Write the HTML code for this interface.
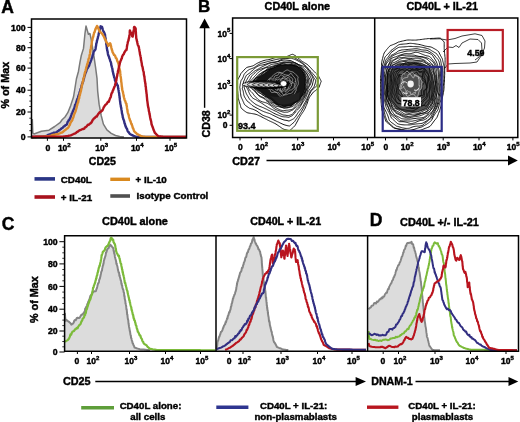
<!DOCTYPE html>
<html><head><meta charset="utf-8"><style>
html,body{margin:0;padding:0;background:#fff;width:520px;height:422px;overflow:hidden}
svg{display:block;filter:blur(0.3px);font-family:"Liberation Sans",sans-serif;font-weight:bold}
text{stroke:#000;stroke-width:0.42px}
</style></head><body>
<svg width="520" height="422" viewBox="0 0 520 422" fill="#000">
<rect width="520" height="422" fill="#fff"/>
<text x="1.3" y="12.7" font-size="17.5" text-anchor="start" >A</text>
<path d="M32.3,119.0 L32.8,133.0 L34.0,134.0 L41.4,131.2 L49.0,130.2 L54.7,126.5 L60.0,122.7 L62.1,119.8 L65.0,117.0 L67.8,112.7 L70.7,105.6 L73.5,97.1 L74.9,88.5 L76.4,79.0 L78.5,71.2 L79.9,62.7 L81.3,55.5 L83.5,48.4 L84.9,34.2 L86.0,26.0 L88.4,34.2 L89.9,33.5 L91.3,39.9 L93.4,52.7 L95.5,66.9 L97.0,78.3 L97.7,91.4 L99.1,104.2 L101.2,115.5 L103.4,124.1 L106.9,129.8 L111.2,133.3 L115.5,135.5 L119.7,136.6 L124.0,137.0 L124.0,138.0 L32.3,138.0 Z" fill="#dcdcdc" stroke="none"/>
<path d="M32.3,119.0 L32.8,133.0 L34.0,134.0 L41.4,131.2 L49.0,130.2 L54.7,126.5 L60.0,122.7 L62.1,119.8 L65.0,117.0 L67.8,112.7 L70.7,105.6 L73.5,97.1 L74.9,88.5 L76.4,79.0 L78.5,71.2 L79.9,62.7 L81.3,55.5 L83.5,48.4 L84.9,34.2 L86.0,26.0 L88.4,34.2 L89.9,33.5 L91.3,39.9 L93.4,52.7 L95.5,66.9 L97.0,78.3 L97.7,91.4 L99.1,104.2 L101.2,115.5 L103.4,124.1 L106.9,129.8 L111.2,133.3 L115.5,135.5 L119.7,136.6 L124.0,137.0" fill="none" stroke="#7a7a7a" stroke-width="1.5" stroke-linejoin="round"/>
<path d="M32.0,137.0 L33.0,137.0 L34.0,136.9 L35.0,136.9 L36.0,136.8 L37.0,136.8 L38.0,136.8 L39.0,136.7 L40.0,136.7 L41.0,136.6 L42.0,136.6 L43.0,136.6 L44.0,136.5 L45.0,136.5 L46.0,136.0 L47.1,135.5 L48.2,134.9 L49.2,134.5 L50.2,134.2 L51.1,133.8 L52.0,133.5 L53.0,133.1 L54.0,132.6 L55.0,132.7 L55.9,132.4 L56.9,132.0 L57.7,131.2 L58.5,131.0 L59.2,130.1 L60.0,129.7 L60.9,129.1 L61.8,128.2 L62.7,127.7 L63.7,126.5 L64.6,126.2 L65.5,125.1 L66.5,124.9 L67.1,123.9 L67.6,122.0 L68.2,121.1 L68.7,120.2 L69.3,120.2 L69.8,118.6 L70.4,117.9 L70.8,116.5 L71.1,115.8 L71.5,114.7 L71.8,113.7 L72.2,113.0 L72.6,112.0 L72.9,111.4 L73.3,110.2 L73.7,109.6 L74.0,108.5 L74.4,107.7 L74.8,106.4 L75.1,104.8 L75.5,104.7 L75.8,103.8 L76.2,102.8 L76.5,101.4 L76.9,100.6 L77.2,99.1 L77.6,98.8 L78.0,97.6 L78.3,96.3 L78.7,95.0 L79.0,95.0 L79.3,94.2 L79.6,92.2 L79.9,92.1 L80.2,90.7 L80.5,89.4 L80.7,88.6 L81.0,88.2 L81.3,87.4 L81.6,85.4 L81.9,85.1 L82.2,83.5 L82.5,83.3 L82.8,81.9 L83.1,81.6 L83.3,80.8 L83.6,79.2 L83.9,78.9 L84.2,77.1 L84.5,75.9 L84.8,75.5 L85.2,73.8 L85.5,72.9 L85.9,72.1 L86.3,71.3 L86.6,69.7 L87.0,68.5 L87.6,68.4 L88.1,66.8 L88.7,66.6 L89.2,65.5 L89.6,63.9 L90.0,63.0 L90.5,62.0 L90.8,61.2 L91.2,60.1 L91.5,59.1 L91.8,58.1 L92.2,57.5 L92.5,56.0 L92.8,54.8 L93.2,54.1 L93.5,52.4 L93.9,51.4 L94.2,51.1 L95.4,49.5 L95.6,48.5 L95.8,46.7 L96.0,46.1 L96.1,45.3 L96.3,43.5 L96.5,43.1 L96.8,42.2 L97.0,40.5 L97.2,40.2 L97.5,39.0 L97.8,38.2 L98.0,36.8 L98.2,36.2 L98.5,35.3 L98.8,33.4 L99.0,32.5 L99.3,32.1 L99.5,31.4 L99.8,29.5 L100.1,28.6 L100.3,27.7 L100.6,26.3 L102.0,26.8 L102.3,27.8 L102.6,28.8 L102.9,30.1 L103.2,30.8 L104.0,32.1 L104.7,33.8 L104.9,34.0 L105.1,35.7 L105.2,37.0 L105.4,37.6 L105.6,38.6 L105.8,40.4 L105.9,40.7 L106.1,41.7 L106.2,43.1 L106.3,44.4 L106.5,44.8 L106.6,46.1 L106.8,47.2 L106.9,48.8 L107.1,49.3 L107.3,50.9 L107.5,51.0 L107.7,52.3 L107.9,53.7 L108.1,54.9 L108.3,55.4 L108.7,56.1 L109.0,56.9 L109.4,58.4 L109.8,58.9 L110.1,60.6 L110.5,61.6 L110.8,62.0 L111.1,63.2 L111.3,65.0 L111.6,65.9 L111.9,67.3 L112.1,67.7 L112.3,68.5 L112.5,69.7 L112.7,71.3 L112.9,71.7 L113.1,72.8 L113.3,73.9 L113.6,74.9 L113.9,75.9 L114.2,77.5 L114.4,77.6 L114.7,78.4 L115.0,80.5 L115.5,81.4 L115.9,82.5 L116.4,82.8 L116.9,84.3 L117.3,85.3 L117.8,85.4 L118.0,87.1 L118.2,88.2 L118.3,89.1 L118.5,90.0 L118.7,90.8 L118.8,91.9 L119.0,92.8 L119.2,93.7 L119.3,95.3 L119.5,96.0 L119.6,97.7 L119.7,97.8 L119.9,99.9 L120.0,100.7 L120.2,102.0 L120.3,103.0 L120.4,104.0 L120.6,104.7 L120.7,105.0 L120.9,106.9 L121.1,107.3 L121.3,108.5 L121.5,109.9 L121.7,110.8 L121.8,111.7 L122.0,113.4 L122.2,114.0 L122.4,114.7 L122.6,115.7 L122.8,117.4 L123.1,118.0 L123.4,119.4 L123.7,119.9 L124.0,120.7 L124.3,122.1 L124.6,123.5 L124.9,123.7 L125.3,125.5 L125.7,126.6 L126.1,127.4 L126.6,128.4 L127.0,128.8 L127.4,130.3 L127.8,131.4 L128.5,131.9 L129.2,133.0 L129.9,133.9 L131.0,134.6 L132.1,135.1 L133.1,135.6 L134.2,136.2 L135.6,136.6 L137.0,137.0 L138.0,137.0 L139.0,137.0 L140.0,137.0 L141.0,137.0 L142.0,137.0 L143.0,137.0 L144.0,137.0 L145.0,137.0 L146.0,137.0 L147.0,137.0 L148.0,137.0 L149.0,137.0 L150.0,137.0 L151.0,137.0 L152.0,137.0 L153.0,137.0 L154.0,137.0 L155.0,137.0 L156.0,137.0 L157.0,137.0 L158.0,137.0 L159.0,137.0 L160.0,137.0 L161.0,137.0 L162.0,137.0 L163.0,137.0 L164.0,137.0 L165.0,137.0 L166.0,137.0 L167.0,137.0 L168.0,137.0 L169.0,137.0 L170.0,137.0 L171.0,137.0 L172.0,137.0 L173.0,137.0 L174.0,137.0 L175.0,137.0 L176.0,137.0 L177.0,137.0 L178.0,137.0 L179.0,137.0 L180.0,137.0 L181.0,137.0 L182.0,137.0 L183.0,137.0 L184.0,137.0 L185.0,137.0 L186.0,137.0" fill="none" stroke="#322f82" stroke-width="2.4" stroke-linejoin="round"/>
<path d="M32.0,137.2 L33.0,137.1 L34.0,137.1 L35.0,137.0 L36.0,137.0 L37.0,136.9 L38.0,136.8 L39.0,136.8 L40.0,136.7 L41.0,136.7 L42.0,136.6 L43.0,136.6 L44.0,136.5 L45.0,136.4 L46.0,136.4 L47.0,136.3 L48.0,136.3 L49.0,136.2 L50.0,135.9 L51.0,135.6 L52.1,135.2 L53.1,135.0 L54.1,134.8 L55.1,134.6 L56.0,134.3 L57.0,134.1 L58.0,134.0 L58.9,133.7 L59.9,133.3 L60.8,132.8 L61.8,132.6 L62.7,132.2 L63.5,131.4 L64.4,130.6 L65.2,130.0 L66.0,129.5 L66.8,128.6 L67.7,128.2 L68.5,127.3 L69.0,126.1 L69.5,125.4 L69.9,124.6 L70.4,122.9 L70.9,122.4 L71.3,121.4 L71.8,121.0 L72.3,120.1 L72.7,118.5 L73.0,118.2 L73.4,117.1 L73.8,115.5 L74.1,114.7 L74.5,113.4 L74.8,113.2 L75.2,112.1 L75.5,111.4 L75.8,110.3 L76.1,109.2 L76.4,108.3 L76.7,107.2 L76.9,105.7 L77.2,105.3 L77.5,103.6 L77.8,102.8 L78.1,102.6 L78.4,100.7 L78.6,99.7 L78.9,98.6 L79.1,98.5 L79.4,96.6 L79.6,95.3 L79.9,95.2 L80.1,93.3 L80.4,93.1 L80.6,91.9 L80.9,91.0 L81.1,90.1 L81.3,88.6 L81.5,87.8 L81.8,85.9 L82.0,85.7 L82.2,84.3 L82.4,83.5 L82.7,81.8 L82.9,81.5 L83.2,80.7 L83.4,78.6 L83.7,77.8 L84.0,77.1 L84.2,76.3 L84.5,74.6 L84.7,73.4 L85.0,72.5 L85.3,71.8 L85.5,71.0 L85.8,69.5 L86.1,68.5 L86.3,67.5 L86.6,66.5 L86.9,65.6 L87.2,64.2 L87.4,63.7 L87.7,63.3 L88.0,61.5 L88.2,60.8 L88.5,59.1 L88.8,58.6 L89.1,57.6 L89.4,56.5 L89.6,55.2 L89.9,54.1 L90.1,53.2 L90.2,52.4 L90.4,50.5 L90.6,49.3 L90.8,49.1 L91.0,48.2 L91.1,46.7 L91.3,45.5 L91.5,44.8 L91.7,43.1 L91.8,42.1 L92.0,40.9 L92.3,40.3 L92.5,39.0 L92.8,37.8 L93.0,37.3 L93.3,36.5 L93.6,34.7 L93.8,34.1 L94.1,32.7 L94.5,32.3 L94.9,31.0 L95.3,29.6 L95.8,28.6 L96.2,27.4 L96.6,26.9 L97.0,25.9 L97.5,26.5 L97.9,27.6 L98.4,28.5 L98.9,29.9 L99.3,30.1 L99.8,32.0 L100.5,32.1 L101.2,32.9 L102.0,33.5 L102.7,34.6 L103.2,35.5 L103.6,36.2 L104.1,37.0 L104.6,38.3 L105.0,39.4 L105.5,39.8 L106.0,41.1 L106.4,42.4 L106.9,42.7 L107.4,43.4 L107.8,44.3 L108.3,45.9 L108.9,44.9 L109.4,44.3 L110.0,43.2 L110.3,43.5 L110.6,44.4 L110.8,45.5 L111.1,46.4 L111.4,48.0 L111.7,49.2 L112.0,50.2 L112.2,50.4 L112.5,52.1 L112.8,52.5 L113.4,53.6 L114.0,54.9 L114.6,55.1 L115.2,56.0 L115.8,57.9 L116.4,58.2 L116.8,59.2 L117.1,60.4 L117.5,61.5 L117.8,61.6 L118.2,63.0 L118.5,64.0 L118.7,65.1 L118.9,65.8 L119.1,67.2 L119.4,68.7 L119.6,69.0 L119.8,70.2 L120.0,70.7 L120.1,72.0 L120.3,73.5 L120.4,73.9 L120.5,75.9 L120.7,77.0 L120.8,77.1 L121.0,79.2 L121.1,79.5 L121.2,81.1 L121.3,82.2 L121.5,82.8 L121.6,84.3 L121.7,85.4 L121.8,86.7 L122.0,87.1 L122.1,88.8 L122.3,90.1 L122.5,90.7 L122.7,91.5 L122.9,92.0 L123.2,93.5 L123.4,94.3 L123.6,95.8 L123.8,96.7 L124.0,97.6 L124.2,98.1 L124.6,99.6 L124.9,100.6 L125.3,101.0 L125.7,102.8 L126.0,103.4 L126.4,103.7 L126.6,105.8 L126.8,105.9 L126.9,107.2 L127.1,108.7 L127.3,109.6 L127.5,110.6 L127.6,111.8 L127.8,112.6 L128.1,113.5 L128.4,114.3 L128.7,115.2 L129.0,117.0 L129.3,118.1 L129.6,118.8 L129.9,120.1 L130.2,120.6 L130.6,121.4 L130.9,122.5 L131.3,124.0 L131.7,124.0 L132.0,125.5 L132.4,126.2 L132.7,127.7 L133.1,128.2 L133.5,129.2 L133.8,130.2 L134.2,131.2 L135.1,132.3 L136.1,133.0 L137.0,134.1 L138.1,134.5 L139.2,135.1 L140.2,135.6 L141.3,136.2 L142.4,136.4 L143.4,136.6 L144.4,136.8 L145.5,137.0 L146.5,137.0 L147.5,137.0 L148.5,137.0 L149.6,137.0 L150.6,137.0 L151.6,137.0 L152.6,137.0 L153.6,137.0 L154.6,137.0 L155.6,137.0 L156.6,137.0 L157.7,137.0 L158.7,137.0 L159.7,137.0 L160.7,137.0 L161.7,137.0 L162.7,137.0 L163.7,137.0 L164.7,137.0 L165.8,137.0 L166.8,137.0 L167.8,137.0 L168.8,137.0 L169.8,137.0 L170.8,137.0 L171.8,137.0 L172.8,137.0 L173.8,137.0 L174.9,137.0 L175.9,137.0 L176.9,137.0 L177.9,137.0 L178.9,137.0 L179.9,137.0 L180.9,137.0 L181.9,137.0 L183.0,137.0 L184.0,137.0 L185.0,137.0 L186.0,137.0" fill="none" stroke="#dc8a2c" stroke-width="2.4" stroke-linejoin="round"/>
<path d="M32.0,136.8 L33.0,136.8 L34.0,136.8 L35.0,136.8 L36.0,136.8 L37.0,136.8 L38.0,136.8 L39.0,136.8 L40.0,136.8 L41.0,136.8 L42.0,136.8 L43.0,136.8 L44.0,136.7 L45.0,136.7 L46.0,136.8 L47.0,136.7 L48.0,136.8 L49.0,136.7 L50.0,136.7 L51.0,136.7 L52.0,136.7 L53.0,136.7 L54.0,136.7 L55.0,136.7 L56.0,136.7 L57.0,136.7 L58.0,136.7 L59.0,136.7 L60.0,136.7 L61.0,136.7 L62.0,136.6 L63.0,136.6 L64.0,136.5 L65.0,136.5 L66.2,136.3 L67.3,136.1 L68.5,135.8 L69.6,135.6 L70.8,135.3 L71.7,134.9 L72.6,134.5 L73.6,134.0 L74.5,133.6 L75.4,133.3 L76.2,132.7 L77.1,131.8 L78.0,131.5 L78.8,130.9 L79.7,130.1 L80.7,130.0 L81.6,129.5 L82.6,129.0 L83.5,129.0 L84.3,128.6 L85.0,127.3 L85.8,127.1 L86.9,126.1 L88.1,124.6 L88.9,124.7 L89.8,123.7 L90.7,123.3 L91.5,122.4 L92.1,121.4 L92.7,119.9 L93.2,119.5 L93.8,118.6 L94.8,117.9 L95.7,116.8 L96.7,116.6 L97.4,115.4 L98.2,114.1 L98.9,113.2 L99.6,112.4 L100.8,111.7 L101.9,110.8 L102.4,110.3 L102.8,109.6 L103.3,108.4 L103.7,107.3 L104.2,106.7 L105.0,105.3 L105.7,104.6 L106.5,104.0 L107.3,102.8 L108.0,101.7 L108.8,101.8 L109.2,100.6 L109.7,99.1 L110.1,98.1 L110.6,97.3 L110.9,96.3 L111.2,94.7 L111.6,93.4 L112.0,92.7 L112.4,92.3 L112.8,90.6 L113.2,90.0 L113.7,88.6 L114.1,87.7 L114.6,86.6 L114.9,85.8 L115.2,84.4 L115.6,83.1 L115.9,82.0 L116.1,81.1 L116.3,80.5 L116.5,79.0 L116.7,78.0 L116.8,77.5 L117.0,76.4 L117.2,75.8 L117.4,74.0 L117.6,73.5 L117.8,72.5 L118.0,71.0 L118.2,71.2 L118.5,69.3 L118.7,68.2 L118.9,67.6 L119.1,66.3 L119.3,65.8 L119.6,64.5 L119.8,63.2 L120.0,62.2 L120.3,62.0 L120.7,60.5 L121.0,60.2 L121.4,58.9 L121.8,58.5 L122.1,56.8 L122.6,55.6 L123.2,54.6 L123.7,54.2 L124.2,52.9 L124.9,51.6 L125.7,50.3 L126.4,50.1 L126.6,49.4 L126.8,48.0 L127.0,46.3 L127.2,45.3 L127.4,44.3 L127.6,43.4 L127.8,42.2 L128.1,41.1 L128.4,40.7 L128.6,39.9 L128.9,37.9 L129.2,37.7 L129.3,36.0 L129.4,35.3 L129.6,34.4 L129.7,33.4 L129.8,31.2 L129.9,30.5 L130.4,31.8 L130.8,33.1 L131.3,33.0 L131.8,34.5 L132.2,36.3 L132.7,36.6 L132.8,35.9 L133.0,34.8 L133.1,34.1 L133.3,33.3 L133.4,31.4 L133.6,31.0 L133.8,29.9 L133.9,28.9 L134.0,27.5 L134.2,26.9 L134.9,27.3 L135.6,28.4 L135.7,29.2 L135.7,30.8 L135.8,31.5 L135.9,32.2 L135.9,33.1 L136.0,34.8 L136.1,35.6 L136.2,36.8 L136.2,37.4 L136.3,38.5 L136.6,39.2 L136.9,41.0 L137.1,41.3 L137.4,43.0 L137.7,44.5 L138.0,45.5 L138.4,45.8 L138.8,47.0 L139.1,48.8 L139.3,49.6 L139.5,51.0 L139.7,52.1 L139.8,52.6 L140.0,54.3 L140.2,55.1 L140.4,55.7 L140.6,56.8 L140.8,57.5 L140.9,59.0 L141.1,60.7 L141.3,60.8 L141.5,62.4 L141.7,62.9 L141.8,63.9 L142.0,65.7 L142.3,66.3 L142.6,67.2 L142.8,68.5 L143.1,70.2 L143.4,71.3 L143.6,71.7 L143.8,73.0 L143.9,74.9 L144.1,75.1 L144.3,76.6 L144.5,77.5 L144.6,79.0 L144.8,79.8 L144.9,81.1 L145.1,81.9 L145.2,82.5 L145.3,83.6 L145.5,84.5 L145.6,86.5 L145.8,86.7 L145.9,87.6 L146.0,89.8 L146.2,90.0 L146.3,91.9 L146.4,92.0 L146.5,93.5 L146.7,94.3 L146.8,96.1 L146.9,96.9 L147.0,98.0 L147.1,99.2 L147.2,100.4 L147.3,100.8 L147.5,102.2 L147.6,103.1 L147.7,103.7 L147.9,105.6 L148.1,106.4 L148.3,107.7 L148.5,108.0 L148.7,109.4 L148.8,110.3 L149.0,111.7 L149.2,111.9 L149.4,113.3 L149.6,114.5 L149.8,115.0 L150.0,116.6 L150.2,117.8 L150.4,118.4 L150.6,119.7 L150.9,120.6 L151.1,121.2 L151.3,122.3 L151.5,124.1 L151.7,124.3 L151.9,125.4 L152.3,126.1 L152.7,127.3 L153.1,128.3 L153.6,129.9 L154.0,130.7 L154.4,131.8 L154.8,132.8 L155.5,133.4 L156.2,134.2 L156.9,134.8 L157.6,135.5 L158.3,136.2 L159.4,136.4 L160.6,136.5 L161.7,136.6 L162.9,136.8 L164.0,136.9 L165.0,136.9 L166.0,136.9 L167.0,136.9 L168.0,136.9 L169.0,136.9 L170.0,136.9 L171.0,136.9 L172.0,136.9 L173.0,136.9 L174.0,136.9 L175.0,136.9 L176.0,136.9 L177.0,136.9 L178.0,136.9 L179.0,136.9 L180.0,136.9 L181.0,136.9 L182.0,136.9 L183.0,136.9 L184.0,136.9 L185.0,136.9 L186.0,136.9" fill="none" stroke="#b3131d" stroke-width="2.4" stroke-linejoin="round"/>
<rect x="31.5" y="19" width="155.0" height="119" fill="none" stroke="#000" stroke-width="1.5"/>
<line x1="27.5" y1="27.4" x2="31.5" y2="27.4" stroke="#000" stroke-width="1"/>
<text x="25.6" y="30.5" font-size="8.7" text-anchor="end" >100</text>
<line x1="27.5" y1="47.7" x2="31.5" y2="47.7" stroke="#000" stroke-width="1"/>
<text x="25.6" y="50.800000000000004" font-size="8.7" text-anchor="end" >80</text>
<line x1="27.5" y1="68.1" x2="31.5" y2="68.1" stroke="#000" stroke-width="1"/>
<text x="25.6" y="71.19999999999999" font-size="8.7" text-anchor="end" >60</text>
<line x1="27.5" y1="90.2" x2="31.5" y2="90.2" stroke="#000" stroke-width="1"/>
<text x="25.6" y="93.3" font-size="8.7" text-anchor="end" >40</text>
<line x1="27.5" y1="112" x2="31.5" y2="112" stroke="#000" stroke-width="1"/>
<text x="25.6" y="115.1" font-size="8.7" text-anchor="end" >20</text>
<line x1="27.5" y1="136.9" x2="31.5" y2="136.9" stroke="#000" stroke-width="1"/>
<text x="25.6" y="140.0" font-size="8.7" text-anchor="end" >0</text>
<line x1="29.3" y1="32.5" x2="31.5" y2="32.5" stroke="#000" stroke-width="0.8"/>
<line x1="29.3" y1="37.5" x2="31.5" y2="37.5" stroke="#000" stroke-width="0.8"/>
<line x1="29.3" y1="42.6" x2="31.5" y2="42.6" stroke="#000" stroke-width="0.8"/>
<line x1="29.3" y1="52.8" x2="31.5" y2="52.8" stroke="#000" stroke-width="0.8"/>
<line x1="29.3" y1="57.9" x2="31.5" y2="57.9" stroke="#000" stroke-width="0.8"/>
<line x1="29.3" y1="63.0" x2="31.5" y2="63.0" stroke="#000" stroke-width="0.8"/>
<line x1="29.3" y1="73.6" x2="31.5" y2="73.6" stroke="#000" stroke-width="0.8"/>
<line x1="29.3" y1="79.2" x2="31.5" y2="79.2" stroke="#000" stroke-width="0.8"/>
<line x1="29.3" y1="84.7" x2="31.5" y2="84.7" stroke="#000" stroke-width="0.8"/>
<line x1="29.3" y1="95.7" x2="31.5" y2="95.7" stroke="#000" stroke-width="0.8"/>
<line x1="29.3" y1="101.1" x2="31.5" y2="101.1" stroke="#000" stroke-width="0.8"/>
<line x1="29.3" y1="106.5" x2="31.5" y2="106.5" stroke="#000" stroke-width="0.8"/>
<line x1="29.3" y1="118.2" x2="31.5" y2="118.2" stroke="#000" stroke-width="0.8"/>
<line x1="29.3" y1="124.5" x2="31.5" y2="124.5" stroke="#000" stroke-width="0.8"/>
<line x1="29.3" y1="130.7" x2="31.5" y2="130.7" stroke="#000" stroke-width="0.8"/>
<line x1="47.4" y1="138" x2="47.4" y2="140.8" stroke="#000" stroke-width="1"/>
<line x1="63.5" y1="138" x2="63.5" y2="140.8" stroke="#000" stroke-width="1"/>
<line x1="100.8" y1="138" x2="100.8" y2="140.8" stroke="#000" stroke-width="1"/>
<line x1="136.5" y1="138" x2="136.5" y2="140.8" stroke="#000" stroke-width="1"/>
<line x1="170" y1="138" x2="170" y2="140.8" stroke="#000" stroke-width="1"/>
<text x="47.9" y="151.2" font-size="8.7" text-anchor="middle" >0</text>
<text x="57.9" y="151.2" font-size="8.5">10<tspan font-size="6.0" dy="-4.2">2</tspan></text>
<text x="95.2" y="151.2" font-size="8.5">10<tspan font-size="6.0" dy="-4.2">3</tspan></text>
<text x="130.9" y="151.2" font-size="8.5">10<tspan font-size="6.0" dy="-4.2">4</tspan></text>
<text x="164.4" y="151.2" font-size="8.5">10<tspan font-size="6.0" dy="-4.2">5</tspan></text>
<text x="102.3" y="165.4" font-size="10.6" text-anchor="middle" >CD25</text>
<line x1="34.5" y1="178.9" x2="55" y2="178.9" stroke="#2a3585" stroke-width="3.6"/>
<line x1="34.5" y1="197" x2="55" y2="197" stroke="#a8121d" stroke-width="3.6"/>
<line x1="110.3" y1="179.3" x2="130" y2="179.3" stroke="#d9891e" stroke-width="3.4"/>
<line x1="110.3" y1="196" x2="130" y2="196" stroke="#505050" stroke-width="3.6"/>
<text x="60.8" y="183.3" font-size="9.8" text-anchor="start" >CD40L</text>
<text x="60.8" y="201" font-size="9.8" text-anchor="start" >+ IL-21</text>
<text x="135.5" y="183.2" font-size="9.8" text-anchor="start" >+ IL-10</text>
<text x="136.5" y="198.9" font-size="9.8" text-anchor="start" >Isotype Control</text>
<text x="198.0" y="12.4" font-size="17.0" text-anchor="start" >B</text>
<line x1="204.6" y1="27" x2="204.6" y2="107.8" stroke="#000" stroke-width="1.4"/>
<path d="M204.6,18.6 L199.3,28.2 L209.9,28.2 Z" fill="#000"/>
<text transform="translate(209.6,137.4) rotate(-90)" font-size="10.6">CD38</text>
<line x1="266.5" y1="160.5" x2="510" y2="160.5" stroke="#000" stroke-width="1.4"/>
<path d="M517.8,160.5 L508,155.6 L508,165.4 Z" fill="#000"/>
<text x="232.3" y="164.6" font-size="10.8" text-anchor="start" >CD27</text>
<text x="297.3" y="9.8" font-size="10.85" text-anchor="middle" >CD40L alone</text>
<text x="442.2" y="10.3" font-size="10.8" text-anchor="middle" >CD40L + IL-21</text>
<path d="M237.4,89.3 L237.5,90.4 L237.7,91.6 L237.8,92.7 L237.9,93.8 L238.0,95.0 L238.1,96.3 L238.2,97.5 L238.4,98.8 L238.8,100.1 L239.2,101.5 L239.6,102.8 L240.0,104.1 L240.4,105.4 L240.7,106.7 L241.1,107.9 L241.9,108.8 L242.8,109.6 L243.8,110.4 L244.7,111.1 L245.7,111.8 L246.8,112.5 L247.9,112.9 L249.1,113.1 L250.4,113.3 L251.5,113.5 L252.7,113.7 L253.8,113.9 L255.0,114.1 L256.1,114.4 L257.3,114.8 L258.4,115.3 L259.6,115.9 L260.8,116.4 L262.0,117.1 L263.2,117.7 L264.3,118.3 L265.5,118.9 L266.6,119.4 L267.6,120.0 L268.6,120.5 L269.6,121.0 L270.6,121.4 L271.6,121.9 L272.6,122.3 L273.7,122.9 L274.8,123.4 L276.0,124.1 L277.1,124.8 L278.2,125.6 L279.3,126.3 L280.4,127.1 L281.5,127.9 L282.5,128.6 L283.6,129.1 L284.7,129.5 L285.9,129.8 L287.0,130.1 L288.2,130.4 L289.5,130.7 L290.5,129.9 L291.5,129.0 L292.5,128.1 L293.5,127.2 L294.4,126.3 L295.2,125.3 L295.8,124.2 L296.4,123.1 L297.0,122.0 L297.6,120.9 L298.1,119.9 L298.7,118.8 L299.3,117.7 L299.9,116.7 L300.5,115.7 L301.1,114.7 L301.8,113.7 L302.5,112.7 L303.3,111.6 L303.9,110.5 L304.6,109.3 L305.2,108.1 L305.7,106.8 L306.3,105.5 L306.8,104.3 L307.3,103.0 L307.7,101.8 L308.1,100.7 L308.5,99.6 L308.9,98.6 L309.4,97.6 L309.9,96.7 L310.5,95.8 L311.2,95.0 L311.9,94.0 L312.6,93.0 L313.3,92.1 L314.4,91.3 L315.5,90.6 L316.5,89.7 L317.4,88.9 L318.3,88.1 L319.1,87.2 L319.5,86.0 L319.9,84.9 L320.3,83.7 L320.7,82.6 L321.2,81.4 L320.8,80.4 L320.3,79.4 L319.7,78.3 L319.2,77.3 L318.7,76.4 L318.1,75.4 L317.3,74.7 L316.5,73.9 L315.7,73.1 L314.9,72.3 L314.1,71.5 L313.3,70.6 L312.4,69.7 L311.6,68.8 L310.7,67.8 L309.8,66.9 L308.8,65.9 L307.9,65.0 L306.9,64.2 L305.8,63.5 L304.7,62.9 L303.6,62.2 L302.6,61.6 L301.6,60.9 L300.6,60.1 L299.6,59.3 L298.7,58.4 L297.7,57.5 L296.7,56.7 L295.7,55.9 L294.6,55.3 L293.6,54.7 L292.6,54.3 L291.5,54.5 L290.4,55.0 L289.3,55.5 L288.2,56.0 L287.1,56.4 L286.0,56.7 L284.9,56.8 L283.7,56.9 L282.4,56.9 L281.1,56.9 L279.7,57.0 L278.4,57.1 L277.0,57.3 L275.7,57.6 L274.5,57.9 L273.3,58.3 L272.1,58.7 L271.0,59.0 L270.0,59.3 L268.9,59.6 L267.7,59.8 L266.5,59.9 L265.3,60.2 L264.0,60.5 L262.7,60.9 L261.4,61.4 L260.1,61.9 L258.8,62.5 L257.6,63.1 L256.4,63.7 L255.4,64.4 L254.4,65.0 L253.4,65.6 L252.4,66.0 L251.3,66.3 L250.2,66.6 L249.1,66.8 L247.9,67.1 L246.7,67.5 L245.8,68.3 L244.9,69.1 L244.0,70.1 L243.2,71.0 L242.3,72.0 L241.5,72.9 L240.7,73.8 L240.3,74.9 L239.8,76.0 L239.3,77.0 L238.7,77.9 L238.2,78.9 L237.6,79.9 L237.1,80.9 L237.0,82.1 L237.0,83.3 L237.0,84.5 L237.1,85.7 L237.2,86.9 L237.3,88.1 Z" fill="none" stroke="#000" stroke-width="0.9" stroke-linejoin="round"/>
<path d="M239.8,87.6 L240.0,88.8 L240.1,90.0 L240.3,91.3 L240.4,92.5 L240.6,93.8 L240.8,95.0 L240.9,96.1 L241.2,97.2 L241.7,98.3 L242.2,99.3 L242.7,100.4 L243.1,101.4 L243.6,102.4 L244.0,103.5 L244.5,104.5 L245.3,105.2 L246.1,105.9 L247.0,106.5 L247.9,107.2 L248.7,107.7 L249.6,108.3 L250.7,108.6 L251.7,108.9 L252.8,109.2 L253.9,109.6 L254.9,110.1 L256.0,110.6 L257.0,111.2 L258.0,111.9 L259.0,112.7 L260.0,113.4 L261.1,114.1 L262.1,114.8 L263.2,115.4 L264.2,115.8 L265.3,116.2 L266.3,116.6 L267.3,116.9 L268.2,117.2 L269.1,117.6 L270.1,118.0 L271.0,118.5 L272.0,119.0 L273.0,119.5 L274.1,120.1 L275.2,120.6 L276.4,121.2 L277.5,121.7 L278.7,122.2 L279.8,122.8 L280.9,123.3 L282.0,123.8 L283.0,124.3 L284.0,124.7 L285.0,125.0 L286.1,125.3 L287.1,125.6 L288.2,125.8 L289.4,126.0 L290.3,125.4 L291.3,124.6 L292.2,123.8 L293.1,123.0 L294.0,122.3 L294.7,121.5 L295.2,120.7 L295.7,119.9 L296.2,119.1 L296.8,118.4 L297.3,117.6 L297.9,116.7 L298.6,115.8 L299.3,114.8 L300.0,113.7 L300.8,112.5 L301.6,111.2 L302.3,110.0 L303.0,108.8 L303.6,107.7 L304.1,106.6 L304.6,105.6 L305.1,104.7 L305.6,103.8 L306.0,102.9 L306.5,102.0 L306.9,101.0 L307.3,100.0 L307.7,98.8 L308.2,97.7 L308.6,96.5 L309.1,95.3 L309.6,94.2 L310.1,93.1 L310.7,92.1 L311.2,91.1 L311.9,90.2 L312.8,89.4 L313.7,88.7 L314.6,87.9 L315.4,87.1 L316.2,86.3 L316.9,85.5 L317.2,84.4 L317.5,83.4 L317.8,82.5 L318.0,81.6 L318.3,80.9 L317.9,80.2 L317.3,79.5 L316.8,78.8 L316.3,78.0 L315.8,77.2 L315.2,76.3 L314.4,75.4 L313.6,74.4 L312.7,73.5 L311.8,72.5 L311.0,71.6 L310.1,70.8 L309.3,70.0 L308.6,69.2 L307.9,68.5 L307.3,67.8 L306.6,67.1 L306.0,66.4 L305.3,65.6 L304.6,64.8 L303.7,64.0 L302.8,63.2 L301.9,62.4 L300.8,61.7 L299.8,60.9 L298.8,60.2 L297.8,59.6 L296.8,59.0 L295.8,58.5 L294.9,58.0 L294.0,57.5 L293.1,57.1 L292.2,56.7 L291.2,56.7 L290.2,57.0 L289.1,57.2 L288.1,57.5 L287.0,57.7 L285.9,57.8 L284.9,58.0 L283.8,58.2 L282.7,58.4 L281.5,58.5 L280.4,58.7 L279.2,58.9 L278.0,59.1 L276.8,59.3 L275.6,59.6 L274.4,59.9 L273.2,60.2 L272.0,60.5 L270.8,60.8 L269.7,61.1 L268.5,61.4 L267.3,61.7 L266.2,62.0 L265.1,62.3 L263.9,62.6 L262.8,62.9 L261.7,63.2 L260.7,63.6 L259.6,64.1 L258.6,64.6 L257.7,65.2 L256.7,65.9 L255.8,66.6 L254.8,67.2 L253.8,67.8 L252.8,68.2 L251.7,68.6 L250.6,69.0 L249.5,69.4 L248.6,70.0 L247.7,70.6 L246.9,71.3 L246.1,72.0 L245.4,72.8 L244.7,73.6 L244.1,74.4 L243.7,75.4 L243.4,76.4 L243.0,77.3 L242.6,78.2 L242.1,79.0 L241.6,79.9 L241.0,80.6 L240.8,81.5 L240.6,82.4 L240.4,83.3 L240.2,84.3 L240.1,85.3 L239.9,86.4 Z" fill="none" stroke="#000" stroke-width="0.9" stroke-linejoin="round"/>
<path d="M242.3,88.8 L242.6,89.6 L242.9,90.3 L243.1,91.0 L243.3,91.8 L243.4,92.6 L243.6,93.5 L243.7,94.4 L243.9,95.3 L244.2,96.2 L244.6,97.0 L245.1,97.9 L245.6,98.7 L246.1,99.5 L246.6,100.3 L247.2,101.1 L248.1,101.8 L248.9,102.4 L249.8,103.1 L250.6,103.8 L251.4,104.6 L252.2,105.4 L253.1,106.0 L254.1,106.6 L255.0,107.1 L256.0,107.7 L257.0,108.2 L257.9,108.7 L258.9,109.2 L259.8,109.7 L260.8,110.2 L261.7,110.7 L262.6,111.1 L263.6,111.5 L264.5,111.9 L265.5,112.2 L266.5,112.6 L267.5,112.9 L268.5,113.2 L269.5,113.5 L270.4,113.9 L271.3,114.3 L272.2,114.8 L273.1,115.3 L274.0,115.7 L275.0,116.2 L275.9,116.6 L276.9,117.1 L277.9,117.6 L278.9,118.1 L279.9,118.5 L281.0,118.9 L282.0,119.3 L283.0,119.7 L284.0,120.0 L285.0,120.2 L286.0,120.3 L287.0,120.5 L288.0,120.8 L289.0,121.1 L289.9,120.7 L290.8,120.2 L291.7,119.8 L292.6,119.3 L293.5,118.8 L294.2,118.2 L294.9,117.5 L295.5,116.7 L296.0,115.9 L296.6,115.0 L297.1,114.2 L297.7,113.3 L298.2,112.5 L298.8,111.7 L299.5,110.9 L300.2,110.1 L300.8,109.3 L301.5,108.4 L302.1,107.6 L302.7,106.7 L303.2,105.9 L303.7,105.0 L304.1,104.1 L304.6,103.2 L305.1,102.3 L305.6,101.3 L306.1,100.4 L306.6,99.4 L307.0,98.4 L307.5,97.4 L308.0,96.4 L308.4,95.5 L308.8,94.6 L309.1,93.7 L309.5,92.8 L309.8,92.0 L310.2,91.2 L310.8,90.6 L311.4,89.9 L312.1,89.1 L312.8,88.3 L313.5,87.4 L314.2,86.4 L314.6,85.2 L315.0,84.0 L315.3,82.8 L315.6,81.8 L315.8,80.8 L315.4,79.9 L314.8,79.1 L314.3,78.4 L313.8,77.7 L313.4,76.9 L312.9,76.1 L312.4,75.3 L311.8,74.4 L311.2,73.5 L310.6,72.5 L309.9,71.4 L309.2,70.3 L308.4,69.3 L307.7,68.3 L306.9,67.4 L306.1,66.6 L305.4,66.0 L304.6,65.3 L303.8,64.7 L303.1,64.1 L302.2,63.5 L301.4,63.0 L300.5,62.5 L299.6,61.9 L298.8,61.4 L297.9,60.9 L297.0,60.4 L296.1,59.9 L295.2,59.6 L294.3,59.2 L293.4,58.9 L292.4,58.6 L291.4,58.2 L290.3,58.2 L289.2,58.3 L288.0,58.4 L286.9,58.5 L285.7,58.5 L284.7,58.6 L283.6,58.8 L282.7,59.1 L281.8,59.4 L280.9,59.8 L280.0,60.2 L279.2,60.7 L278.4,61.0 L277.5,61.4 L276.6,61.6 L275.6,61.8 L274.6,62.0 L273.5,62.1 L272.5,62.2 L271.4,62.4 L270.3,62.7 L269.3,62.9 L268.2,63.3 L267.1,63.7 L266.1,64.0 L265.0,64.4 L263.9,64.6 L262.8,64.9 L261.7,65.1 L260.6,65.2 L259.7,65.5 L258.8,65.8 L257.9,66.2 L257.1,66.7 L256.2,67.2 L255.4,67.9 L254.5,68.6 L253.6,69.3 L252.7,70.1 L251.8,71.1 L250.9,71.9 L250.0,72.7 L249.1,73.4 L248.2,74.0 L247.3,74.6 L246.5,75.2 L246.1,75.9 L245.6,76.8 L245.2,77.7 L244.8,78.7 L244.4,79.8 L243.9,80.9 L243.5,82.1 L243.3,83.2 L243.1,84.4 L242.9,85.4 L242.7,86.4 L242.6,87.3 L242.4,88.1 Z" fill="none" stroke="#000" stroke-width="0.9" stroke-linejoin="round"/>
<path d="M244.1,86.8 L244.3,87.8 L244.6,88.8 L244.9,89.8 L245.3,90.7 L245.6,91.7 L245.9,92.5 L246.2,93.3 L246.5,94.1 L247.0,94.8 L247.4,95.6 L247.9,96.3 L248.3,97.1 L248.8,97.9 L249.3,98.7 L249.9,99.6 L250.7,100.4 L251.6,101.1 L252.5,101.9 L253.4,102.6 L254.3,103.3 L255.1,104.0 L256.0,104.5 L256.8,105.0 L257.6,105.3 L258.4,105.7 L259.2,106.1 L260.0,106.4 L260.9,106.8 L261.8,107.1 L262.7,107.5 L263.7,107.9 L264.7,108.4 L265.6,108.8 L266.5,109.2 L267.4,109.7 L268.2,110.1 L269.0,110.5 L269.8,110.9 L270.6,111.4 L271.4,111.8 L272.3,112.3 L273.1,112.8 L274.0,113.3 L275.0,113.8 L276.0,114.2 L276.9,114.6 L277.9,115.0 L278.7,115.3 L279.6,115.7 L280.3,116.0 L281.1,116.2 L281.9,116.5 L282.7,116.7 L283.6,116.8 L284.5,116.9 L285.5,116.9 L286.5,117.0 L287.5,117.2 L288.4,117.4 L289.2,117.1 L290.0,116.8 L290.7,116.4 L291.4,116.1 L292.1,115.7 L292.8,115.2 L293.4,114.5 L294.0,113.8 L294.6,113.0 L295.3,112.2 L296.0,111.5 L296.7,110.7 L297.4,110.0 L298.1,109.3 L298.7,108.7 L299.3,108.0 L299.8,107.3 L300.3,106.5 L300.8,105.7 L301.2,104.9 L301.7,104.0 L302.3,103.1 L302.9,102.2 L303.5,101.3 L304.2,100.3 L304.8,99.5 L305.3,98.6 L305.7,97.7 L306.1,96.8 L306.4,95.9 L306.8,95.1 L307.1,94.2 L307.4,93.4 L307.8,92.6 L308.2,91.7 L308.7,90.8 L309.2,90.0 L309.8,89.2 L310.3,88.5 L310.9,87.7 L311.4,86.8 L311.9,86.0 L312.3,85.1 L312.5,84.0 L312.8,82.9 L313.0,81.9 L313.3,80.9 L313.5,80.0 L313.3,79.2 L313.0,78.5 L312.7,77.8 L312.4,77.1 L312.1,76.4 L311.8,75.6 L311.2,74.9 L310.7,74.0 L310.0,73.2 L309.4,72.2 L308.7,71.3 L308.0,70.3 L307.4,69.4 L306.8,68.6 L306.1,67.8 L305.5,67.3 L304.8,66.8 L304.1,66.4 L303.4,66.1 L302.6,65.9 L301.8,65.6 L300.9,65.3 L300.0,65.1 L299.1,64.8 L298.2,64.4 L297.3,64.0 L296.4,63.5 L295.5,63.0 L294.6,62.6 L293.7,62.1 L292.8,61.6 L291.9,61.1 L291.0,60.7 L290.0,60.5 L289.0,60.4 L288.0,60.3 L287.0,60.2 L286.0,60.1 L285.0,60.0 L284.0,60.0 L283.1,60.2 L282.1,60.4 L281.1,60.6 L280.1,60.9 L279.1,61.3 L278.1,61.6 L277.1,61.9 L276.1,62.1 L275.1,62.3 L274.1,62.4 L273.2,62.5 L272.2,62.7 L271.3,62.9 L270.3,63.1 L269.4,63.4 L268.4,63.8 L267.5,64.2 L266.5,64.7 L265.6,65.2 L264.6,65.6 L263.7,66.1 L262.8,66.5 L261.9,66.9 L261.1,67.4 L260.2,67.9 L259.4,68.3 L258.7,68.8 L257.9,69.2 L257.1,69.6 L256.3,70.1 L255.5,70.5 L254.7,71.0 L254.0,71.6 L253.3,72.2 L252.6,72.8 L251.8,73.4 L251.1,74.0 L250.4,74.5 L249.7,75.1 L249.2,75.9 L248.7,76.6 L248.2,77.3 L247.8,78.1 L247.3,78.9 L246.9,79.7 L246.4,80.4 L246.1,81.3 L245.8,82.1 L245.5,83.0 L245.1,83.9 L244.8,84.9 L244.4,85.8 Z" fill="none" stroke="#000" stroke-width="0.9" stroke-linejoin="round"/>
<path d="M245.7,86.1 L246.2,86.8 L246.7,87.6 L247.1,88.3 L247.6,89.1 L248.0,89.9 L248.4,90.8 L248.7,91.6 L249.0,92.5 L249.4,93.4 L249.9,94.3 L250.4,95.1 L251.0,96.0 L251.6,96.8 L252.2,97.5 L252.9,98.2 L253.8,98.7 L254.7,99.2 L255.5,99.5 L256.2,99.9 L256.9,100.3 L257.4,100.7 L258.0,101.0 L258.6,101.3 L259.3,101.7 L259.9,102.1 L260.6,102.6 L261.4,103.0 L262.2,103.5 L263.0,104.1 L263.8,104.6 L264.6,105.2 L265.4,105.7 L266.2,106.2 L267.0,106.7 L267.7,107.2 L268.4,107.6 L269.2,108.0 L269.9,108.4 L270.7,108.9 L271.6,109.3 L272.4,109.7 L273.3,110.1 L274.1,110.6 L275.0,110.9 L275.9,111.3 L276.7,111.7 L277.5,112.2 L278.3,112.6 L279.1,113.1 L279.9,113.5 L280.7,113.9 L281.6,114.3 L282.4,114.7 L283.4,115.0 L284.3,115.1 L285.3,115.2 L286.2,115.4 L287.2,115.5 L288.1,115.7 L288.9,115.5 L289.7,115.3 L290.5,115.0 L291.3,114.7 L292.1,114.3 L292.8,113.7 L293.5,113.0 L294.1,112.1 L294.8,111.2 L295.4,110.4 L296.1,109.5 L296.8,108.7 L297.4,108.0 L298.1,107.3 L298.8,106.7 L299.5,106.1 L300.1,105.4 L300.6,104.7 L301.1,103.9 L301.6,103.0 L302.1,102.1 L302.5,101.2 L302.9,100.3 L303.4,99.4 L303.8,98.6 L304.3,97.8 L304.7,97.1 L305.1,96.3 L305.5,95.6 L305.9,94.9 L306.2,94.2 L306.6,93.5 L306.9,92.6 L307.2,91.8 L307.5,90.9 L307.7,90.0 L308.0,89.1 L308.3,88.3 L308.7,87.5 L309.1,86.8 L309.5,86.0 L309.9,85.3 L310.4,84.6 L310.7,83.7 L311.0,82.8 L311.3,81.8 L311.5,80.9 L311.7,80.0 L311.4,79.1 L311.1,78.2 L310.7,77.4 L310.4,76.7 L310.1,76.0 L309.7,75.2 L309.3,74.6 L308.9,73.9 L308.3,73.3 L307.8,72.6 L307.2,71.8 L306.6,71.0 L305.9,70.3 L305.3,69.5 L304.6,68.8 L303.9,68.2 L303.1,67.6 L302.4,67.1 L301.6,66.5 L300.9,66.0 L300.1,65.5 L299.4,64.9 L298.5,64.5 L297.7,64.1 L296.9,63.6 L296.1,63.2 L295.3,62.8 L294.5,62.5 L293.7,62.3 L292.9,62.1 L292.1,62.0 L291.2,62.0 L290.4,62.0 L289.5,62.1 L288.5,62.2 L287.6,62.3 L286.6,62.3 L285.7,62.2 L284.8,62.1 L283.9,62.0 L283.0,62.1 L282.2,62.2 L281.3,62.4 L280.5,62.6 L279.6,62.8 L278.8,63.1 L277.9,63.4 L276.9,63.6 L276.0,63.8 L275.0,63.9 L274.1,64.0 L273.3,64.1 L272.4,64.3 L271.6,64.5 L270.8,64.8 L270.0,65.1 L269.3,65.5 L268.4,66.0 L267.6,66.5 L266.6,66.9 L265.7,67.3 L264.7,67.7 L263.8,68.1 L262.9,68.4 L262.0,68.7 L261.2,69.0 L260.4,69.2 L259.7,69.5 L258.9,69.8 L258.2,70.2 L257.4,70.7 L256.6,71.2 L255.8,71.9 L255.1,72.7 L254.3,73.4 L253.5,74.2 L252.8,74.9 L252.1,75.6 L251.5,76.3 L251.1,77.0 L250.8,77.7 L250.4,78.3 L250.1,79.0 L249.7,79.6 L249.3,80.2 L248.7,80.9 L248.3,81.6 L247.8,82.3 L247.3,83.0 L246.9,83.8 L246.4,84.5 L246.1,85.3 Z" fill="none" stroke="#000" stroke-width="0.9" stroke-linejoin="round"/>
<path d="M247.5,85.7 L247.8,86.5 L248.2,87.3 L248.5,88.0 L248.8,88.8 L249.2,89.4 L249.6,90.0 L250.0,90.6 L250.5,91.1 L251.1,91.6 L251.7,92.2 L252.2,92.7 L252.7,93.3 L253.3,94.0 L253.7,94.7 L254.3,95.5 L254.9,96.2 L255.6,96.9 L256.3,97.7 L257.0,98.4 L257.8,99.2 L258.6,99.9 L259.4,100.4 L260.2,100.9 L261.0,101.3 L261.8,101.6 L262.5,101.9 L263.2,102.1 L263.9,102.2 L264.6,102.4 L265.3,102.6 L265.9,102.8 L266.7,103.1 L267.4,103.4 L268.1,103.9 L268.9,104.3 L269.7,104.9 L270.5,105.5 L271.3,106.1 L272.0,106.7 L272.8,107.4 L273.5,108.0 L274.3,108.6 L275.0,109.1 L275.8,109.5 L276.6,109.9 L277.4,110.2 L278.2,110.5 L279.0,110.8 L279.7,111.0 L280.5,111.3 L281.3,111.5 L282.1,111.8 L282.8,112.0 L283.6,112.2 L284.4,112.3 L285.3,112.2 L286.1,112.2 L286.9,112.1 L287.8,112.1 L288.5,111.8 L289.3,111.5 L290.1,111.1 L290.9,110.8 L291.6,110.4 L292.4,110.1 L293.1,109.6 L293.7,109.1 L294.4,108.5 L295.0,108.0 L295.7,107.5 L296.3,107.0 L296.9,106.5 L297.6,106.0 L298.2,105.4 L298.8,104.9 L299.3,104.2 L299.8,103.4 L300.3,102.6 L300.8,101.9 L301.3,101.1 L301.8,100.4 L302.3,99.7 L302.8,99.0 L303.3,98.4 L303.8,97.7 L304.2,97.0 L304.5,96.2 L304.8,95.4 L305.1,94.6 L305.3,93.7 L305.6,92.9 L305.8,92.0 L306.0,91.2 L306.3,90.4 L306.6,89.7 L306.9,89.0 L307.3,88.4 L307.7,87.8 L308.1,87.2 L308.5,86.5 L309.0,85.8 L309.4,85.0 L309.7,84.1 L309.9,83.1 L310.1,82.0 L310.2,81.0 L310.2,80.0 L309.8,79.1 L309.3,78.1 L308.8,77.3 L308.3,76.4 L307.9,75.6 L307.4,74.9 L307.0,74.2 L306.6,73.5 L306.1,72.9 L305.7,72.3 L305.3,71.7 L304.8,71.1 L304.4,70.6 L304.0,70.0 L303.5,69.5 L302.9,69.0 L302.3,68.5 L301.7,67.9 L301.0,67.3 L300.4,66.6 L299.8,66.0 L299.1,65.3 L298.4,64.8 L297.7,64.4 L297.0,64.0 L296.2,63.7 L295.4,63.4 L294.5,63.2 L293.6,62.9 L292.6,62.7 L291.7,62.6 L290.7,62.4 L289.8,62.2 L288.9,62.1 L288.0,62.1 L287.1,62.1 L286.3,62.1 L285.4,62.1 L284.6,62.2 L283.8,62.3 L282.9,62.6 L282.1,62.9 L281.2,63.3 L280.4,63.6 L279.6,63.9 L278.9,64.2 L278.1,64.5 L277.4,64.7 L276.7,64.9 L276.0,65.1 L275.2,65.3 L274.4,65.5 L273.6,65.8 L272.7,66.1 L271.7,66.4 L270.7,66.6 L269.7,66.9 L268.7,67.2 L267.8,67.4 L267.0,67.6 L266.2,67.7 L265.5,67.9 L264.8,68.2 L264.2,68.5 L263.6,68.9 L263.0,69.2 L262.4,69.6 L261.7,70.1 L260.9,70.5 L260.2,71.0 L259.4,71.6 L258.6,72.1 L257.9,72.8 L257.2,73.5 L256.6,74.3 L255.9,75.0 L255.3,75.7 L254.6,76.4 L254.0,77.1 L253.4,77.8 L252.8,78.5 L252.3,79.1 L251.8,79.6 L251.3,80.1 L250.8,80.6 L250.3,81.1 L250.0,81.6 L249.6,82.1 L249.3,82.7 L248.9,83.4 L248.5,84.1 L248.0,84.9 Z" fill="none" stroke="#000" stroke-width="0.9" stroke-linejoin="round"/>
<path d="M248.2,85.1 L248.7,85.7 L249.3,86.4 L249.9,87.0 L250.5,87.7 L251.1,88.2 L251.7,88.8 L252.2,89.3 L252.8,89.7 L253.4,90.2 L253.9,90.6 L254.5,91.1 L255.0,91.6 L255.5,92.2 L256.0,92.8 L256.5,93.5 L257.1,94.1 L257.7,94.7 L258.3,95.3 L258.9,95.8 L259.5,96.3 L260.1,96.7 L260.7,97.0 L261.3,97.3 L261.9,97.5 L262.5,97.8 L263.2,98.1 L263.9,98.5 L264.6,99.0 L265.3,99.6 L266.0,100.3 L266.8,101.0 L267.6,101.8 L268.3,102.6 L269.1,103.3 L269.9,104.0 L270.6,104.5 L271.3,105.0 L272.0,105.4 L272.7,105.8 L273.3,106.1 L273.9,106.5 L274.6,106.9 L275.2,107.3 L275.9,107.7 L276.6,108.1 L277.3,108.5 L278.1,108.9 L278.8,109.3 L279.5,109.7 L280.3,110.0 L281.1,110.2 L281.8,110.4 L282.6,110.6 L283.4,110.7 L284.2,110.6 L285.0,110.4 L285.9,110.3 L286.7,110.2 L287.5,110.2 L288.3,110.1 L289.1,110.0 L289.9,109.8 L290.6,109.7 L291.4,109.5 L292.2,109.3 L292.8,108.9 L293.5,108.3 L294.1,107.6 L294.7,106.9 L295.2,106.3 L295.8,105.6 L296.4,105.0 L297.0,104.4 L297.5,103.8 L298.1,103.3 L298.7,102.8 L299.2,102.2 L299.7,101.6 L300.3,100.9 L300.8,100.3 L301.3,99.7 L301.9,99.0 L302.4,98.3 L302.9,97.7 L303.3,97.0 L303.7,96.3 L304.0,95.6 L304.2,94.9 L304.5,94.2 L304.8,93.5 L305.1,92.8 L305.5,92.0 L305.8,91.1 L306.2,90.3 L306.6,89.4 L306.9,88.5 L307.2,87.6 L307.4,86.7 L307.7,85.9 L307.9,85.1 L308.0,84.4 L308.2,83.8 L308.3,83.0 L308.4,82.3 L308.5,81.6 L308.6,80.8 L308.6,80.0 L308.5,79.2 L308.2,78.3 L308.0,77.4 L307.8,76.4 L307.6,75.5 L307.3,74.6 L306.9,73.8 L306.6,73.1 L305.9,72.5 L305.3,72.0 L304.7,71.4 L304.1,70.9 L303.4,70.4 L302.9,69.8 L302.3,69.2 L301.7,68.7 L301.1,68.1 L300.5,67.6 L299.9,67.0 L299.3,66.4 L298.7,65.9 L298.1,65.4 L297.3,65.1 L296.5,64.8 L295.7,64.6 L294.8,64.4 L293.9,64.2 L293.0,63.9 L292.1,63.7 L291.2,63.4 L290.4,63.2 L289.6,63.1 L288.8,63.0 L288.0,63.0 L287.3,63.0 L286.6,63.0 L285.9,63.1 L285.2,63.1 L284.5,63.1 L283.8,63.1 L283.1,63.3 L282.4,63.5 L281.6,63.7 L280.9,64.0 L280.1,64.3 L279.4,64.6 L278.6,64.9 L277.9,65.3 L277.1,65.6 L276.4,65.9 L275.6,66.1 L274.9,66.4 L274.1,66.7 L273.3,66.9 L272.5,67.0 L271.6,67.2 L270.8,67.4 L270.0,67.7 L269.1,68.0 L268.3,68.3 L267.5,68.7 L266.8,69.2 L266.1,69.8 L265.4,70.4 L264.8,71.0 L264.2,71.5 L263.5,71.9 L262.9,72.3 L262.2,72.7 L261.6,73.0 L260.8,73.3 L260.1,73.7 L259.5,74.1 L258.8,74.6 L258.2,75.1 L257.5,75.7 L256.9,76.4 L256.3,77.0 L255.7,77.7 L255.2,78.3 L254.7,79.0 L254.2,79.5 L253.7,80.1 L253.1,80.6 L252.6,81.0 L252.0,81.4 L251.4,81.8 L250.8,82.3 L250.2,82.7 L249.7,83.3 L249.1,83.8 L248.6,84.4 Z" fill="none" stroke="#000" stroke-width="0.9" stroke-linejoin="round"/>
<path d="M249.4,84.7 L249.8,85.3 L250.3,85.8 L250.7,86.4 L251.2,86.9 L251.7,87.4 L252.2,87.9 L252.7,88.4 L253.2,89.0 L253.7,89.5 L254.3,90.1 L254.9,90.7 L255.4,91.4 L256.0,92.2 L256.6,92.9 L257.2,93.7 L257.9,94.3 L258.7,95.0 L259.4,95.5 L260.1,96.0 L260.8,96.4 L261.5,96.7 L262.2,97.0 L262.9,97.3 L263.5,97.6 L264.1,97.9 L264.7,98.3 L265.2,98.7 L265.7,99.2 L266.3,99.7 L266.8,100.2 L267.4,100.7 L268.1,101.2 L268.8,101.7 L269.5,102.2 L270.2,102.7 L270.9,103.2 L271.7,103.6 L272.4,104.0 L273.0,104.5 L273.7,104.9 L274.3,105.2 L274.9,105.6 L275.4,106.0 L276.1,106.2 L276.9,106.3 L277.6,106.5 L278.4,106.6 L279.2,106.8 L280.0,107.0 L280.8,107.3 L281.7,107.5 L282.5,107.7 L283.3,108.0 L284.1,108.2 L284.8,108.3 L285.6,108.1 L286.4,108.0 L287.1,107.9 L287.9,107.8 L288.6,107.6 L289.3,107.4 L290.0,107.2 L290.6,107.1 L291.3,106.9 L292.0,106.8 L292.6,106.5 L293.1,106.1 L293.6,105.7 L294.2,105.3 L294.8,104.8 L295.4,104.4 L296.0,103.9 L296.7,103.4 L297.4,102.9 L298.0,102.4 L298.6,101.8 L299.1,101.2 L299.6,100.6 L300.0,100.0 L300.4,99.5 L300.8,99.0 L301.2,98.5 L301.6,98.0 L302.0,97.5 L302.4,96.9 L302.8,96.3 L303.2,95.5 L303.5,94.7 L303.9,93.9 L304.3,93.1 L304.6,92.2 L305.0,91.3 L305.3,90.5 L305.6,89.7 L305.9,88.9 L306.1,88.2 L306.2,87.5 L306.4,86.9 L306.6,86.2 L306.7,85.4 L306.9,84.6 L307.1,83.8 L307.3,82.9 L307.4,81.9 L307.5,80.9 L307.6,80.0 L307.6,79.2 L307.3,78.4 L307.0,77.7 L306.7,77.0 L306.4,76.4 L306.1,75.8 L305.8,75.2 L305.6,74.5 L305.3,73.7 L304.8,72.9 L304.3,72.0 L303.8,71.2 L303.3,70.3 L302.7,69.5 L302.2,68.8 L301.6,68.3 L301.0,67.9 L300.3,67.7 L299.7,67.6 L299.1,67.5 L298.5,67.3 L298.0,67.1 L297.4,66.9 L296.8,66.7 L296.1,66.5 L295.3,66.2 L294.6,65.9 L293.7,65.6 L292.9,65.4 L292.1,65.2 L291.2,65.1 L290.4,65.1 L289.7,65.2 L289.0,65.2 L288.3,65.2 L287.7,65.1 L287.1,65.0 L286.5,64.8 L285.9,64.5 L285.2,64.2 L284.5,63.9 L283.7,63.9 L282.9,63.9 L282.0,64.1 L281.1,64.3 L280.1,64.6 L279.2,64.8 L278.4,65.1 L277.6,65.3 L276.8,65.5 L276.2,65.6 L275.5,65.7 L275.0,66.0 L274.4,66.2 L273.8,66.6 L273.1,67.0 L272.4,67.4 L271.6,68.0 L270.8,68.5 L270.0,69.1 L269.1,69.6 L268.3,69.9 L267.5,70.3 L266.7,70.6 L266.0,70.8 L265.4,71.0 L264.8,71.1 L264.2,71.3 L263.6,71.5 L263.0,71.8 L262.4,72.1 L261.8,72.6 L261.2,73.1 L260.6,73.7 L260.0,74.3 L259.4,75.0 L258.9,75.6 L258.3,76.2 L257.8,76.7 L257.3,77.3 L256.8,77.8 L256.3,78.3 L255.8,78.8 L255.3,79.3 L254.8,79.8 L254.3,80.2 L253.7,80.8 L253.1,81.3 L252.5,81.8 L251.9,82.4 L251.3,82.9 L250.6,83.5 L250.0,84.1 Z" fill="none" stroke="#000" stroke-width="0.9" stroke-linejoin="round"/>
<path d="M250.5,85.4 L251.0,85.8 L251.6,86.2 L252.2,86.6 L252.8,87.0 L253.3,87.5 L253.8,88.0 L254.3,88.5 L254.8,89.1 L255.2,89.6 L255.7,90.2 L256.3,90.7 L256.8,91.2 L257.4,91.7 L258.0,92.2 L258.6,92.6 L259.3,93.0 L260.0,93.3 L260.7,93.6 L261.3,94.0 L261.9,94.3 L262.5,94.7 L263.1,95.0 L263.6,95.4 L264.2,95.8 L264.7,96.3 L265.3,96.8 L265.9,97.3 L266.4,97.9 L267.0,98.5 L267.7,99.2 L268.3,99.8 L268.8,100.4 L269.4,101.0 L270.0,101.5 L270.6,101.9 L271.2,102.2 L271.8,102.5 L272.4,102.7 L273.0,102.9 L273.7,103.2 L274.3,103.5 L275.0,103.9 L275.7,104.3 L276.4,104.7 L277.2,105.0 L277.9,105.4 L278.6,105.8 L279.4,106.2 L280.1,106.5 L280.8,106.8 L281.5,107.1 L282.2,107.3 L283.0,107.5 L283.6,107.7 L284.3,107.7 L285.1,107.6 L285.8,107.6 L286.5,107.6 L287.2,107.6 L288.0,107.5 L288.7,107.3 L289.6,107.0 L290.4,106.6 L291.2,106.2 L292.0,105.7 L292.7,105.1 L293.3,104.4 L293.9,103.8 L294.5,103.2 L295.0,102.8 L295.6,102.5 L296.1,102.3 L296.7,102.1 L297.3,101.9 L298.0,101.7 L298.5,101.3 L299.0,100.7 L299.5,100.0 L300.0,99.2 L300.4,98.4 L300.8,97.6 L301.2,96.9 L301.6,96.2 L302.0,95.7 L302.5,95.2 L302.9,94.8 L303.2,94.3 L303.6,93.9 L304.0,93.3 L304.4,92.7 L304.7,92.0 L305.0,91.3 L305.1,90.4 L305.2,89.6 L305.3,88.7 L305.2,87.9 L305.1,87.2 L305.1,86.5 L305.1,85.9 L305.2,85.4 L305.4,84.9 L305.7,84.3 L306.0,83.7 L306.3,83.0 L306.5,82.2 L306.7,81.4 L306.6,80.5 L306.4,79.6 L306.0,78.7 L305.7,77.8 L305.3,76.9 L305.0,76.1 L304.7,75.3 L304.4,74.5 L304.2,73.7 L303.8,73.0 L303.4,72.3 L303.0,71.6 L302.6,70.8 L302.1,70.1 L301.6,69.4 L301.1,68.7 L300.5,68.2 L299.9,67.8 L299.3,67.5 L298.7,67.2 L298.3,66.9 L297.8,66.7 L297.3,66.4 L296.8,66.3 L296.1,66.1 L295.4,66.0 L294.7,65.7 L293.9,65.5 L293.1,65.2 L292.3,65.0 L291.5,64.7 L290.7,64.7 L290.0,64.7 L289.3,64.8 L288.6,64.9 L287.9,65.0 L287.2,65.1 L286.5,65.2 L285.7,65.2 L284.9,65.1 L284.1,65.0 L283.3,65.1 L282.5,65.1 L281.7,65.2 L281.0,65.2 L280.3,65.3 L279.7,65.5 L279.1,65.7 L278.5,65.9 L277.9,66.2 L277.2,66.5 L276.5,66.8 L275.7,67.2 L274.9,67.6 L274.0,67.9 L273.2,68.2 L272.3,68.4 L271.5,68.6 L270.8,68.7 L270.1,68.8 L269.4,68.9 L268.8,69.0 L268.2,69.2 L267.6,69.5 L267.1,69.8 L266.4,70.2 L265.8,70.6 L265.1,71.1 L264.4,71.7 L263.7,72.2 L263.0,72.8 L262.4,73.4 L261.7,74.0 L261.1,74.5 L260.5,75.0 L259.9,75.5 L259.3,75.9 L258.7,76.3 L258.1,76.6 L257.5,77.0 L257.0,77.4 L256.4,77.8 L255.9,78.4 L255.4,79.0 L254.9,79.6 L254.4,80.3 L253.9,81.1 L253.4,81.8 L252.9,82.6 L252.4,83.2 L251.9,83.9 L251.4,84.4 L250.9,84.9 Z" fill="none" stroke="#000" stroke-width="0.9" stroke-linejoin="round"/>
<path d="M250.9,85.1 L251.3,85.6 L251.8,86.1 L252.2,86.5 L252.7,87.0 L253.3,87.4 L253.9,87.9 L254.5,88.5 L255.2,89.0 L255.9,89.5 L256.7,90.1 L257.4,90.6 L258.0,91.0 L258.6,91.4 L259.1,91.8 L259.5,92.2 L260.0,92.6 L260.4,92.9 L260.9,93.4 L261.4,93.8 L261.9,94.3 L262.5,94.8 L263.1,95.3 L263.8,95.7 L264.5,96.1 L265.2,96.4 L265.9,96.7 L266.6,97.0 L267.3,97.4 L267.9,97.8 L268.5,98.3 L269.1,98.8 L269.6,99.4 L270.2,100.1 L270.8,100.7 L271.3,101.2 L271.9,101.6 L272.4,101.9 L273.0,102.2 L273.5,102.4 L274.0,102.5 L274.5,102.7 L275.1,103.0 L275.6,103.4 L276.3,103.8 L277.0,104.2 L277.7,104.8 L278.5,105.3 L279.4,105.8 L280.2,106.3 L281.1,106.6 L281.9,106.8 L282.8,106.8 L283.6,106.8 L284.4,106.7 L285.2,106.5 L285.9,106.2 L286.6,106.0 L287.3,105.8 L288.0,105.8 L288.7,105.8 L289.4,105.8 L290.0,105.8 L290.6,105.7 L291.2,105.6 L291.8,105.3 L292.3,104.9 L292.7,104.4 L293.2,103.8 L293.7,103.3 L294.2,102.9 L294.8,102.5 L295.5,102.2 L296.1,101.9 L296.9,101.6 L297.6,101.2 L298.2,100.8 L298.7,100.2 L299.2,99.6 L299.7,99.0 L300.1,98.4 L300.5,97.9 L300.8,97.4 L301.2,96.9 L301.5,96.4 L301.9,95.9 L302.2,95.3 L302.4,94.6 L302.6,93.7 L302.9,92.8 L303.2,91.9 L303.5,90.9 L303.8,89.9 L304.1,89.0 L304.4,88.2 L304.7,87.5 L304.8,86.8 L304.9,86.3 L304.9,85.7 L304.9,85.2 L305.0,84.7 L305.0,84.1 L305.0,83.4 L305.0,82.6 L305.1,81.8 L305.2,81.0 L305.3,80.2 L305.3,79.5 L305.2,78.7 L305.2,78.1 L305.2,77.5 L305.2,76.9 L305.2,76.3 L305.2,75.8 L305.1,75.2 L304.9,74.5 L304.5,74.0 L304.0,73.4 L303.5,72.8 L302.9,72.1 L302.4,71.5 L301.8,70.9 L301.3,70.3 L300.6,69.7 L300.0,69.2 L299.4,68.7 L298.9,68.1 L298.4,67.4 L297.9,66.8 L297.3,66.1 L296.7,65.8 L295.9,65.5 L295.2,65.3 L294.4,65.1 L293.6,65.0 L292.9,64.9 L292.1,64.9 L291.4,64.9 L290.7,64.9 L290.1,65.0 L289.4,65.1 L288.8,65.2 L288.1,65.2 L287.4,65.2 L286.7,65.2 L285.9,65.3 L285.0,65.3 L284.1,65.4 L283.3,65.6 L282.4,65.8 L281.6,65.9 L280.8,66.1 L280.1,66.2 L279.5,66.3 L278.9,66.4 L278.3,66.5 L277.7,66.7 L277.1,66.9 L276.5,67.1 L275.8,67.4 L275.1,67.7 L274.4,68.1 L273.6,68.3 L272.8,68.6 L272.0,68.7 L271.3,68.9 L270.6,69.0 L269.9,69.1 L269.2,69.2 L268.6,69.4 L268.0,69.7 L267.3,70.0 L266.6,70.4 L265.9,70.9 L265.2,71.4 L264.4,72.0 L263.7,72.6 L263.0,73.2 L262.4,73.8 L261.8,74.4 L261.3,75.1 L260.8,75.6 L260.3,76.1 L259.9,76.6 L259.4,76.9 L258.8,77.1 L258.3,77.3 L257.7,77.5 L257.1,77.6 L256.5,77.8 L255.9,78.1 L255.4,78.4 L254.8,79.0 L254.4,79.6 L253.9,80.4 L253.5,81.2 L253.0,82.1 L252.5,82.9 L252.0,83.7 L251.5,84.4 Z" fill="none" stroke="#000" stroke-width="0.9" stroke-linejoin="round"/>
<path d="M251.0,84.9 L251.6,85.4 L252.1,86.0 L252.7,86.5 L253.2,87.0 L253.8,87.4 L254.3,87.8 L254.9,88.2 L255.5,88.6 L256.1,89.0 L256.6,89.3 L257.2,89.7 L257.8,90.0 L258.3,90.4 L258.9,90.8 L259.5,91.2 L260.0,91.6 L260.6,92.0 L261.3,92.4 L261.9,92.9 L262.5,93.4 L263.1,93.9 L263.8,94.4 L264.4,95.0 L265.0,95.5 L265.6,96.0 L266.2,96.4 L266.8,96.9 L267.4,97.3 L268.0,97.7 L268.6,98.0 L269.1,98.4 L269.7,98.7 L270.2,99.1 L270.8,99.5 L271.3,99.9 L271.9,100.4 L272.4,100.9 L273.0,101.4 L273.6,101.9 L274.2,102.5 L274.8,103.0 L275.4,103.5 L276.0,104.0 L276.7,104.3 L277.4,104.5 L278.1,104.7 L278.8,104.9 L279.5,105.1 L280.2,105.3 L280.8,105.5 L281.5,105.7 L282.2,105.9 L282.9,106.2 L283.6,106.4 L284.3,106.5 L285.0,106.4 L285.8,106.3 L286.5,106.2 L287.2,106.2 L287.9,106.1 L288.6,106.0 L289.3,105.8 L290.0,105.7 L290.8,105.5 L291.5,105.3 L292.1,104.9 L292.8,104.4 L293.4,103.9 L294.0,103.4 L294.6,102.9 L295.2,102.5 L295.8,102.1 L296.4,101.7 L297.0,101.4 L297.6,101.1 L298.1,100.6 L298.5,100.1 L299.0,99.6 L299.5,99.0 L299.9,98.5 L300.4,97.9 L300.8,97.2 L301.3,96.6 L301.8,95.9 L302.2,95.3 L302.6,94.6 L302.9,93.9 L303.2,93.2 L303.5,92.5 L303.8,91.8 L304.1,91.2 L304.3,90.5 L304.6,89.8 L304.8,89.2 L305.0,88.5 L305.1,87.9 L305.1,87.2 L305.1,86.5 L305.1,85.8 L305.1,85.1 L305.1,84.4 L305.1,83.6 L305.2,82.9 L305.3,82.1 L305.3,81.3 L305.4,80.6 L305.4,79.8 L305.2,79.1 L305.0,78.3 L304.8,77.6 L304.6,76.9 L304.4,76.1 L304.3,75.4 L304.1,74.7 L303.9,73.9 L303.6,73.3 L303.2,72.7 L302.9,72.0 L302.5,71.4 L302.1,70.8 L301.7,70.2 L301.3,69.6 L300.7,69.1 L300.1,68.7 L299.4,68.3 L298.8,67.8 L298.2,67.4 L297.6,67.0 L297.0,66.5 L296.3,66.3 L295.6,66.1 L294.9,66.0 L294.2,65.8 L293.5,65.6 L292.9,65.5 L292.2,65.3 L291.5,65.1 L290.8,65.0 L290.1,65.0 L289.4,64.9 L288.6,64.9 L287.9,64.9 L287.1,64.9 L286.4,64.8 L285.6,64.8 L284.8,64.8 L284.0,64.8 L283.3,65.0 L282.5,65.1 L281.8,65.3 L281.1,65.4 L280.4,65.5 L279.7,65.7 L279.0,65.8 L278.3,65.9 L277.6,66.1 L276.9,66.3 L276.2,66.5 L275.5,66.9 L274.8,67.3 L274.1,67.6 L273.4,68.0 L272.7,68.4 L272.0,68.7 L271.4,69.0 L270.7,69.3 L270.0,69.6 L269.4,69.8 L268.7,70.2 L268.1,70.6 L267.5,71.1 L266.9,71.5 L266.2,72.0 L265.6,72.5 L264.9,73.0 L264.3,73.5 L263.7,73.9 L263.0,74.3 L262.5,74.7 L261.9,75.0 L261.3,75.4 L260.8,75.8 L260.2,76.2 L259.6,76.7 L259.0,77.2 L258.4,77.6 L257.8,78.2 L257.2,78.7 L256.7,79.2 L256.1,79.8 L255.6,80.3 L255.1,80.8 L254.6,81.3 L254.1,81.8 L253.6,82.3 L253.1,82.8 L252.6,83.3 L252.1,83.8 L251.6,84.4 Z" fill="#161616" stroke="#000" stroke-width="0.9" stroke-linejoin="round"/>
<path d="M263.0,85.8 L263.3,86.3 L263.6,86.6 L263.9,86.9 L264.2,86.9 L264.6,86.9 L264.9,86.9 L265.2,86.9 L265.5,86.9 L265.9,87.1 L266.2,87.3 L266.6,87.7 L267.1,88.0 L267.5,88.4 L268.0,88.7 L268.5,88.9 L268.9,89.1 L269.4,89.2 L269.7,89.4 L270.0,89.6 L270.2,89.8 L270.3,90.2 L270.4,90.6 L270.5,91.1 L270.7,91.6 L271.0,92.0 L271.4,92.3 L271.9,92.4 L272.5,92.5 L273.2,92.4 L273.9,92.3 L274.6,92.2 L275.3,92.1 L276.0,92.2 L276.5,92.4 L277.0,92.8 L277.4,93.2 L277.7,93.6 L278.0,94.1 L278.3,94.5 L278.5,94.8 L278.7,95.1 L278.9,95.4 L279.2,95.7 L279.5,95.9 L279.8,96.2 L280.2,96.6 L280.7,97.0 L281.2,97.5 L281.7,98.0 L282.3,98.4 L283.0,98.7 L283.7,98.9 L284.3,98.9 L284.9,98.8 L285.4,98.6 L285.8,98.2 L286.2,97.9 L286.4,97.8 L286.6,97.7 L286.7,97.8 L286.8,97.9 L287.0,98.1 L287.3,98.2 L287.7,98.2 L288.2,98.1 L288.8,97.8 L289.4,97.3 L290.0,96.7 L290.6,96.1 L291.2,95.7 L291.7,95.4 L292.1,95.3 L292.5,95.3 L292.8,95.4 L293.1,95.6 L293.3,95.6 L293.5,95.4 L293.8,95.1 L294.1,94.7 L294.4,94.1 L294.7,93.3 L295.1,92.6 L295.4,91.9 L295.7,91.3 L296.0,90.8 L296.2,90.4 L296.2,90.1 L296.2,89.9 L296.2,89.8 L296.2,89.5 L296.2,89.3 L296.2,88.9 L296.3,88.5 L296.5,88.0 L296.7,87.5 L296.9,86.9 L297.1,86.4 L297.4,86.0 L297.6,85.5 L297.9,85.2 L298.1,84.8 L298.2,84.4 L298.3,83.9 L298.3,83.4 L298.3,82.8 L298.3,82.1 L298.2,81.5 L298.0,80.8 L297.9,80.1 L297.8,79.6 L297.8,79.0 L297.8,78.6 L297.9,78.2 L298.0,77.8 L298.1,77.5 L298.1,77.2 L298.0,77.0 L297.8,76.7 L297.6,76.3 L297.3,76.0 L296.9,75.5 L296.6,75.1 L296.1,74.7 L295.6,74.3 L295.1,73.8 L294.6,73.4 L294.1,72.9 L293.6,72.5 L293.1,72.1 L292.5,71.9 L291.9,71.7 L291.3,71.6 L290.8,71.5 L290.3,71.3 L289.8,71.2 L289.4,71.0 L289.1,70.8 L288.8,70.5 L288.5,70.3 L288.2,70.1 L287.8,70.0 L287.3,70.0 L286.8,70.1 L286.2,70.3 L285.5,70.7 L284.8,71.2 L284.1,71.6 L283.4,72.2 L282.8,72.6 L282.3,73.0 L281.8,73.1 L281.4,73.1 L280.9,72.9 L280.4,72.7 L279.9,72.5 L279.4,72.3 L278.7,72.3 L278.1,72.3 L277.4,72.5 L276.9,72.8 L276.3,73.1 L275.9,73.4 L275.6,73.6 L275.4,73.7 L275.2,73.8 L275.0,73.8 L274.8,73.9 L274.6,74.1 L274.2,74.3 L273.8,74.7 L273.3,75.3 L272.8,75.8 L272.2,76.4 L271.8,77.0 L271.3,77.4 L271.0,77.7 L270.8,77.8 L270.6,77.9 L270.4,77.9 L270.2,77.9 L270.0,78.0 L269.7,78.2 L269.3,78.6 L268.8,79.1 L268.3,79.8 L267.7,80.4 L267.2,81.1 L266.7,81.7 L266.3,82.1 L266.0,82.4 L265.7,82.5 L265.5,82.6 L265.3,82.6 L265.1,82.8 L264.9,83.0 L264.6,83.4 L264.2,83.9 L263.9,84.5 L263.5,85.1 Z" fill="none" stroke="#bdbdbd" stroke-width="0.7" stroke-linejoin="round"/>
<path d="M266.6,85.7 L266.9,85.9 L267.2,86.0 L267.5,86.0 L267.8,86.0 L268.0,86.1 L268.2,86.1 L268.4,86.3 L268.5,86.4 L268.7,86.7 L268.8,87.0 L269.0,87.3 L269.3,87.7 L269.6,88.0 L270.0,88.4 L270.4,88.7 L270.8,89.0 L271.2,89.3 L271.6,89.5 L272.0,89.8 L272.3,90.0 L272.6,90.2 L272.9,90.4 L273.3,90.7 L273.6,91.0 L274.0,91.2 L274.4,91.5 L274.9,91.8 L275.3,92.1 L275.8,92.3 L276.3,92.5 L276.7,92.7 L277.1,92.7 L277.4,92.7 L277.7,92.7 L278.0,92.6 L278.2,92.5 L278.4,92.4 L278.6,92.5 L278.8,92.7 L279.1,93.0 L279.4,93.5 L279.8,94.0 L280.2,94.6 L280.7,95.1 L281.1,95.5 L281.6,95.9 L282.0,96.1 L282.4,96.1 L282.8,96.1 L283.0,95.9 L283.3,95.6 L283.5,95.4 L283.8,95.2 L284.1,95.1 L284.4,95.0 L284.7,94.9 L285.1,94.8 L285.5,94.8 L286.0,94.8 L286.4,94.7 L286.7,94.7 L287.1,94.5 L287.4,94.4 L287.6,94.2 L287.9,94.1 L288.1,93.9 L288.4,93.8 L288.7,93.7 L289.0,93.6 L289.4,93.6 L289.9,93.5 L290.3,93.5 L290.8,93.4 L291.3,93.2 L291.7,93.0 L292.0,92.6 L292.3,92.3 L292.5,91.9 L292.7,91.6 L293.0,91.3 L293.2,91.0 L293.6,90.7 L293.9,90.4 L294.3,90.1 L294.7,89.7 L294.9,89.3 L295.1,88.8 L295.2,88.2 L295.2,87.8 L295.1,87.4 L295.0,87.1 L294.9,86.9 L294.8,86.8 L294.8,86.7 L294.9,86.7 L295.1,86.6 L295.2,86.4 L295.5,86.0 L295.7,85.4 L296.0,84.7 L296.0,84.0 L296.1,83.2 L296.0,82.4 L295.9,81.8 L295.7,81.4 L295.5,81.2 L295.3,81.1 L295.2,81.2 L295.1,81.4 L295.1,81.6 L295.1,81.7 L295.2,81.7 L295.4,81.5 L295.6,81.2 L295.7,80.8 L295.7,80.3 L295.6,79.8 L295.4,79.3 L295.2,78.8 L295.0,78.3 L294.6,77.8 L294.3,77.3 L293.8,76.8 L293.3,76.3 L292.8,75.7 L292.3,75.1 L291.9,74.5 L291.5,73.9 L291.2,73.4 L290.9,73.1 L290.7,73.1 L290.6,73.1 L290.5,73.3 L290.3,73.6 L290.2,74.0 L289.9,74.4 L289.5,74.7 L289.0,75.0 L288.4,75.2 L287.6,75.2 L286.9,75.1 L286.1,75.0 L285.5,74.8 L284.9,74.6 L284.4,74.5 L284.0,74.3 L283.8,74.1 L283.5,74.1 L283.3,73.9 L283.0,73.8 L282.7,73.6 L282.2,73.4 L281.7,73.1 L281.1,72.9 L280.5,72.8 L279.9,72.8 L279.4,72.9 L279.0,73.1 L278.7,73.5 L278.5,73.9 L278.4,74.3 L278.2,74.6 L278.1,74.9 L277.8,75.2 L277.4,75.3 L277.0,75.4 L276.4,75.5 L275.9,75.6 L275.3,75.8 L274.9,76.1 L274.5,76.4 L274.3,76.8 L274.2,77.2 L274.1,77.6 L274.0,78.0 L274.0,78.4 L273.8,78.7 L273.5,78.9 L273.1,79.0 L272.6,79.0 L272.0,79.0 L271.4,78.9 L270.9,78.9 L270.4,78.8 L270.0,78.9 L269.8,79.0 L269.6,79.1 L269.6,79.4 L269.6,79.8 L269.6,80.3 L269.5,80.8 L269.4,81.5 L269.1,82.1 L268.8,82.8 L268.5,83.5 L268.1,84.1 L267.7,84.7 L267.3,85.1 L266.9,85.5 Z" fill="none" stroke="#bdbdbd" stroke-width="0.7" stroke-linejoin="round"/>
<path d="M269.5,84.3 L269.9,84.5 L270.4,84.8 L270.8,85.1 L271.2,85.5 L271.6,85.8 L272.0,86.0 L272.3,86.2 L272.6,86.3 L272.8,86.4 L273.0,86.4 L273.1,86.5 L273.3,86.6 L273.4,86.8 L273.6,87.0 L273.8,87.4 L274.0,87.7 L274.3,88.1 L274.6,88.5 L274.9,88.8 L275.2,89.1 L275.5,89.4 L275.8,89.6 L276.1,89.8 L276.3,90.0 L276.6,90.2 L276.8,90.3 L277.0,90.4 L277.3,90.4 L277.5,90.3 L277.7,90.2 L278.0,90.1 L278.2,89.9 L278.4,89.8 L278.6,89.7 L278.8,89.7 L279.0,89.8 L279.2,90.0 L279.4,90.3 L279.6,90.6 L279.8,91.0 L280.0,91.3 L280.3,91.7 L280.5,91.9 L280.8,92.1 L281.1,92.2 L281.4,92.3 L281.7,92.5 L282.0,92.7 L282.2,93.0 L282.4,93.4 L282.7,93.8 L282.9,94.2 L283.2,94.5 L283.4,94.8 L283.8,94.9 L284.2,94.8 L284.6,94.6 L285.0,94.3 L285.5,93.9 L285.9,93.6 L286.3,93.2 L286.7,92.9 L287.1,92.6 L287.4,92.3 L287.8,92.1 L288.0,91.9 L288.3,91.6 L288.5,91.2 L288.8,90.9 L289.1,90.6 L289.4,90.3 L289.7,90.1 L290.0,90.0 L290.4,90.0 L290.7,90.0 L290.9,90.1 L291.1,90.2 L291.2,90.2 L291.4,90.1 L291.5,90.0 L291.7,89.8 L291.9,89.5 L292.1,89.2 L292.3,88.9 L292.6,88.7 L292.8,88.5 L293.1,88.4 L293.3,88.3 L293.5,88.3 L293.7,88.2 L293.8,88.0 L294.0,87.8 L294.1,87.3 L294.2,86.8 L294.3,86.2 L294.4,85.5 L294.5,84.9 L294.6,84.3 L294.7,83.9 L294.7,83.6 L294.6,83.4 L294.5,83.3 L294.3,83.2 L294.1,83.2 L293.8,83.1 L293.4,82.9 L293.0,82.7 L292.7,82.4 L292.4,82.1 L292.2,81.8 L292.1,81.5 L292.1,81.2 L292.2,80.9 L292.4,80.7 L292.6,80.4 L292.7,80.1 L292.7,79.8 L292.7,79.4 L292.5,78.9 L292.2,78.5 L291.9,78.0 L291.5,77.6 L291.0,77.3 L290.6,77.1 L290.2,77.0 L289.9,76.9 L289.7,76.9 L289.5,76.8 L289.4,76.6 L289.3,76.5 L289.2,76.3 L289.0,76.0 L288.7,75.8 L288.4,75.6 L288.0,75.5 L287.6,75.5 L287.2,75.6 L286.8,75.8 L286.4,76.1 L286.1,76.4 L285.8,76.7 L285.6,76.8 L285.4,76.8 L285.3,76.8 L285.1,76.7 L284.9,76.5 L284.7,76.3 L284.5,76.2 L284.2,76.2 L284.0,76.1 L283.7,76.1 L283.4,76.1 L283.1,76.0 L282.8,75.8 L282.5,75.6 L282.2,75.4 L281.8,75.1 L281.5,75.0 L281.1,74.9 L280.7,75.0 L280.3,75.3 L279.9,75.7 L279.5,76.3 L279.1,76.8 L278.8,77.3 L278.5,77.6 L278.2,77.8 L277.9,77.9 L277.6,77.8 L277.3,77.7 L277.0,77.6 L276.7,77.6 L276.3,77.8 L276.0,78.2 L275.6,78.8 L275.2,79.5 L274.9,80.3 L274.7,81.1 L274.5,81.7 L274.3,82.0 L274.2,82.2 L274.1,82.0 L274.0,81.6 L273.9,81.1 L273.7,80.6 L273.5,80.2 L273.2,79.9 L272.9,79.9 L272.6,80.1 L272.2,80.5 L271.8,81.1 L271.4,81.8 L271.0,82.4 L270.7,82.9 L270.4,83.3 L270.1,83.6 L269.9,83.9 L269.7,84.0 L269.6,84.2 Z" fill="none" stroke="#bdbdbd" stroke-width="0.7" stroke-linejoin="round"/>
<path d="M273.1,84.1 L273.4,84.4 L273.7,84.7 L274.0,84.9 L274.3,85.1 L274.6,85.2 L274.8,85.2 L274.9,85.2 L275.0,85.1 L275.0,84.9 L275.0,84.9 L275.1,84.8 L275.2,84.9 L275.5,85.1 L275.8,85.4 L276.2,85.9 L276.6,86.4 L277.0,87.1 L277.3,87.7 L277.6,88.3 L277.7,88.8 L277.8,89.2 L277.7,89.4 L277.7,89.6 L277.6,89.6 L277.5,89.5 L277.6,89.3 L277.8,89.1 L278.0,88.9 L278.3,88.7 L278.7,88.6 L279.0,88.6 L279.4,88.8 L279.6,89.0 L279.8,89.3 L280.0,89.7 L280.2,90.0 L280.4,90.4 L280.6,90.8 L280.9,91.1 L281.2,91.3 L281.5,91.5 L281.9,91.7 L282.2,91.8 L282.5,91.8 L282.7,91.7 L282.9,91.6 L283.0,91.4 L283.1,91.1 L283.2,90.8 L283.3,90.5 L283.4,90.2 L283.6,89.9 L283.9,89.7 L284.2,89.6 L284.5,89.6 L284.7,89.7 L284.9,89.9 L285.0,90.3 L285.1,90.7 L285.1,91.2 L285.1,91.6 L285.1,91.9 L285.2,92.0 L285.4,92.0 L285.7,91.8 L286.1,91.4 L286.6,90.8 L287.1,90.2 L287.6,89.7 L288.2,89.2 L288.6,88.8 L289.0,88.5 L289.3,88.4 L289.6,88.3 L289.7,88.3 L289.8,88.2 L289.9,88.2 L290.0,88.0 L290.1,87.8 L290.2,87.5 L290.4,87.2 L290.5,86.8 L290.7,86.5 L290.9,86.2 L291.1,86.0 L291.2,85.9 L291.4,85.8 L291.5,85.7 L291.6,85.7 L291.6,85.6 L291.7,85.6 L291.6,85.6 L291.6,85.5 L291.5,85.5 L291.4,85.4 L291.3,85.3 L291.2,85.2 L291.2,85.1 L291.3,84.8 L291.4,84.6 L291.5,84.3 L291.7,83.9 L291.9,83.6 L292.2,83.2 L292.4,82.8 L292.5,82.5 L292.5,82.3 L292.5,82.1 L292.3,82.0 L292.1,81.9 L291.8,81.9 L291.5,81.9 L291.3,81.9 L291.1,81.8 L290.9,81.8 L290.8,81.7 L290.7,81.6 L290.7,81.5 L290.7,81.3 L290.6,81.1 L290.6,80.9 L290.5,80.6 L290.3,80.3 L290.1,80.0 L289.9,79.6 L289.6,79.1 L289.3,78.6 L289.0,78.2 L288.7,77.8 L288.3,77.6 L287.9,77.5 L287.6,77.5 L287.2,77.7 L286.9,78.0 L286.6,78.3 L286.4,78.7 L286.1,78.9 L285.9,79.0 L285.8,78.9 L285.6,78.7 L285.3,78.4 L285.0,77.9 L284.7,77.5 L284.4,77.1 L284.0,76.8 L283.6,76.7 L283.3,76.8 L283.0,77.0 L282.8,77.4 L282.7,77.7 L282.7,78.1 L282.7,78.4 L282.7,78.5 L282.6,78.6 L282.5,78.6 L282.3,78.6 L282.1,78.5 L281.8,78.5 L281.5,78.6 L281.2,78.7 L280.9,78.9 L280.7,79.1 L280.6,79.2 L280.6,79.3 L280.6,79.3 L280.6,79.2 L280.5,79.1 L280.4,79.0 L280.1,79.0 L279.8,78.9 L279.4,79.0 L278.9,79.2 L278.5,79.4 L278.1,79.7 L277.7,79.9 L277.5,80.2 L277.4,80.3 L277.3,80.3 L277.3,80.2 L277.3,80.1 L277.2,79.8 L277.1,79.6 L276.9,79.5 L276.6,79.5 L276.3,79.6 L276.0,79.9 L275.7,80.3 L275.4,80.9 L275.2,81.5 L275.1,82.0 L274.9,82.5 L274.8,82.9 L274.6,83.2 L274.5,83.4 L274.2,83.5 L274.0,83.5 L273.7,83.6 L273.5,83.7 L273.3,83.9 Z" fill="none" stroke="#bdbdbd" stroke-width="0.7" stroke-linejoin="round"/>
<path d="M276.5,83.8 L276.7,84.0 L276.9,84.2 L277.1,84.3 L277.2,84.3 L277.3,84.3 L277.4,84.1 L277.5,84.0 L277.7,83.9 L277.8,83.8 L278.0,83.9 L278.2,84.0 L278.4,84.2 L278.6,84.5 L278.7,84.7 L278.8,84.9 L278.8,84.9 L278.7,84.9 L278.7,84.8 L278.6,84.6 L278.6,84.4 L278.6,84.4 L278.7,84.4 L279.0,84.5 L279.3,84.8 L279.6,85.3 L280.0,85.8 L280.4,86.4 L280.7,86.9 L281.0,87.3 L281.1,87.6 L281.1,87.8 L281.0,88.0 L280.8,88.1 L280.7,88.3 L280.5,88.5 L280.4,88.8 L280.4,89.2 L280.5,89.7 L280.6,90.2 L280.8,90.6 L281.0,90.8 L281.3,90.9 L281.6,90.8 L282.0,90.5 L282.3,90.0 L282.6,89.4 L282.8,88.9 L283.1,88.3 L283.3,88.0 L283.6,87.7 L283.8,87.7 L284.0,87.8 L284.2,87.9 L284.4,88.2 L284.6,88.4 L284.8,88.6 L285.0,88.7 L285.2,88.9 L285.3,88.9 L285.5,89.0 L285.7,89.2 L285.9,89.3 L286.0,89.5 L286.2,89.7 L286.3,89.9 L286.4,90.1 L286.5,90.1 L286.6,90.1 L286.7,90.0 L286.8,89.9 L286.9,89.8 L287.1,89.7 L287.2,89.6 L287.4,89.5 L287.5,89.4 L287.6,89.4 L287.7,89.2 L287.9,89.0 L288.0,88.7 L288.2,88.2 L288.4,87.7 L288.6,87.0 L288.9,86.4 L289.1,85.8 L289.3,85.2 L289.5,84.8 L289.6,84.6 L289.6,84.5 L289.6,84.5 L289.6,84.6 L289.5,84.7 L289.5,84.8 L289.5,84.8 L289.6,84.7 L289.8,84.5 L290.1,84.3 L290.4,84.0 L290.8,83.8 L291.2,83.6 L291.6,83.4 L291.7,83.3 L291.8,83.3 L291.7,83.3 L291.6,83.4 L291.4,83.3 L291.1,83.3 L290.8,83.2 L290.5,83.0 L290.2,82.8 L290.0,82.5 L289.8,82.2 L289.7,81.9 L289.7,81.6 L289.7,81.3 L289.7,81.0 L289.7,80.8 L289.6,80.6 L289.6,80.4 L289.5,80.2 L289.3,80.1 L289.1,80.1 L288.9,80.2 L288.6,80.3 L288.3,80.5 L288.1,80.7 L287.8,80.9 L287.5,81.0 L287.3,81.0 L287.2,80.8 L287.1,80.6 L287.0,80.2 L287.1,79.8 L287.1,79.3 L287.2,78.9 L287.2,78.7 L287.1,78.5 L287.0,78.5 L286.8,78.7 L286.6,78.9 L286.2,79.1 L285.8,79.3 L285.3,79.4 L284.9,79.3 L284.5,79.2 L284.1,78.9 L283.8,78.6 L283.6,78.3 L283.4,78.0 L283.2,77.9 L283.0,77.9 L282.7,78.1 L282.5,78.4 L282.2,78.9 L281.8,79.3 L281.5,79.8 L281.3,80.2 L281.1,80.5 L280.9,80.6 L280.9,80.7 L280.9,80.6 L280.9,80.5 L281.0,80.4 L281.0,80.2 L281.0,80.1 L280.8,80.0 L280.7,80.0 L280.5,80.1 L280.2,80.4 L280.0,80.7 L279.8,81.1 L279.6,81.5 L279.5,81.9 L279.4,82.3 L279.4,82.6 L279.4,82.8 L279.3,83.0 L279.3,83.0 L279.2,82.9 L279.1,82.7 L279.0,82.6 L278.9,82.4 L278.7,82.3 L278.7,82.2 L278.6,82.3 L278.7,82.5 L278.7,82.8 L278.8,83.1 L278.8,83.4 L278.8,83.7 L278.7,83.9 L278.5,84.0 L278.3,83.9 L278.0,83.8 L277.7,83.7 L277.4,83.5 L277.1,83.4 L276.9,83.4 L276.7,83.4 L276.6,83.6 Z" fill="none" stroke="#bdbdbd" stroke-width="0.7" stroke-linejoin="round"/>
<path d="M241,84.5 C250,82 268,81 286,81 L286,88 C268,88 250,87 241,84.5 Z" fill="#fff" stroke="none" opacity="0.75"/>
<path d="M242.0,84.5 C245.0,81.3 252.0,80.9 266.0,80.9 S290.0,81.6 290.0,84.5 S272.0,88.6 266.0,88.5 S245.0,87.7 242.0,84.5 Z" fill="none" stroke="#000" stroke-width="0.7"/>
<path d="M247.2,84.6 C250.2,81.6 257.2,81.3 268.0,81.3 S288.8,82.0 288.8,84.6 S274.0,88.4 268.0,88.2 S250.2,87.6 247.2,84.6 Z" fill="none" stroke="#000" stroke-width="0.7"/>
<path d="M252.4,84.7 C255.4,82.0 262.4,81.7 270.0,81.7 S287.6,82.3 287.6,84.7 S276.0,88.2 270.0,88.0 S255.4,87.4 252.4,84.7 Z" fill="none" stroke="#000" stroke-width="0.7"/>
<path d="M257.6,84.8 C260.6,82.4 267.6,82.1 272.0,82.1 S286.4,82.6 286.4,84.8 S278.0,87.9 272.0,87.8 S260.6,87.2 257.6,84.8 Z" fill="none" stroke="#000" stroke-width="0.7"/>
<path d="M262.8,84.9 C265.8,82.7 272.8,82.5 274.0,82.5 S285.2,83.0 285.2,84.9 S280.0,87.7 274.0,87.5 S265.8,87.1 262.8,84.9 Z" fill="none" stroke="#000" stroke-width="0.7"/>
<path d="M268.0,85.0 C271.0,83.1 278.0,82.9 276.0,82.9 S284.0,83.3 284.0,85.0 S282.0,87.4 276.0,87.3 S271.0,86.9 268.0,85.0 Z" fill="none" stroke="#000" stroke-width="0.7"/>
<path d="M273.2,85.1 C276.2,83.5 283.2,83.3 278.0,83.3 S282.8,83.7 282.8,85.1 S284.0,87.2 278.0,87.1 S276.2,86.7 273.2,85.1 Z" fill="none" stroke="#000" stroke-width="0.7"/>
<path d="M278.4,85.2 C281.4,83.9 288.4,83.7 280.0,83.7 S281.6,84.0 281.6,85.2 S286.0,86.9 280.0,86.9 S281.4,86.5 278.4,85.2 Z" fill="none" stroke="#000" stroke-width="0.7"/>
<path d="M270,96 Q284,99 300,92 L299,99 Q290,106 279,104 Z" fill="#222"/>
<ellipse cx="283.6" cy="83.6" rx="3.3" ry="3" fill="#fff" stroke="#000" stroke-width="0.6"/>
<path d="M380.5,80.1 L380.6,81.6 L380.6,83.1 L380.7,84.5 L380.7,85.9 L380.7,87.3 L380.7,88.6 L380.7,89.9 L380.7,91.3 L380.7,92.6 L380.6,93.9 L380.6,95.2 L380.6,96.6 L380.7,98.0 L380.9,99.3 L381.0,100.7 L381.1,102.0 L381.2,103.3 L381.3,104.6 L381.4,105.9 L381.6,107.2 L381.7,108.4 L381.8,109.7 L382.2,110.9 L382.7,112.2 L383.2,113.5 L383.6,114.8 L384.1,116.1 L384.6,117.4 L385.0,118.7 L385.4,119.9 L385.8,121.1 L386.5,122.1 L387.4,122.8 L388.4,123.6 L389.4,124.4 L390.3,125.2 L391.3,126.0 L392.4,127.0 L393.5,127.7 L394.9,128.0 L396.3,128.4 L397.6,128.8 L399.0,129.2 L400.3,129.5 L401.6,129.8 L402.8,130.1 L404.1,130.4 L405.4,130.4 L406.7,130.3 L408.1,130.2 L409.4,130.2 L410.8,130.1 L412.1,130.1 L413.5,130.2 L414.8,130.2 L416.2,130.3 L417.5,130.4 L418.8,130.4 L420.1,130.3 L421.4,129.8 L422.7,129.4 L423.9,128.9 L425.2,128.4 L426.5,127.9 L427.8,127.4 L429.1,126.9 L430.2,126.2 L431.0,125.2 L431.8,124.2 L432.6,123.1 L433.4,122.0 L434.2,120.9 L435.1,119.8 L436.0,118.7 L436.9,117.5 L437.5,116.1 L438.0,114.8 L438.5,113.4 L439.1,112.0 L439.6,110.7 L440.0,109.3 L440.4,108.1 L440.8,106.8 L441.1,105.6 L441.3,104.3 L441.5,103.1 L441.7,101.8 L441.9,100.5 L442.1,99.2 L442.3,97.9 L442.6,96.6 L442.9,95.3 L443.2,93.9 L443.4,92.5 L443.7,91.1 L443.9,89.7 L444.0,88.2 L444.1,86.8 L444.1,85.3 L444.2,83.9 L444.3,82.4 L444.4,81.0 L444.5,79.6 L444.5,78.2 L444.6,76.9 L444.6,75.6 L444.7,74.3 L444.7,73.1 L444.7,71.9 L444.7,70.6 L444.7,69.4 L444.7,68.0 L444.8,66.7 L444.9,65.3 L445.0,63.8 L445.1,62.3 L445.1,60.8 L445.1,59.2 L445.1,57.7 L444.9,56.3 L444.8,54.9 L444.6,53.5 L444.5,52.2 L444.4,51.0 L444.3,49.8 L444.2,48.6 L444.2,47.3 L444.2,46.1 L444.2,44.8 L444.2,43.5 L444.2,42.1 L443.3,41.1 L442.4,40.1 L441.4,39.1 L440.4,38.2 L439.0,38.1 L437.6,38.1 L436.3,38.2 L434.9,38.3 L433.5,38.4 L432.2,38.4 L430.9,38.5 L429.5,38.6 L428.2,38.6 L426.8,38.8 L425.4,38.9 L423.9,39.1 L422.5,39.3 L421.1,39.5 L419.7,39.7 L418.3,39.8 L417.0,40.0 L415.7,40.1 L414.4,40.1 L413.1,40.1 L411.8,40.1 L410.5,40.0 L409.2,40.0 L407.8,40.0 L406.4,40.2 L405.0,40.5 L403.7,40.8 L402.3,41.1 L400.9,41.4 L399.6,41.8 L398.3,42.1 L397.1,42.8 L395.9,43.4 L394.8,43.9 L393.6,44.4 L392.5,44.8 L391.3,45.3 L390.2,45.7 L389.3,46.5 L388.4,47.5 L387.6,48.5 L386.7,49.5 L385.9,50.6 L385.0,51.8 L384.2,52.9 L383.7,54.3 L383.3,55.7 L382.9,57.1 L382.6,58.5 L382.2,59.9 L381.9,61.3 L381.6,62.6 L381.6,64.0 L381.5,65.4 L381.5,66.7 L381.4,68.0 L381.3,69.3 L381.2,70.6 L381.1,71.8 L381.0,73.1 L380.8,74.5 L380.7,75.8 L380.6,77.2 L380.6,78.7 Z" fill="none" stroke="#000" stroke-width="0.9" stroke-linejoin="round"/>
<path d="M381.5,80.0 L381.4,81.2 L381.3,82.4 L381.3,83.6 L381.2,84.9 L381.2,86.1 L381.2,87.4 L381.2,88.7 L381.3,90.0 L381.3,91.3 L381.3,92.6 L381.3,93.8 L381.4,95.1 L381.5,96.4 L381.6,97.6 L381.8,98.8 L382.0,100.0 L382.2,101.1 L382.5,102.3 L382.7,103.5 L383.0,104.7 L383.2,106.0 L383.3,107.3 L383.5,108.7 L383.9,110.0 L384.2,111.3 L384.5,112.7 L384.8,114.0 L385.1,115.3 L385.4,116.5 L385.8,117.6 L386.2,118.7 L386.6,119.7 L387.0,120.8 L387.5,121.7 L388.4,122.3 L389.3,123.1 L390.1,123.8 L390.9,124.7 L391.8,125.6 L392.7,126.4 L393.6,127.3 L394.6,128.2 L395.9,128.6 L397.3,128.8 L398.7,129.1 L400.1,129.2 L401.4,129.4 L402.8,129.6 L404.0,129.8 L405.2,130.1 L406.4,130.3 L407.5,130.6 L408.6,130.8 L409.6,130.6 L410.7,130.4 L411.8,130.1 L413.0,129.7 L414.1,129.4 L415.3,128.9 L416.5,128.5 L417.7,128.1 L418.9,127.7 L420.2,127.4 L421.4,127.1 L422.5,126.6 L423.4,126.1 L424.4,125.5 L425.4,124.9 L426.4,124.4 L427.4,123.7 L428.4,123.0 L429.4,122.2 L430.4,121.4 L431.4,120.5 L432.1,119.2 L432.7,118.0 L433.3,116.7 L434.0,115.6 L434.6,114.6 L435.3,113.6 L435.9,112.7 L436.5,111.9 L437.1,111.0 L437.7,110.2 L438.1,109.2 L438.4,108.1 L438.7,107.0 L439.0,105.8 L439.4,104.6 L439.7,103.3 L440.1,102.0 L440.6,100.8 L441.0,99.6 L441.4,98.4 L441.8,97.3 L442.1,96.1 L442.3,95.0 L442.5,93.8 L442.6,92.7 L442.8,91.5 L442.9,90.2 L443.0,89.0 L443.1,87.7 L443.2,86.4 L443.4,85.0 L443.5,83.7 L443.7,82.5 L443.7,81.2 L443.8,79.9 L443.8,78.6 L443.8,77.3 L443.9,75.9 L443.9,74.6 L444.0,73.2 L444.0,71.9 L444.1,70.5 L444.1,69.2 L444.2,67.9 L444.1,66.7 L443.9,65.6 L443.6,64.5 L443.4,63.5 L443.2,62.5 L442.9,61.5 L442.7,60.5 L442.5,59.5 L442.2,58.5 L441.6,57.5 L441.0,56.4 L440.4,55.3 L439.8,54.1 L439.2,52.9 L438.6,51.6 L437.6,50.8 L436.5,50.0 L435.4,49.3 L434.3,48.7 L433.2,48.1 L432.2,47.5 L431.2,47.1 L430.1,46.8 L428.9,46.7 L427.8,46.5 L426.6,46.3 L425.4,46.1 L424.2,45.8 L422.9,45.4 L421.5,45.0 L420.2,44.6 L418.8,44.4 L417.5,44.2 L416.2,44.0 L414.9,43.8 L413.7,43.6 L412.6,43.5 L411.5,43.4 L410.3,43.3 L409.2,43.4 L408.0,43.6 L406.8,43.8 L405.6,43.9 L404.4,44.0 L403.2,44.1 L402.0,44.2 L400.8,44.3 L399.6,44.5 L398.6,44.9 L397.6,45.6 L396.6,46.3 L395.6,47.1 L394.6,47.9 L393.5,48.7 L392.4,49.5 L391.2,50.3 L390.4,51.3 L389.5,52.3 L388.7,53.2 L387.9,54.0 L387.1,54.8 L386.4,55.6 L385.6,56.4 L385.0,57.2 L384.6,58.3 L384.3,59.5 L383.9,60.7 L383.5,62.0 L383.1,63.4 L382.7,64.8 L382.3,66.1 L382.0,67.5 L381.8,68.9 L381.8,70.2 L381.8,71.5 L381.9,72.8 L381.9,74.0 L381.9,75.2 L381.8,76.4 L381.7,77.6 L381.6,78.8 Z" fill="none" stroke="#000" stroke-width="0.9" stroke-linejoin="round"/>
<path d="M382.2,81.4 L382.3,82.6 L382.3,83.8 L382.3,84.9 L382.3,86.0 L382.2,87.0 L382.2,88.0 L382.2,89.1 L382.2,90.2 L382.2,91.3 L382.3,92.4 L382.4,93.6 L382.6,94.8 L382.8,96.0 L383.0,97.3 L383.2,98.5 L383.3,99.7 L383.4,100.9 L383.5,102.1 L383.5,103.2 L383.6,104.4 L383.7,105.5 L383.8,106.7 L384.1,107.8 L384.6,108.9 L385.1,110.0 L385.7,111.1 L386.3,112.3 L386.8,113.4 L387.4,114.6 L387.9,115.9 L388.3,117.1 L388.7,118.3 L389.0,119.5 L389.5,120.6 L390.3,121.4 L391.1,122.1 L391.9,122.8 L392.8,123.4 L393.7,124.0 L394.6,124.7 L395.5,125.3 L396.5,126.1 L397.6,126.4 L398.9,126.8 L400.1,127.1 L401.3,127.5 L402.6,127.9 L403.8,128.1 L405.0,128.3 L406.2,128.4 L407.4,128.4 L408.6,128.3 L409.7,128.1 L410.8,127.6 L412.0,127.1 L413.1,126.8 L414.1,126.5 L415.2,126.3 L416.3,126.2 L417.4,126.1 L418.5,126.1 L419.6,126.0 L420.7,125.8 L421.9,125.6 L422.9,125.1 L423.9,124.3 L424.8,123.4 L425.8,122.6 L426.8,121.8 L427.8,120.9 L428.7,120.1 L429.7,119.4 L430.6,118.7 L431.5,118.0 L432.1,117.1 L432.7,116.1 L433.2,115.1 L433.6,114.1 L434.1,113.1 L434.6,112.1 L435.1,111.2 L435.6,110.2 L436.1,109.2 L436.7,108.2 L437.1,107.2 L437.5,106.2 L437.9,105.1 L438.3,104.0 L438.7,102.9 L439.0,101.8 L439.3,100.7 L439.6,99.5 L439.9,98.4 L440.1,97.2 L440.3,96.0 L440.4,94.8 L440.5,93.7 L440.6,92.5 L440.8,91.3 L440.9,90.0 L441.1,88.8 L441.2,87.6 L441.3,86.4 L441.4,85.2 L441.4,84.1 L441.5,82.9 L441.5,81.8 L441.5,80.6 L441.5,79.5 L441.6,78.3 L441.7,77.2 L441.8,76.0 L441.9,74.8 L442.0,73.6 L442.1,72.3 L442.2,71.1 L442.2,70.0 L442.2,68.8 L442.1,67.7 L441.9,66.6 L441.7,65.6 L441.4,64.5 L441.2,63.5 L441.0,62.4 L440.8,61.4 L440.6,60.4 L440.3,59.3 L439.7,58.4 L439.1,57.5 L438.5,56.5 L437.9,55.6 L437.2,54.6 L436.6,53.7 L435.7,53.1 L434.7,52.5 L433.7,51.9 L432.6,51.3 L431.6,50.7 L430.6,50.0 L429.6,49.4 L428.5,48.9 L427.3,48.6 L426.2,48.2 L425.0,47.9 L423.8,47.7 L422.6,47.4 L421.5,47.2 L420.4,47.0 L419.2,46.8 L418.1,46.8 L417.0,46.8 L415.9,46.7 L414.7,46.6 L413.5,46.6 L412.3,46.5 L411.1,46.4 L409.9,46.4 L408.7,46.4 L407.4,46.6 L406.3,46.7 L405.1,46.8 L403.9,46.9 L402.8,46.9 L401.6,47.0 L400.5,47.1 L399.4,47.2 L398.3,47.6 L397.2,48.2 L396.2,48.8 L395.1,49.5 L394.1,50.3 L393.0,51.1 L392.0,51.8 L391.0,52.6 L390.3,53.7 L389.7,54.7 L389.1,55.7 L388.4,56.6 L387.8,57.5 L387.1,58.4 L386.4,59.3 L385.8,60.2 L385.4,61.4 L385.1,62.5 L384.7,63.7 L384.3,64.8 L383.9,65.9 L383.5,67.0 L383.1,68.1 L382.7,69.1 L382.4,70.2 L382.3,71.3 L382.2,72.5 L382.1,73.7 L382.1,74.9 L382.1,76.2 L382.1,77.5 L382.2,78.8 L382.2,80.1 Z" fill="none" stroke="#000" stroke-width="0.9" stroke-linejoin="round"/>
<path d="M382.9,81.9 L382.9,83.0 L383.0,84.2 L383.1,85.5 L383.2,86.7 L383.3,88.0 L383.4,89.3 L383.4,90.5 L383.4,91.7 L383.5,92.8 L383.5,93.9 L383.5,94.9 L383.6,96.0 L383.7,97.0 L383.9,98.1 L384.1,99.2 L384.4,100.4 L384.7,101.5 L385.0,102.7 L385.2,103.8 L385.5,104.8 L385.7,105.8 L385.9,106.6 L386.2,107.4 L386.5,108.2 L386.9,108.9 L387.4,109.7 L387.8,110.5 L388.3,111.5 L388.9,112.4 L389.4,113.5 L389.9,114.6 L390.5,115.8 L390.9,116.9 L391.5,118.0 L392.3,118.8 L393.1,119.6 L393.9,120.3 L394.7,121.0 L395.4,121.7 L396.2,122.4 L397.0,123.1 L397.8,123.8 L398.8,124.1 L399.8,124.3 L400.8,124.5 L401.9,124.7 L403.0,124.8 L404.1,124.9 L405.3,124.9 L406.5,124.9 L407.7,124.9 L409.0,124.9 L410.2,124.9 L411.4,124.7 L412.6,124.4 L413.7,124.3 L414.7,124.2 L415.7,124.0 L416.7,123.9 L417.6,123.8 L418.6,123.7 L419.7,123.6 L420.7,123.5 L421.9,123.4 L422.9,123.0 L423.9,122.5 L425.0,121.9 L426.0,121.3 L427.0,120.7 L427.8,120.1 L428.6,119.3 L429.4,118.6 L430.1,117.9 L430.9,117.2 L431.3,116.2 L431.8,115.2 L432.3,114.3 L432.9,113.3 L433.5,112.2 L434.1,111.2 L434.8,110.2 L435.3,109.1 L435.9,108.1 L436.4,107.1 L436.8,106.0 L437.1,105.0 L437.4,104.0 L437.6,103.0 L437.9,102.0 L438.2,100.9 L438.5,99.9 L438.8,98.7 L439.0,97.5 L439.3,96.3 L439.5,95.0 L439.6,93.7 L439.7,92.4 L439.7,91.2 L439.8,90.0 L439.9,88.9 L440.0,87.9 L440.1,86.9 L440.3,85.9 L440.4,84.9 L440.6,83.8 L440.7,82.7 L440.7,81.4 L440.7,80.1 L440.7,78.8 L440.6,77.5 L440.6,76.2 L440.6,75.0 L440.6,73.9 L440.6,73.0 L440.6,72.1 L440.6,71.3 L440.7,70.4 L440.7,69.5 L440.6,68.5 L440.4,67.5 L440.1,66.3 L439.9,65.1 L439.6,63.8 L439.3,62.6 L439.0,61.5 L438.6,60.6 L438.2,59.7 L437.6,59.0 L437.0,58.3 L436.4,57.7 L435.7,56.9 L435.1,56.1 L434.4,55.1 L433.4,54.3 L432.3,53.5 L431.2,52.7 L430.1,52.0 L429.1,51.4 L428.1,50.8 L427.1,50.4 L426.1,50.2 L425.2,50.1 L424.2,50.1 L423.2,50.0 L422.3,49.9 L421.3,49.8 L420.3,49.5 L419.3,49.2 L418.2,49.0 L417.1,48.8 L416.0,48.8 L415.0,48.8 L413.9,48.9 L412.8,49.0 L411.7,49.1 L410.6,49.2 L409.4,49.3 L408.3,49.4 L407.1,49.6 L405.9,49.7 L404.7,49.7 L403.5,49.8 L402.3,49.9 L401.1,50.1 L400.0,50.5 L398.8,50.8 L397.8,51.4 L396.8,52.2 L395.8,52.9 L394.8,53.5 L393.8,54.1 L392.9,54.6 L391.9,55.0 L391.0,55.5 L390.4,56.2 L389.8,57.0 L389.2,57.8 L388.6,58.6 L388.1,59.5 L387.5,60.4 L386.8,61.4 L386.2,62.3 L385.9,63.3 L385.5,64.3 L385.2,65.3 L384.8,66.3 L384.5,67.2 L384.2,68.2 L383.9,69.2 L383.6,70.3 L383.5,71.4 L383.5,72.6 L383.4,73.8 L383.3,75.1 L383.3,76.2 L383.2,77.4 L383.1,78.5 L383.0,79.6 L382.9,80.8 Z" fill="none" stroke="#000" stroke-width="0.9" stroke-linejoin="round"/>
<path d="M384.1,83.8 L384.1,84.7 L384.1,85.7 L384.1,86.7 L384.1,87.7 L384.2,88.7 L384.2,89.7 L384.3,90.7 L384.4,91.8 L384.5,92.8 L384.6,93.9 L384.8,95.1 L384.9,96.2 L385.0,97.4 L385.1,98.5 L385.2,99.7 L385.4,100.7 L385.6,101.7 L385.9,102.5 L386.2,103.4 L386.5,104.2 L386.9,105.0 L387.2,105.8 L387.6,106.6 L388.1,107.4 L388.5,108.3 L388.9,109.3 L389.3,110.3 L389.6,111.2 L390.0,112.1 L390.4,112.9 L390.8,113.7 L391.3,114.6 L391.8,115.4 L392.4,116.1 L393.4,116.8 L394.3,117.5 L395.2,118.2 L396.1,119.0 L396.9,119.7 L397.7,120.4 L398.5,121.1 L399.2,121.6 L400.1,121.7 L401.1,121.7 L402.0,121.7 L403.0,121.7 L404.1,121.8 L405.2,122.0 L406.2,122.2 L407.3,122.5 L408.4,122.9 L409.5,123.2 L410.5,123.5 L411.5,123.5 L412.6,123.4 L413.6,123.1 L414.7,122.8 L415.7,122.3 L416.8,121.8 L417.9,121.3 L419.1,120.9 L420.2,120.6 L421.4,120.4 L422.5,120.3 L423.5,120.1 L424.4,119.7 L425.3,119.3 L426.2,118.8 L427.1,118.3 L427.9,117.5 L428.7,116.6 L429.5,115.7 L430.3,114.9 L431.1,114.1 L431.6,113.2 L432.1,112.3 L432.6,111.6 L433.0,110.9 L433.5,110.2 L433.9,109.5 L434.4,108.8 L434.8,107.9 L435.2,107.0 L435.6,105.9 L436.0,104.8 L436.3,103.7 L436.6,102.6 L436.9,101.6 L437.2,100.6 L437.4,99.7 L437.6,98.8 L437.8,98.0 L438.0,97.1 L438.1,96.1 L438.4,95.1 L438.5,94.0 L438.6,92.8 L438.7,91.6 L438.9,90.3 L439.0,89.1 L439.2,88.0 L439.3,86.8 L439.4,85.7 L439.4,84.7 L439.4,83.6 L439.4,82.6 L439.4,81.6 L439.4,80.5 L439.3,79.4 L439.3,78.2 L439.3,77.1 L439.3,76.0 L439.4,74.9 L439.3,73.9 L439.3,72.9 L439.2,71.9 L439.1,71.0 L439.0,70.1 L438.8,69.2 L438.5,68.3 L438.2,67.3 L437.9,66.3 L437.6,65.3 L437.3,64.2 L436.9,63.1 L436.5,62.1 L436.0,61.0 L435.4,60.0 L434.8,59.0 L434.2,58.1 L433.6,57.1 L433.0,56.1 L432.4,55.2 L431.6,54.6 L430.7,54.0 L429.8,53.6 L428.9,53.2 L428.0,52.9 L427.1,52.6 L426.2,52.3 L425.3,52.1 L424.3,52.0 L423.3,51.8 L422.4,51.7 L421.4,51.5 L420.4,51.3 L419.4,51.1 L418.3,50.9 L417.2,50.7 L416.0,50.7 L414.8,50.8 L413.5,50.8 L412.3,50.9 L411.2,50.9 L410.0,50.9 L408.9,51.0 L407.9,51.0 L406.9,51.1 L405.9,51.3 L404.9,51.5 L403.9,51.7 L402.9,52.0 L401.8,52.3 L400.7,52.5 L399.7,52.9 L398.5,53.2 L397.5,53.6 L396.5,54.0 L395.5,54.5 L394.6,54.9 L393.7,55.4 L392.9,55.8 L392.0,56.3 L391.2,56.9 L390.7,57.8 L390.2,58.7 L389.6,59.6 L389.0,60.5 L388.3,61.3 L387.7,62.1 L387.0,62.9 L386.4,63.7 L386.1,64.6 L385.8,65.6 L385.6,66.7 L385.4,67.9 L385.2,69.2 L385.0,70.5 L384.8,71.9 L384.5,73.3 L384.5,74.7 L384.4,76.0 L384.4,77.2 L384.4,78.3 L384.4,79.4 L384.3,80.3 L384.3,81.2 L384.3,82.0 L384.2,82.9 Z" fill="none" stroke="#000" stroke-width="0.9" stroke-linejoin="round"/>
<path d="M384.9,83.5 L384.8,84.4 L384.8,85.3 L384.8,86.3 L384.8,87.3 L384.9,88.3 L385.1,89.3 L385.2,90.4 L385.4,91.5 L385.6,92.6 L385.8,93.8 L385.8,95.0 L385.9,96.1 L386.0,97.2 L386.0,98.2 L385.9,99.2 L386.0,100.1 L386.2,100.9 L386.4,101.7 L386.7,102.5 L387.0,103.4 L387.3,104.3 L387.7,105.2 L388.1,106.2 L388.5,107.3 L388.9,108.3 L389.2,109.3 L389.5,110.3 L389.8,111.2 L390.2,111.9 L390.6,112.5 L391.1,113.1 L391.7,113.7 L392.3,114.3 L393.1,114.9 L394.1,115.5 L395.1,116.2 L396.1,116.9 L397.1,117.7 L398.0,118.5 L398.9,119.3 L399.7,120.0 L400.6,120.7 L401.6,120.8 L402.6,120.9 L403.6,121.0 L404.7,120.9 L405.7,120.9 L406.7,120.9 L407.7,121.0 L408.7,121.0 L409.7,121.1 L410.6,121.2 L411.5,121.2 L412.5,121.1 L413.4,120.9 L414.4,120.7 L415.4,120.5 L416.5,120.2 L417.6,119.9 L418.7,119.7 L419.8,119.5 L420.9,119.3 L421.9,119.1 L422.9,118.8 L423.8,118.4 L424.7,117.8 L425.6,117.2 L426.4,116.6 L427.3,115.9 L428.0,115.2 L428.8,114.5 L429.5,113.8 L430.3,113.3 L431.0,112.8 L431.5,112.3 L432.0,111.7 L432.4,111.1 L432.9,110.5 L433.3,109.7 L433.8,108.8 L434.3,107.8 L434.7,106.6 L435.1,105.4 L435.5,104.2 L435.8,103.0 L436.0,101.9 L436.2,100.8 L436.3,99.8 L436.4,98.9 L436.4,98.1 L436.4,97.3 L436.5,96.4 L436.6,95.6 L436.7,94.7 L436.9,93.8 L437.1,92.8 L437.4,91.8 L437.6,90.7 L437.8,89.6 L438.0,88.5 L438.1,87.4 L438.2,86.3 L438.2,85.1 L438.3,84.0 L438.2,82.8 L438.2,81.6 L438.2,80.5 L438.2,79.3 L438.3,78.2 L438.3,77.1 L438.4,76.1 L438.5,75.2 L438.6,74.3 L438.5,73.4 L438.4,72.6 L438.3,71.8 L438.1,71.0 L437.9,70.1 L437.7,69.3 L437.3,68.4 L437.0,67.5 L436.6,66.6 L436.3,65.6 L435.9,64.6 L435.4,63.7 L434.9,62.8 L434.3,61.8 L433.5,61.0 L432.8,60.1 L432.1,59.2 L431.4,58.4 L430.8,57.6 L430.2,56.9 L429.4,56.5 L428.6,56.2 L427.8,56.0 L427.0,55.9 L426.1,55.7 L425.3,55.4 L424.4,55.1 L423.4,54.7 L422.4,54.3 L421.4,53.9 L420.3,53.4 L419.3,53.0 L418.3,52.6 L417.3,52.4 L416.2,52.3 L415.2,52.3 L414.2,52.6 L413.2,52.9 L412.2,53.2 L411.2,53.5 L410.3,53.6 L409.4,53.7 L408.5,53.7 L407.6,53.6 L406.7,53.5 L405.8,53.6 L404.9,53.7 L404.0,53.9 L403.0,54.2 L401.9,54.5 L400.9,54.8 L399.8,55.2 L398.7,55.6 L397.7,56.0 L396.6,56.5 L395.7,56.8 L394.7,57.1 L393.8,57.4 L393.0,57.7 L392.1,58.1 L391.3,58.6 L390.8,59.6 L390.4,60.6 L389.9,61.6 L389.4,62.7 L388.9,63.8 L388.4,64.9 L387.9,65.9 L387.5,66.9 L387.2,67.9 L386.9,68.8 L386.7,69.8 L386.5,70.8 L386.3,71.7 L386.1,72.7 L385.9,73.7 L385.7,74.6 L385.6,75.6 L385.6,76.5 L385.5,77.5 L385.5,78.3 L385.5,79.2 L385.4,80.1 L385.3,80.9 L385.2,81.7 L385.1,82.6 Z" fill="none" stroke="#000" stroke-width="0.9" stroke-linejoin="round"/>
<path d="M385.6,84.8 L385.8,85.5 L385.9,86.3 L386.0,87.1 L386.0,88.0 L386.1,88.9 L386.0,89.8 L386.0,90.9 L386.0,91.9 L386.0,93.0 L385.9,94.0 L386.0,95.1 L386.1,96.1 L386.2,97.1 L386.4,98.0 L386.7,98.9 L387.0,99.8 L387.4,100.6 L387.8,101.4 L388.2,102.2 L388.5,103.0 L388.9,103.9 L389.2,104.8 L389.5,105.7 L389.9,106.7 L390.3,107.7 L390.7,108.7 L391.2,109.8 L391.6,110.8 L392.2,111.7 L392.8,112.5 L393.4,113.3 L394.0,114.0 L394.6,114.7 L395.3,115.2 L396.1,115.7 L396.9,116.1 L397.7,116.5 L398.5,116.9 L399.3,117.3 L400.0,117.7 L400.8,118.2 L401.5,118.6 L402.4,118.8 L403.3,118.9 L404.1,119.0 L405.0,119.0 L406.0,119.1 L406.9,119.1 L407.9,119.1 L408.9,119.1 L410.0,119.1 L411.0,119.0 L412.0,118.9 L413.0,118.7 L414.0,118.6 L415.0,118.5 L416.0,118.4 L416.9,118.2 L417.9,118.1 L418.9,118.0 L419.9,118.0 L420.9,117.9 L421.9,117.8 L423.0,117.6 L423.9,117.2 L424.8,116.7 L425.6,116.1 L426.4,115.5 L427.1,114.8 L427.7,114.0 L428.3,113.1 L428.9,112.4 L429.5,111.7 L430.1,111.0 L430.7,110.3 L431.3,109.6 L431.9,108.9 L432.5,108.1 L433.0,107.3 L433.5,106.5 L434.0,105.6 L434.3,104.6 L434.5,103.5 L434.7,102.5 L434.8,101.5 L435.0,100.6 L435.1,99.7 L435.3,99.0 L435.6,98.2 L435.8,97.5 L436.1,96.7 L436.4,95.9 L436.6,95.0 L436.8,93.9 L437.0,92.8 L437.2,91.6 L437.2,90.4 L437.2,89.2 L437.2,88.0 L437.2,86.9 L437.2,85.9 L437.2,84.9 L437.3,84.0 L437.3,83.2 L437.2,82.4 L437.2,81.5 L437.1,80.6 L437.0,79.7 L436.9,78.7 L436.9,77.7 L436.8,76.7 L436.9,75.7 L436.9,74.8 L436.9,73.9 L436.8,73.1 L436.8,72.3 L436.7,71.5 L436.6,70.7 L436.4,69.8 L436.1,68.8 L435.7,67.8 L435.3,66.7 L434.9,65.6 L434.6,64.5 L434.1,63.6 L433.6,62.8 L433.1,62.0 L432.4,61.4 L431.8,60.9 L431.2,60.4 L430.6,59.9 L429.9,59.4 L429.3,58.8 L428.4,58.4 L427.5,58.1 L426.6,57.7 L425.7,57.5 L424.7,57.3 L423.8,57.1 L422.9,56.8 L421.9,56.7 L421.0,56.6 L420.0,56.5 L419.0,56.4 L418.0,56.2 L417.0,55.9 L416.1,55.7 L415.1,55.4 L414.2,55.2 L413.3,55.1 L412.5,55.1 L411.6,55.1 L410.8,55.1 L409.9,55.1 L409.0,55.1 L408.1,55.1 L407.1,55.1 L406.1,55.1 L405.0,55.2 L404.0,55.2 L402.9,55.3 L401.9,55.4 L400.9,55.6 L400.0,55.9 L399.2,56.3 L398.4,56.7 L397.7,57.3 L396.9,57.9 L396.1,58.5 L395.3,59.0 L394.4,59.4 L393.5,59.9 L392.6,60.2 L391.6,60.7 L391.0,61.5 L390.4,62.3 L389.9,63.2 L389.3,64.2 L388.8,65.2 L388.3,66.2 L387.9,67.2 L387.5,68.1 L387.2,69.1 L387.0,70.1 L386.9,70.9 L386.7,71.8 L386.5,72.6 L386.4,73.5 L386.2,74.3 L386.0,75.3 L385.9,76.2 L385.8,77.3 L385.7,78.3 L385.7,79.4 L385.6,80.4 L385.6,81.4 L385.6,82.3 L385.6,83.2 L385.6,84.0 Z" fill="none" stroke="#000" stroke-width="0.9" stroke-linejoin="round"/>
<path d="M386.5,85.8 L386.5,86.7 L386.5,87.6 L386.5,88.6 L386.5,89.6 L386.5,90.6 L386.6,91.5 L386.6,92.4 L386.6,93.2 L386.6,94.0 L386.6,94.7 L386.5,95.4 L386.5,96.1 L386.5,96.9 L386.6,97.8 L386.7,98.7 L387.0,99.8 L387.4,100.8 L387.9,101.9 L388.4,103.0 L388.9,104.0 L389.4,105.0 L389.9,105.9 L390.4,106.6 L390.9,107.3 L391.3,107.9 L391.8,108.5 L392.2,109.1 L392.6,109.8 L393.1,110.3 L393.7,110.9 L394.3,111.5 L394.9,112.1 L395.5,112.7 L396.1,113.2 L396.9,113.6 L397.6,114.0 L398.4,114.3 L399.2,114.7 L400.0,115.1 L400.8,115.5 L401.6,116.0 L402.5,116.6 L403.4,116.8 L404.4,117.1 L405.3,117.4 L406.3,117.6 L407.2,117.8 L408.1,117.8 L409.0,117.8 L409.9,117.6 L410.9,117.4 L411.8,117.2 L412.7,117.1 L413.7,116.8 L414.7,116.7 L415.7,116.6 L416.7,116.5 L417.6,116.3 L418.5,116.1 L419.4,115.9 L420.2,115.7 L421.1,115.4 L421.9,115.1 L422.7,114.8 L423.6,114.4 L424.4,114.0 L425.3,113.7 L426.1,113.4 L427.0,113.2 L427.8,112.8 L428.4,112.4 L429.1,111.9 L429.7,111.4 L430.2,110.8 L430.7,110.0 L431.1,109.1 L431.6,108.2 L432.1,107.2 L432.5,106.2 L433.0,105.2 L433.6,104.3 L433.9,103.3 L434.2,102.4 L434.5,101.6 L434.6,100.7 L434.7,99.9 L434.8,99.0 L434.9,98.2 L435.0,97.3 L435.1,96.4 L435.3,95.5 L435.4,94.6 L435.7,93.6 L435.9,92.6 L436.2,91.7 L436.4,90.7 L436.5,89.7 L436.6,88.8 L436.6,87.9 L436.6,87.0 L436.6,86.1 L436.6,85.3 L436.6,84.5 L436.5,83.7 L436.5,82.9 L436.5,82.0 L436.5,81.2 L436.4,80.3 L436.4,79.3 L436.4,78.4 L436.3,77.3 L436.3,76.3 L436.3,75.2 L436.1,74.3 L435.8,73.3 L435.6,72.4 L435.4,71.5 L435.2,70.7 L435.0,69.8 L434.6,69.0 L434.3,68.2 L434.0,67.3 L433.6,66.4 L433.2,65.5 L432.7,64.7 L432.1,64.0 L431.5,63.4 L430.8,62.7 L430.1,62.1 L429.5,61.4 L428.9,60.8 L428.3,60.2 L427.6,59.6 L426.9,59.1 L426.1,58.6 L425.3,58.2 L424.4,57.9 L423.5,57.6 L422.6,57.3 L421.8,57.1 L420.9,57.0 L420.0,56.9 L419.1,56.9 L418.2,56.9 L417.3,56.9 L416.3,56.8 L415.4,56.8 L414.4,56.7 L413.4,56.6 L412.4,56.6 L411.4,56.7 L410.4,56.7 L409.5,56.8 L408.6,56.8 L407.7,56.9 L406.9,57.0 L406.0,57.0 L405.2,57.1 L404.4,57.3 L403.5,57.4 L402.6,57.5 L401.6,57.6 L400.6,57.6 L399.6,57.8 L398.7,58.0 L397.7,58.3 L396.8,58.7 L396.0,59.1 L395.1,59.6 L394.3,60.1 L393.5,60.7 L392.8,61.2 L392.1,61.8 L391.4,62.3 L391.1,63.2 L390.8,64.1 L390.5,65.0 L390.2,65.8 L389.9,66.7 L389.6,67.5 L389.2,68.3 L388.9,69.1 L388.6,70.0 L388.3,70.9 L388.1,71.8 L387.8,72.7 L387.6,73.7 L387.4,74.6 L387.2,75.7 L387.0,76.7 L386.9,77.7 L386.9,78.7 L386.9,79.7 L386.9,80.7 L386.9,81.6 L386.9,82.5 L386.8,83.3 L386.8,84.1 L386.6,85.0 Z" fill="none" stroke="#000" stroke-width="0.9" stroke-linejoin="round"/>
<path d="M387.0,86.0 L387.0,86.6 L387.0,87.3 L387.0,88.0 L387.0,88.9 L387.0,89.8 L387.0,90.8 L387.1,91.8 L387.2,92.9 L387.4,94.0 L387.6,95.0 L387.7,96.0 L387.9,97.1 L388.0,98.0 L388.1,99.0 L388.2,100.0 L388.4,100.9 L388.7,101.7 L389.1,102.6 L389.4,103.4 L389.8,104.2 L390.3,104.9 L390.8,105.6 L391.3,106.3 L391.8,107.0 L392.3,107.6 L392.8,108.2 L393.2,108.9 L393.6,109.6 L394.1,110.1 L394.6,110.5 L395.1,111.1 L395.6,111.6 L396.2,112.1 L396.8,112.6 L397.6,113.0 L398.4,113.4 L399.2,113.9 L400.1,114.3 L401.0,114.7 L401.8,115.2 L402.7,115.6 L403.6,116.0 L404.5,116.2 L405.4,116.3 L406.3,116.4 L407.1,116.5 L408.0,116.5 L408.8,116.5 L409.6,116.4 L410.5,116.3 L411.3,116.2 L412.2,116.1 L413.1,115.9 L414.1,115.7 L415.1,115.5 L416.1,115.3 L417.1,115.1 L418.1,114.7 L419.1,114.4 L420.0,114.1 L420.9,113.7 L421.7,113.5 L422.5,113.2 L423.3,113.0 L424.0,112.7 L424.7,112.4 L425.4,112.2 L426.2,112.0 L426.9,111.7 L427.6,111.3 L428.2,110.7 L428.8,110.2 L429.4,109.5 L429.9,108.9 L430.4,108.1 L430.8,107.2 L431.2,106.4 L431.5,105.5 L431.9,104.7 L432.3,103.9 L432.7,103.1 L432.9,102.3 L433.1,101.5 L433.4,100.7 L433.7,99.9 L433.9,99.1 L434.1,98.2 L434.4,97.3 L434.6,96.4 L434.8,95.4 L435.0,94.5 L435.2,93.5 L435.4,92.5 L435.5,91.6 L435.7,90.7 L435.8,89.9 L435.8,89.0 L435.8,88.2 L435.7,87.4 L435.6,86.6 L435.6,85.8 L435.6,85.0 L435.6,84.1 L435.6,83.2 L435.6,82.2 L435.7,81.3 L435.8,80.3 L435.8,79.4 L435.8,78.5 L435.7,77.7 L435.7,76.9 L435.5,76.1 L435.4,75.3 L435.0,74.6 L434.7,73.8 L434.4,73.0 L434.1,72.1 L433.9,71.1 L433.7,70.2 L433.5,69.2 L433.3,68.2 L433.1,67.2 L432.8,66.3 L432.6,65.5 L432.1,65.0 L431.4,64.6 L430.7,64.2 L430.0,63.9 L429.2,63.6 L428.5,63.3 L427.8,62.9 L427.1,62.4 L426.5,61.8 L425.8,61.3 L425.0,60.7 L424.2,60.1 L423.3,59.7 L422.4,59.3 L421.5,59.0 L420.6,58.6 L419.6,58.4 L418.7,58.3 L417.8,58.2 L417.0,58.2 L416.2,58.2 L415.3,58.2 L414.5,58.3 L413.7,58.3 L412.8,58.3 L411.9,58.4 L410.9,58.6 L410.0,58.7 L409.0,58.7 L408.1,58.6 L407.2,58.5 L406.4,58.4 L405.6,58.2 L404.9,58.1 L404.1,58.1 L403.3,58.2 L402.5,58.4 L401.6,58.7 L400.6,59.0 L399.6,59.5 L398.7,60.1 L397.7,60.6 L396.8,61.2 L395.9,61.7 L395.1,62.1 L394.4,62.4 L393.7,62.6 L393.0,62.8 L392.3,63.0 L391.7,63.4 L391.3,64.1 L390.9,64.8 L390.5,65.7 L390.1,66.6 L389.7,67.6 L389.2,68.5 L388.8,69.4 L388.5,70.2 L388.2,71.0 L388.0,71.8 L387.9,72.5 L387.9,73.3 L387.7,74.1 L387.6,74.9 L387.4,75.9 L387.2,76.9 L387.1,78.0 L387.0,79.2 L386.9,80.3 L386.9,81.4 L386.9,82.4 L387.0,83.3 L387.0,84.1 L387.1,84.8 L387.1,85.4 Z" fill="none" stroke="#000" stroke-width="0.9" stroke-linejoin="round"/>
<path d="M387.2,86.1 L387.3,87.2 L387.4,88.4 L387.4,89.6 L387.5,90.8 L387.5,91.9 L387.5,92.9 L387.5,93.8 L387.5,94.6 L387.5,95.2 L387.5,95.8 L387.6,96.4 L387.8,97.0 L388.0,97.6 L388.3,98.2 L388.6,99.0 L389.0,99.7 L389.5,100.5 L389.9,101.3 L390.4,102.2 L390.7,103.1 L391.1,104.1 L391.4,105.0 L391.8,106.0 L392.3,106.9 L392.7,107.7 L393.2,108.5 L393.7,109.2 L394.2,109.9 L395.0,110.3 L395.7,110.6 L396.4,110.9 L397.1,111.2 L397.7,111.6 L398.4,111.9 L399.1,112.3 L399.8,112.8 L400.6,113.2 L401.4,113.7 L402.2,114.2 L403.0,114.6 L403.8,115.0 L404.6,115.2 L405.4,115.1 L406.3,115.0 L407.1,114.9 L407.9,114.7 L408.6,114.6 L409.4,114.6 L410.2,114.6 L411.0,114.6 L411.8,114.7 L412.7,114.8 L413.5,114.8 L414.4,114.8 L415.3,114.7 L416.2,114.6 L417.1,114.5 L418.0,114.1 L418.9,113.9 L419.8,113.6 L420.6,113.5 L421.5,113.4 L422.4,113.2 L423.3,113.1 L424.1,112.9 L424.9,112.6 L425.6,112.1 L426.4,111.6 L427.1,111.0 L427.6,110.1 L428.1,109.1 L428.6,108.2 L429.1,107.4 L429.7,106.6 L430.2,105.9 L430.7,105.3 L431.2,104.7 L431.6,104.1 L432.1,103.5 L432.5,102.9 L432.8,102.1 L432.9,101.2 L433.0,100.3 L433.1,99.3 L433.2,98.3 L433.3,97.4 L433.4,96.6 L433.6,95.8 L433.7,95.0 L433.9,94.3 L434.1,93.6 L434.3,92.8 L434.5,92.1 L434.6,91.2 L434.8,90.4 L434.9,89.5 L435.0,88.6 L435.1,87.7 L435.1,86.8 L435.2,86.0 L435.3,85.2 L435.4,84.4 L435.5,83.6 L435.5,82.8 L435.5,82.0 L435.4,81.1 L435.2,80.2 L435.0,79.2 L434.9,78.3 L434.7,77.4 L434.5,76.5 L434.4,75.7 L434.4,74.9 L434.1,74.2 L433.9,73.5 L433.7,72.7 L433.5,72.0 L433.3,71.1 L433.0,70.2 L432.7,69.3 L432.3,68.4 L432.0,67.6 L431.6,66.8 L431.3,66.1 L430.7,65.6 L430.1,65.3 L429.5,65.1 L428.9,64.8 L428.2,64.5 L427.6,64.1 L426.9,63.6 L426.2,63.0 L425.5,62.3 L424.8,61.7 L424.0,61.1 L423.3,60.6 L422.4,60.4 L421.6,60.3 L420.8,60.2 L420.0,60.2 L419.1,60.3 L418.2,60.4 L417.2,60.4 L416.3,60.4 L415.3,60.3 L414.4,60.1 L413.4,59.8 L412.5,59.6 L411.6,59.3 L410.8,59.3 L410.0,59.3 L409.2,59.5 L408.4,59.7 L407.7,59.9 L406.9,60.1 L406.1,60.2 L405.2,60.4 L404.4,60.5 L403.5,60.6 L402.6,60.7 L401.7,60.8 L400.9,61.0 L400.0,61.1 L399.2,61.4 L398.4,61.8 L397.7,62.2 L396.9,62.6 L396.2,63.1 L395.4,63.5 L394.7,63.9 L394.0,64.2 L393.3,64.5 L392.6,64.8 L392.0,65.1 L391.7,65.8 L391.4,66.4 L391.0,67.1 L390.7,67.8 L390.3,68.4 L389.8,69.1 L389.3,69.8 L388.9,70.5 L388.4,71.2 L388.1,71.9 L387.9,72.7 L387.8,73.6 L387.7,74.5 L387.7,75.4 L387.6,76.3 L387.6,77.3 L387.7,78.2 L387.7,79.1 L387.7,79.9 L387.7,80.7 L387.6,81.5 L387.5,82.3 L387.5,83.2 L387.4,84.1 L387.3,85.0 Z" fill="none" stroke="#000" stroke-width="0.9" stroke-linejoin="round"/>
<path d="M387.5,87.3 L387.6,88.1 L387.7,89.0 L387.7,89.8 L387.8,90.6 L387.8,91.4 L387.8,92.2 L387.9,92.9 L388.0,93.7 L388.1,94.4 L388.3,95.2 L388.5,96.0 L388.7,96.8 L388.9,97.6 L389.1,98.5 L389.3,99.3 L389.6,100.1 L390.1,100.8 L390.5,101.6 L390.9,102.4 L391.3,103.2 L391.6,103.9 L392.0,104.7 L392.4,105.4 L392.9,106.2 L393.4,106.8 L393.9,107.5 L394.5,108.1 L395.1,108.7 L395.9,108.9 L396.6,109.2 L397.4,109.5 L398.1,109.8 L398.8,110.1 L399.5,110.5 L400.2,111.0 L400.8,111.5 L401.5,112.0 L402.2,112.5 L403.0,113.0 L403.7,113.5 L404.5,113.9 L405.3,114.2 L406.2,114.1 L407.1,114.0 L408.0,113.8 L408.9,113.6 L409.7,113.4 L410.5,113.2 L411.4,113.0 L412.1,112.8 L412.9,112.8 L413.7,112.8 L414.5,112.9 L415.3,113.0 L416.1,113.1 L416.9,113.3 L417.7,113.4 L418.4,113.2 L419.2,112.9 L419.9,112.6 L420.7,112.3 L421.4,111.9 L422.2,111.5 L423.0,111.1 L423.8,110.7 L424.6,110.3 L425.4,110.0 L426.2,109.7 L427.0,109.5 L427.5,109.1 L428.0,108.6 L428.5,108.1 L429.0,107.5 L429.5,107.0 L429.9,106.3 L430.3,105.6 L430.6,104.8 L431.0,103.9 L431.4,103.1 L431.8,102.2 L432.2,101.3 L432.4,100.4 L432.5,99.5 L432.7,98.7 L432.9,97.9 L433.0,97.1 L433.2,96.3 L433.3,95.5 L433.5,94.7 L433.7,93.9 L433.8,93.1 L434.0,92.3 L434.2,91.5 L434.3,90.6 L434.4,89.8 L434.5,89.0 L434.5,88.3 L434.5,87.5 L434.4,86.8 L434.3,86.1 L434.3,85.3 L434.2,84.6 L434.2,83.8 L434.2,82.9 L434.3,82.1 L434.3,81.1 L434.3,80.2 L434.3,79.2 L434.3,78.3 L434.2,77.3 L434.2,76.4 L434.1,75.6 L434.0,74.8 L433.6,74.0 L433.2,73.3 L432.9,72.6 L432.5,71.9 L432.2,71.2 L431.8,70.5 L431.5,69.7 L431.2,68.9 L430.9,68.0 L430.6,67.2 L430.3,66.3 L429.7,65.7 L429.1,65.3 L428.5,64.8 L427.8,64.4 L427.2,64.0 L426.5,63.6 L425.8,63.3 L425.1,62.9 L424.5,62.6 L423.7,62.2 L423.0,61.9 L422.2,61.6 L421.3,61.5 L420.5,61.4 L419.6,61.3 L418.8,61.2 L418.0,61.1 L417.1,61.1 L416.3,61.1 L415.5,61.1 L414.7,61.1 L413.9,61.1 L413.1,61.0 L412.4,61.0 L411.6,60.9 L410.8,60.9 L410.1,61.0 L409.3,61.0 L408.5,61.1 L407.7,61.1 L406.8,61.2 L405.9,61.3 L405.0,61.4 L404.1,61.5 L403.1,61.6 L402.2,61.8 L401.3,62.0 L400.4,62.2 L399.5,62.3 L398.7,62.5 L398.1,62.9 L397.4,63.2 L396.8,63.5 L396.2,63.8 L395.6,64.1 L395.0,64.4 L394.3,64.7 L393.6,65.0 L392.9,65.3 L392.2,65.7 L391.7,66.5 L391.3,67.3 L390.9,68.1 L390.4,69.0 L390.0,70.0 L389.6,71.0 L389.3,72.0 L388.9,72.9 L388.6,73.9 L388.4,74.8 L388.3,75.7 L388.3,76.5 L388.2,77.3 L388.1,78.0 L388.0,78.6 L387.9,79.3 L387.8,80.0 L387.8,80.6 L387.7,81.3 L387.7,82.1 L387.7,82.9 L387.6,83.7 L387.6,84.6 L387.6,85.5 L387.6,86.4 Z" fill="none" stroke="#000" stroke-width="0.9" stroke-linejoin="round"/>
<path d="M387.9,87.6 L388.0,88.4 L388.1,89.3 L388.2,90.1 L388.4,91.0 L388.5,91.9 L388.7,92.7 L388.8,93.6 L388.9,94.4 L389.0,95.2 L389.1,95.9 L389.1,96.7 L389.2,97.4 L389.3,98.1 L389.5,98.8 L389.6,99.5 L390.1,100.1 L390.6,100.7 L391.2,101.4 L391.7,102.1 L392.2,102.8 L392.7,103.6 L393.2,104.3 L393.7,105.0 L394.1,105.7 L394.5,106.4 L394.9,107.0 L395.4,107.6 L395.9,108.2 L396.6,108.5 L397.4,108.7 L398.2,109.0 L399.0,109.2 L399.8,109.5 L400.6,109.8 L401.3,110.2 L402.0,110.5 L402.7,110.8 L403.3,111.1 L404.0,111.4 L404.6,111.7 L405.3,112.0 L406.1,112.2 L406.9,112.1 L407.8,112.1 L408.6,112.1 L409.5,112.0 L410.4,112.0 L411.2,112.0 L412.1,112.0 L412.9,112.0 L413.6,111.9 L414.4,111.9 L415.1,111.8 L415.9,111.8 L416.6,111.8 L417.4,111.8 L418.1,111.7 L418.9,111.4 L419.6,111.1 L420.4,110.9 L421.1,110.6 L421.9,110.3 L422.7,110.0 L423.5,109.7 L424.2,109.4 L424.9,109.1 L425.7,108.8 L426.4,108.5 L427.1,108.1 L427.6,107.5 L428.0,106.9 L428.3,106.2 L428.7,105.5 L429.1,104.8 L429.5,104.1 L429.9,103.5 L430.3,102.7 L430.7,102.0 L431.1,101.3 L431.5,100.6 L431.9,99.9 L432.0,99.1 L432.1,98.3 L432.2,97.5 L432.4,96.7 L432.5,96.0 L432.6,95.3 L432.8,94.6 L432.9,93.9 L433.1,93.2 L433.2,92.5 L433.4,91.8 L433.5,91.1 L433.7,90.4 L433.8,89.7 L434.0,88.9 L434.0,88.1 L433.9,87.3 L433.9,86.5 L433.8,85.6 L433.7,84.7 L433.6,83.8 L433.5,82.9 L433.5,82.0 L433.4,81.1 L433.3,80.3 L433.2,79.5 L433.1,78.7 L433.0,77.9 L432.9,77.2 L432.8,76.5 L432.7,75.8 L432.6,75.1 L432.3,74.4 L431.9,73.7 L431.6,73.0 L431.3,72.2 L431.0,71.4 L430.7,70.6 L430.3,69.8 L430.0,69.0 L429.7,68.2 L429.4,67.5 L429.1,66.8 L428.5,66.3 L427.8,66.0 L427.1,65.8 L426.5,65.5 L425.8,65.2 L425.1,64.9 L424.4,64.6 L423.7,64.3 L423.0,64.0 L422.3,63.7 L421.5,63.3 L420.8,63.0 L420.0,63.0 L419.3,62.9 L418.6,62.8 L417.8,62.7 L417.1,62.7 L416.4,62.6 L415.6,62.6 L414.9,62.5 L414.1,62.5 L413.3,62.4 L412.4,62.4 L411.6,62.3 L410.7,62.3 L409.8,62.3 L408.9,62.5 L408.1,62.6 L407.3,62.8 L406.4,63.0 L405.6,63.1 L404.9,63.3 L404.1,63.4 L403.3,63.5 L402.5,63.6 L401.7,63.7 L400.9,63.7 L400.1,63.8 L399.3,63.8 L398.6,63.9 L397.9,64.2 L397.2,64.5 L396.6,64.9 L396.0,65.3 L395.3,65.7 L394.7,66.1 L394.0,66.6 L393.4,67.1 L392.7,67.6 L392.1,68.1 L391.8,68.9 L391.5,69.6 L391.1,70.4 L390.8,71.1 L390.5,71.9 L390.1,72.6 L389.8,73.3 L389.5,74.0 L389.2,74.8 L389.0,75.5 L388.9,76.3 L388.9,77.1 L388.8,77.9 L388.8,78.7 L388.8,79.4 L388.8,80.2 L388.8,80.9 L388.7,81.7 L388.7,82.4 L388.6,83.1 L388.5,83.8 L388.4,84.5 L388.3,85.3 L388.1,86.0 L388.0,86.8 Z" fill="#505050" stroke="#000" stroke-width="0.9" stroke-linejoin="round"/>
<path d="M389.8,86.9 L389.8,87.6 L389.9,88.3 L389.9,89.1 L390.0,89.9 L390.0,90.8 L390.2,91.8 L390.4,92.7 L390.6,93.7 L390.8,94.6 L390.9,95.4 L391.1,96.2 L391.2,96.8 L391.2,97.4 L391.1,98.0 L391.1,98.6 L391.2,99.1 L391.5,99.6 L391.9,100.2 L392.3,100.8 L392.9,101.5 L393.4,102.1 L394.0,102.8 L394.5,103.4 L395.0,104.0 L395.5,104.6 L395.9,105.2 L396.3,105.9 L396.7,106.6 L397.4,107.0 L398.1,107.5 L398.9,108.0 L399.8,108.5 L400.7,109.0 L401.6,109.3 L402.5,109.6 L403.2,109.7 L403.9,109.8 L404.5,109.9 L404.9,109.9 L405.3,110.0 L405.7,110.1 L406.2,110.3 L406.8,110.3 L407.6,110.5 L408.4,110.6 L409.4,110.7 L410.4,110.8 L411.5,110.9 L412.4,110.8 L413.3,110.7 L414.0,110.4 L414.6,110.2 L415.1,109.9 L415.5,109.6 L415.9,109.4 L416.3,109.1 L416.8,108.8 L417.4,108.2 L418.1,107.6 L418.8,107.0 L419.7,106.5 L420.5,106.0 L421.4,105.6 L422.2,105.4 L423.0,105.3 L423.7,105.3 L424.4,105.5 L425.1,105.8 L425.7,106.1 L426.2,106.0 L426.6,105.8 L427.1,105.4 L427.5,104.9 L427.9,104.3 L428.3,103.5 L428.6,102.8 L429.0,102.0 L429.3,101.4 L429.6,100.9 L429.9,100.5 L430.3,100.1 L430.5,99.7 L430.7,99.2 L430.9,98.6 L431.2,97.9 L431.5,97.0 L431.7,96.0 L431.8,94.8 L432.0,93.7 L432.0,92.6 L432.0,91.6 L432.0,90.8 L432.0,90.1 L432.0,89.5 L432.0,89.0 L432.1,88.5 L432.1,87.9 L432.0,87.3 L432.0,86.5 L432.0,85.7 L432.0,84.8 L432.0,83.9 L432.0,83.1 L432.0,82.2 L432.0,81.5 L431.9,80.7 L431.9,80.0 L431.8,79.3 L431.7,78.5 L431.6,77.7 L431.4,76.7 L431.2,75.8 L430.9,74.8 L430.4,73.9 L430.0,73.1 L429.7,72.4 L429.5,71.8 L429.4,71.4 L429.4,70.9 L429.5,70.5 L429.5,70.1 L429.5,69.6 L429.4,68.9 L429.2,68.2 L428.7,67.7 L427.9,67.2 L427.0,66.7 L426.1,66.4 L425.2,66.1 L424.3,66.0 L423.6,65.9 L422.9,65.8 L422.3,65.7 L421.8,65.5 L421.2,65.2 L420.6,64.8 L419.8,64.5 L419.0,64.1 L418.0,63.7 L417.0,63.4 L415.9,63.3 L414.9,63.3 L413.9,63.5 L413.1,63.8 L412.3,64.1 L411.7,64.4 L411.2,64.6 L410.6,64.5 L410.1,64.2 L409.5,63.8 L408.9,63.4 L408.2,62.9 L407.5,62.5 L406.8,62.2 L406.1,62.1 L405.4,62.3 L404.9,62.7 L404.4,63.3 L403.9,64.1 L403.4,64.9 L402.8,65.7 L402.1,66.4 L401.3,66.9 L400.4,67.4 L399.4,67.9 L398.4,68.3 L397.3,68.6 L396.2,68.8 L395.3,69.0 L394.5,69.1 L393.7,69.2 L393.1,69.2 L392.6,69.3 L392.2,69.3 L392.1,69.6 L392.0,70.0 L391.9,70.5 L391.7,71.1 L391.5,71.7 L391.2,72.6 L391.0,73.4 L390.8,74.4 L390.6,75.3 L390.5,76.2 L390.6,77.1 L390.6,77.8 L390.7,78.4 L390.7,79.0 L390.6,79.4 L390.5,79.9 L390.5,80.3 L390.4,80.9 L390.3,81.5 L390.2,82.2 L390.1,83.0 L390.1,83.8 L390.1,84.6 L390.0,85.4 L389.9,86.2 Z" fill="none" stroke="#0a0a0a" stroke-width="0.9" stroke-linejoin="round"/>
<path d="M391.1,88.9 L391.4,89.9 L391.6,90.7 L391.8,91.5 L391.8,92.2 L391.9,92.7 L391.9,93.2 L391.8,93.6 L391.7,93.9 L391.7,94.2 L391.8,94.6 L391.9,95.1 L392.1,95.7 L392.3,96.3 L392.6,97.0 L392.8,97.6 L393.2,98.2 L393.7,98.7 L394.0,99.2 L394.4,99.7 L394.7,100.1 L395.0,100.5 L395.3,101.0 L395.7,101.5 L396.1,101.9 L396.5,102.4 L397.0,102.9 L397.5,103.3 L398.0,103.6 L398.7,103.7 L399.3,103.6 L399.9,103.6 L400.5,103.6 L401.1,103.7 L401.6,103.8 L402.2,104.1 L402.8,104.5 L403.5,105.1 L404.1,105.7 L404.8,106.3 L405.4,106.9 L406.0,107.5 L406.7,107.9 L407.3,108.0 L407.8,108.0 L408.4,108.0 L409.1,108.0 L409.8,108.0 L410.5,108.0 L411.3,108.1 L412.2,108.2 L413.0,108.4 L413.9,108.6 L414.7,108.7 L415.4,108.8 L416.1,108.9 L416.7,108.8 L417.3,108.7 L417.8,108.3 L418.4,107.8 L419.0,107.4 L419.6,107.0 L420.3,106.7 L421.0,106.4 L421.8,106.1 L422.5,105.8 L423.2,105.5 L423.9,105.2 L424.4,104.9 L424.9,104.5 L425.2,104.0 L425.4,103.4 L425.7,102.9 L426.0,102.3 L426.4,101.9 L426.9,101.5 L427.4,101.1 L428.0,100.7 L428.5,100.3 L428.9,99.8 L429.3,99.2 L429.6,98.6 L429.5,97.8 L429.4,97.0 L429.3,96.1 L429.2,95.2 L429.2,94.2 L429.2,93.3 L429.3,92.5 L429.4,91.7 L429.6,90.9 L429.9,90.2 L430.1,89.5 L430.2,88.9 L430.4,88.4 L430.5,87.8 L430.6,87.3 L430.6,86.8 L430.6,86.3 L430.6,85.8 L430.7,85.2 L430.7,84.7 L430.8,84.1 L430.8,83.5 L430.8,82.8 L430.7,82.2 L430.5,81.7 L430.3,81.2 L430.0,80.7 L429.7,80.2 L429.5,79.7 L429.3,79.3 L429.2,78.7 L429.2,78.1 L429.1,77.5 L429.0,76.8 L428.8,76.1 L428.7,75.2 L428.4,74.4 L428.2,73.6 L427.8,72.8 L427.4,72.1 L427.0,71.4 L426.6,70.8 L426.2,70.1 L425.8,69.7 L425.3,69.4 L424.9,69.0 L424.6,68.6 L424.4,68.1 L424.1,67.6 L423.8,67.2 L423.4,66.8 L422.8,66.4 L422.2,66.1 L421.5,65.8 L420.6,65.6 L419.6,65.5 L418.6,65.3 L417.6,65.1 L416.7,64.8 L415.7,64.4 L414.8,64.0 L414.0,63.6 L413.3,63.3 L412.6,63.1 L412.0,63.1 L411.5,63.2 L411.0,63.4 L410.5,63.7 L410.0,64.0 L409.4,64.4 L408.8,64.7 L408.2,64.8 L407.4,64.8 L406.7,64.6 L405.9,64.4 L405.0,64.2 L404.2,64.0 L403.4,63.9 L402.7,64.0 L402.0,64.2 L401.4,64.5 L400.8,65.0 L400.2,65.5 L399.7,66.2 L399.2,66.9 L398.6,67.4 L398.1,67.9 L397.4,68.4 L396.8,68.7 L396.2,69.0 L395.5,69.3 L394.9,69.6 L394.3,70.0 L394.0,70.5 L393.7,71.1 L393.4,71.7 L393.1,72.3 L392.8,72.8 L392.4,73.4 L392.1,74.1 L391.8,74.9 L391.5,75.7 L391.3,76.7 L391.3,77.7 L391.4,78.8 L391.5,79.9 L391.5,81.0 L391.6,81.9 L391.7,82.7 L391.6,83.4 L391.6,84.0 L391.5,84.4 L391.4,84.9 L391.2,85.3 L391.1,85.8 L391.1,86.5 L391.1,87.2 L391.1,88.0 Z" fill="none" stroke="#0a0a0a" stroke-width="0.9" stroke-linejoin="round"/>
<path d="M392.6,86.3 L392.6,87.0 L392.6,87.7 L392.6,88.5 L392.6,89.5 L392.7,90.5 L392.8,91.5 L392.9,92.4 L393.1,93.2 L393.3,93.8 L393.6,94.2 L393.8,94.5 L394.0,94.6 L394.1,94.7 L394.2,94.8 L394.2,95.2 L394.4,95.6 L394.6,96.3 L394.9,97.2 L395.2,98.3 L395.5,99.4 L395.9,100.5 L396.4,101.4 L396.9,102.2 L397.4,102.7 L397.9,103.0 L398.3,103.2 L398.6,103.4 L398.9,103.5 L399.3,103.5 L399.7,103.6 L400.0,103.8 L400.5,104.0 L401.0,104.3 L401.6,104.4 L402.3,104.4 L403.0,104.3 L403.8,104.1 L404.6,103.9 L405.3,103.7 L406.0,103.6 L406.6,103.8 L407.2,104.1 L407.8,104.6 L408.3,105.3 L408.9,106.2 L409.5,107.0 L410.1,107.7 L410.9,108.2 L411.6,108.5 L412.3,108.4 L413.1,108.2 L413.8,107.8 L414.4,107.4 L415.0,107.0 L415.5,106.8 L416.1,106.8 L416.6,106.9 L417.1,106.9 L417.7,107.0 L418.4,107.0 L419.0,106.9 L419.7,106.6 L420.3,106.1 L420.9,105.4 L421.5,104.7 L421.9,103.8 L422.4,103.1 L422.7,102.5 L423.1,102.0 L423.4,101.5 L423.6,101.1 L424.0,100.8 L424.4,100.5 L424.9,100.2 L425.4,99.9 L425.9,99.4 L426.4,98.8 L426.8,98.1 L427.1,97.4 L427.4,96.6 L427.6,95.9 L427.6,95.3 L427.6,94.6 L427.7,94.1 L427.8,93.6 L428.0,93.1 L428.3,92.7 L428.6,92.2 L428.9,91.7 L429.1,91.1 L429.3,90.5 L429.4,89.8 L429.5,89.2 L429.5,88.5 L429.5,87.9 L429.6,87.3 L429.5,86.7 L429.5,86.1 L429.4,85.6 L429.4,85.0 L429.3,84.4 L429.2,83.9 L429.1,83.3 L429.0,82.7 L428.8,82.1 L428.6,81.5 L428.5,80.9 L428.4,80.2 L428.4,79.5 L428.4,78.8 L428.6,78.1 L428.7,77.4 L428.9,76.6 L428.7,76.0 L428.5,75.4 L428.3,74.8 L427.9,74.2 L427.4,73.6 L426.9,73.0 L426.3,72.3 L425.8,71.5 L425.4,70.7 L425.0,69.9 L424.7,69.1 L424.4,68.6 L423.9,68.2 L423.5,68.0 L423.0,68.0 L422.6,68.1 L422.0,68.4 L421.4,68.6 L420.8,68.9 L420.2,69.2 L419.6,69.3 L419.1,69.2 L418.6,69.1 L418.1,69.0 L417.6,68.8 L417.2,68.5 L416.7,68.3 L416.1,68.1 L415.4,67.9 L414.6,67.7 L413.8,67.6 L413.0,67.5 L412.2,67.3 L411.4,67.0 L410.8,66.7 L410.2,66.4 L409.7,66.1 L409.2,66.0 L408.8,66.0 L408.3,66.0 L407.7,66.2 L407.1,66.5 L406.4,66.8 L405.6,67.1 L404.8,67.4 L403.9,67.6 L403.1,67.6 L402.4,67.6 L401.8,67.5 L401.2,67.3 L400.8,67.3 L400.5,67.5 L400.2,67.9 L399.9,68.3 L399.6,68.9 L399.1,69.5 L398.6,70.1 L398.0,70.6 L397.3,71.0 L396.5,71.2 L395.8,71.4 L395.3,71.7 L394.9,72.0 L394.5,72.3 L394.2,72.8 L394.0,73.4 L393.8,74.1 L393.6,75.0 L393.4,75.9 L393.3,76.7 L393.2,77.5 L393.3,78.2 L393.3,78.8 L393.2,79.2 L393.2,79.5 L393.1,79.8 L393.1,80.1 L393.0,80.5 L392.9,81.0 L392.9,81.5 L392.9,82.2 L392.9,82.9 L392.9,83.7 L392.9,84.4 L392.8,85.0 L392.7,85.7 Z" fill="none" stroke="#0a0a0a" stroke-width="0.9" stroke-linejoin="round"/>
<path d="M393.7,86.8 L393.8,87.4 L394.0,88.0 L394.1,88.7 L394.3,89.4 L394.4,90.1 L394.6,90.9 L394.8,91.6 L394.9,92.3 L395.0,92.8 L395.1,93.2 L395.2,93.5 L395.2,93.7 L395.2,93.8 L395.2,93.9 L395.2,94.1 L395.3,94.3 L395.5,94.6 L395.7,95.1 L396.0,95.7 L396.4,96.4 L396.8,97.2 L397.2,98.0 L397.8,98.7 L398.3,99.4 L399.0,99.9 L399.6,100.4 L400.1,100.9 L400.7,101.4 L401.3,101.6 L401.9,101.9 L402.3,102.3 L402.7,102.7 L403.0,103.1 L403.3,103.5 L403.6,103.9 L404.0,104.2 L404.4,104.5 L404.9,104.8 L405.5,105.0 L406.2,105.2 L407.0,105.3 L407.7,105.4 L408.5,105.3 L409.2,105.2 L409.8,105.1 L410.3,104.9 L410.7,104.6 L411.2,104.3 L411.5,103.9 L412.0,103.6 L412.4,103.2 L413.0,102.9 L413.6,102.6 L414.2,102.6 L414.9,102.6 L415.6,102.9 L416.2,103.1 L416.8,103.3 L417.3,103.5 L417.7,103.7 L418.1,103.7 L418.4,103.7 L418.8,103.5 L419.2,103.2 L419.7,102.9 L420.2,102.4 L420.8,102.0 L421.4,101.6 L422.0,101.3 L422.4,100.8 L422.8,100.3 L423.2,100.0 L423.5,99.6 L423.8,99.3 L424.1,99.0 L424.4,98.7 L424.7,98.4 L425.1,98.1 L425.4,97.7 L425.8,97.3 L426.2,96.9 L426.3,96.4 L426.4,95.8 L426.5,95.3 L426.5,94.7 L426.4,94.2 L426.4,93.6 L426.3,93.1 L426.3,92.5 L426.3,91.9 L426.3,91.3 L426.4,90.6 L426.5,89.8 L426.7,89.0 L426.9,88.1 L427.1,87.0 L427.2,86.0 L427.3,84.9 L427.4,83.9 L427.5,83.0 L427.5,82.2 L427.6,81.6 L427.7,81.1 L427.7,80.7 L427.8,80.4 L427.8,80.2 L427.9,79.9 L427.8,79.6 L427.8,79.1 L427.7,78.6 L427.6,78.1 L427.5,77.5 L427.4,76.9 L427.1,76.4 L426.8,76.0 L426.6,75.7 L426.3,75.5 L426.0,75.2 L425.7,74.9 L425.4,74.4 L425.1,73.8 L424.8,73.0 L424.5,72.1 L424.3,71.0 L424.0,70.1 L423.6,69.3 L423.3,68.7 L423.0,68.3 L422.7,68.2 L422.4,68.3 L422.0,68.5 L421.5,68.9 L420.9,69.2 L420.2,69.4 L419.4,69.4 L418.6,69.3 L417.7,69.1 L416.9,68.7 L416.1,68.2 L415.5,67.8 L414.9,67.4 L414.4,67.3 L413.9,67.5 L413.4,67.8 L412.9,68.3 L412.4,68.9 L411.8,69.5 L411.1,70.0 L410.3,70.3 L409.6,70.5 L408.8,70.5 L408.1,70.3 L407.5,70.0 L406.9,69.7 L406.4,69.3 L406.0,69.1 L405.5,68.9 L405.1,68.9 L404.6,68.9 L404.1,69.0 L403.5,69.1 L402.9,69.3 L402.2,69.3 L401.5,69.4 L400.9,69.6 L400.3,69.8 L399.7,69.9 L399.2,70.1 L398.8,70.3 L398.4,70.6 L398.0,70.9 L397.6,71.1 L397.2,71.4 L396.8,71.7 L396.6,72.2 L396.4,72.7 L396.2,73.2 L395.9,73.7 L395.7,74.2 L395.5,74.7 L395.3,75.3 L395.1,75.8 L394.9,76.4 L394.8,77.0 L394.7,77.6 L394.7,78.2 L394.6,78.8 L394.6,79.4 L394.5,79.9 L394.4,80.5 L394.4,81.1 L394.3,81.8 L394.2,82.4 L394.2,83.1 L394.1,83.8 L394.0,84.4 L394.0,85.0 L393.9,85.6 L393.8,86.2 Z" fill="none" stroke="#0a0a0a" stroke-width="0.9" stroke-linejoin="round"/>
<path d="M395.8,86.6 L396.0,87.1 L396.1,87.5 L396.1,87.6 L396.2,87.8 L396.2,87.9 L396.2,88.1 L396.2,88.5 L396.3,89.1 L396.4,90.0 L396.5,90.9 L396.6,92.0 L396.8,93.0 L396.9,94.0 L397.1,94.8 L397.2,95.5 L397.5,95.9 L397.7,96.2 L398.0,96.5 L398.2,96.9 L398.4,97.4 L398.6,97.9 L398.7,98.6 L398.9,99.3 L399.1,100.0 L399.4,100.6 L399.6,100.9 L399.9,101.1 L400.2,101.1 L400.7,100.7 L401.3,100.4 L401.9,100.1 L402.5,99.9 L403.1,99.9 L403.8,100.2 L404.4,100.7 L404.9,101.4 L405.4,102.1 L405.7,102.7 L406.0,103.2 L406.2,103.4 L406.3,103.4 L406.5,103.1 L406.8,102.6 L407.1,102.1 L407.6,101.6 L408.2,101.4 L409.0,101.4 L409.8,101.5 L410.7,101.9 L411.6,102.4 L412.4,102.9 L413.2,103.4 L413.9,103.6 L414.5,103.7 L415.0,103.6 L415.4,103.3 L415.8,102.9 L416.2,102.2 L416.7,101.6 L417.2,101.0 L417.7,100.4 L418.2,100.0 L418.8,99.6 L419.3,99.3 L419.9,98.9 L420.4,98.6 L420.9,98.3 L421.4,98.0 L421.8,97.8 L422.1,97.5 L422.4,97.2 L422.7,97.1 L423.0,97.0 L423.3,97.1 L423.6,97.1 L423.8,97.0 L424.0,96.8 L424.1,96.5 L424.1,96.1 L424.2,95.5 L424.3,94.8 L424.2,94.0 L424.2,93.3 L424.2,92.5 L424.3,91.9 L424.5,91.3 L424.7,90.8 L425.0,90.4 L425.2,90.0 L425.5,89.7 L425.7,89.4 L425.9,89.1 L426.1,88.8 L426.3,88.6 L426.5,88.4 L426.6,88.3 L426.8,88.1 L426.8,87.9 L426.9,87.7 L426.9,87.3 L426.8,86.8 L426.7,86.1 L426.5,85.2 L426.3,84.3 L426.0,83.2 L425.8,82.2 L425.6,81.3 L425.4,80.4 L425.2,79.8 L425.1,79.3 L425.0,78.9 L424.9,78.5 L424.8,78.1 L424.6,77.7 L424.3,77.1 L424.1,76.3 L423.9,75.4 L423.7,74.5 L423.6,73.5 L423.5,72.6 L423.4,71.8 L423.3,71.2 L423.2,70.9 L423.0,70.8 L422.7,71.0 L422.2,71.3 L421.7,71.7 L421.2,72.1 L420.6,72.3 L420.1,72.4 L419.6,72.3 L419.3,72.1 L418.9,71.8 L418.7,71.4 L418.5,71.1 L418.3,70.8 L418.1,70.6 L417.7,70.5 L417.2,70.4 L416.6,70.3 L415.9,70.2 L415.1,70.1 L414.2,69.9 L413.3,69.7 L412.5,69.4 L411.7,69.1 L411.1,68.8 L410.5,68.6 L410.0,68.4 L409.6,68.3 L409.1,68.4 L408.7,68.7 L408.2,68.9 L407.6,69.3 L407.0,69.7 L406.4,70.1 L405.9,70.4 L405.4,70.7 L404.9,70.9 L404.5,70.9 L404.2,70.8 L403.9,70.5 L403.6,70.2 L403.2,70.0 L402.7,69.9 L402.2,69.9 L401.6,70.0 L400.9,70.3 L400.2,70.7 L399.5,71.3 L398.9,71.9 L398.4,72.6 L398.0,73.1 L397.7,73.6 L397.6,74.1 L397.6,74.5 L397.6,74.8 L397.5,75.0 L397.4,75.3 L397.2,75.7 L396.9,76.2 L396.5,76.8 L396.1,77.5 L395.8,78.3 L395.6,79.1 L395.4,79.7 L395.3,80.3 L395.3,80.7 L395.3,80.9 L395.4,81.0 L395.5,81.0 L395.5,81.1 L395.6,81.4 L395.7,81.8 L395.8,82.4 L395.8,83.2 L395.8,84.1 L395.9,85.0 L395.9,85.8 Z" fill="none" stroke="#0a0a0a" stroke-width="0.9" stroke-linejoin="round"/>
<path d="M397.6,87.6 L397.5,87.9 L397.4,88.1 L397.3,88.2 L397.2,88.3 L397.1,88.3 L397.1,88.4 L397.2,88.5 L397.3,88.7 L397.5,89.0 L397.7,89.5 L397.9,90.1 L398.0,90.8 L398.1,91.6 L398.2,92.4 L398.1,93.0 L398.2,93.5 L398.2,93.9 L398.3,94.0 L398.4,94.1 L398.6,94.1 L398.9,94.2 L399.2,94.3 L399.6,94.5 L400.1,94.9 L400.6,95.4 L401.2,96.0 L401.7,96.7 L402.3,97.3 L402.9,97.7 L403.4,98.0 L404.0,98.2 L404.4,98.2 L404.8,98.2 L405.2,98.0 L405.6,97.9 L405.9,97.9 L406.3,97.9 L406.6,97.9 L406.9,98.1 L407.2,98.3 L407.5,98.5 L407.7,98.7 L408.0,98.9 L408.3,99.1 L408.6,99.3 L409.0,99.5 L409.3,99.8 L409.7,100.1 L410.1,100.5 L410.6,100.9 L411.1,101.2 L411.6,101.4 L412.2,101.6 L412.7,101.7 L413.4,101.7 L414.0,101.7 L414.6,101.7 L415.2,101.5 L415.7,101.4 L416.2,101.4 L416.7,101.4 L417.1,101.4 L417.5,101.4 L417.7,101.3 L418.0,101.0 L418.2,100.6 L418.4,100.1 L418.6,99.4 L418.8,98.7 L419.0,97.9 L419.2,97.1 L419.5,96.5 L420.0,96.1 L420.5,95.8 L421.1,95.7 L421.7,95.6 L422.3,95.6 L422.9,95.4 L423.3,95.2 L423.6,94.8 L423.8,94.3 L423.8,93.6 L423.8,92.9 L423.6,92.3 L423.5,91.6 L423.5,91.1 L423.5,90.8 L423.7,90.5 L424.0,90.3 L424.3,90.2 L424.7,90.0 L425.2,89.8 L425.6,89.5 L426.0,89.1 L426.3,88.6 L426.5,88.1 L426.6,87.5 L426.5,86.9 L426.4,86.3 L426.3,85.6 L426.1,84.9 L425.9,84.2 L425.7,83.4 L425.5,82.7 L425.4,81.9 L425.2,81.2 L425.0,80.5 L424.8,80.0 L424.5,79.6 L424.2,79.3 L423.9,79.1 L423.7,79.0 L423.4,78.8 L423.1,78.6 L422.8,78.2 L422.7,77.7 L422.6,77.0 L422.5,76.1 L422.5,75.2 L422.5,74.3 L422.5,73.5 L422.4,72.7 L422.2,72.2 L422.0,71.8 L421.5,71.6 L421.0,71.6 L420.4,71.6 L419.8,71.6 L419.3,71.5 L418.8,71.3 L418.4,70.9 L418.1,70.5 L417.8,70.2 L417.4,69.8 L417.1,69.6 L416.7,69.4 L416.3,69.5 L415.8,69.6 L415.2,69.8 L414.6,69.9 L414.0,70.1 L413.4,70.2 L412.8,70.3 L412.2,70.3 L411.7,70.3 L411.3,70.4 L410.8,70.5 L410.4,70.6 L410.0,70.8 L409.6,71.0 L409.2,71.3 L408.7,71.5 L408.2,71.6 L407.7,71.6 L407.1,71.6 L406.6,71.5 L406.2,71.4 L405.7,71.4 L405.4,71.5 L405.0,71.7 L404.7,72.1 L404.4,72.5 L404.1,72.9 L403.8,73.4 L403.4,73.9 L402.9,74.3 L402.4,74.5 L401.8,74.5 L401.2,74.6 L400.7,74.5 L400.1,74.5 L399.6,74.6 L399.2,74.7 L398.9,74.9 L398.8,75.3 L398.9,75.7 L398.9,76.1 L399.0,76.4 L399.0,76.6 L399.0,76.7 L398.9,76.7 L398.7,76.8 L398.5,76.8 L398.2,77.1 L397.9,77.5 L397.6,78.1 L397.3,78.9 L397.1,79.9 L397.0,81.0 L397.0,82.1 L397.0,83.1 L397.1,84.1 L397.3,84.9 L397.5,85.5 L397.7,86.1 L397.9,86.5 L397.9,86.8 L397.9,87.1 L397.8,87.4 Z" fill="none" stroke="#0a0a0a" stroke-width="0.9" stroke-linejoin="round"/>
<path d="M397.8,84.8 L397.8,85.3 L397.9,85.9 L398.0,86.6 L398.2,87.4 L398.4,88.1 L398.6,88.8 L398.8,89.3 L398.9,89.8 L399.1,90.0 L399.2,90.1 L399.3,90.2 L399.4,90.2 L399.5,90.3 L399.6,90.4 L399.8,90.7 L400.0,91.0 L400.4,91.5 L400.8,92.0 L401.1,92.6 L401.4,93.2 L401.7,93.8 L401.9,94.3 L402.0,94.8 L402.1,95.2 L402.2,95.6 L402.3,96.0 L402.4,96.5 L402.5,97.0 L402.9,97.3 L403.2,97.7 L403.6,98.1 L404.1,98.4 L404.5,98.6 L405.0,98.7 L405.5,98.8 L405.9,98.8 L406.3,98.9 L406.7,99.0 L407.1,99.1 L407.5,99.3 L407.9,99.6 L408.3,99.8 L408.8,99.9 L409.3,100.0 L409.7,100.0 L410.1,99.8 L410.4,99.6 L410.7,99.2 L410.8,98.8 L411.0,98.5 L411.1,98.1 L411.3,97.9 L411.5,97.9 L411.9,98.0 L412.3,98.2 L412.8,98.5 L413.4,98.8 L414.0,98.9 L414.6,99.0 L415.2,98.9 L415.7,98.6 L416.2,98.3 L416.6,97.8 L417.0,97.3 L417.3,96.8 L417.7,96.4 L418.1,96.2 L418.6,96.0 L419.1,95.9 L419.5,95.8 L420.0,95.7 L420.5,95.6 L420.9,95.5 L421.2,95.4 L421.5,95.2 L421.6,94.9 L421.6,94.6 L421.6,94.1 L421.5,93.6 L421.5,93.1 L421.5,92.5 L421.5,91.9 L421.5,91.3 L421.6,90.7 L421.7,90.1 L421.9,89.5 L422.0,89.0 L422.1,88.5 L422.1,88.1 L422.0,87.7 L421.9,87.3 L421.9,86.9 L421.8,86.6 L421.9,86.2 L422.0,85.8 L422.3,85.4 L422.7,84.9 L423.1,84.3 L423.5,83.7 L423.9,83.1 L424.2,82.6 L424.3,82.1 L424.4,81.6 L424.2,81.3 L424.0,81.1 L423.6,80.9 L423.2,80.9 L422.8,80.9 L422.5,80.9 L422.3,80.8 L422.1,80.7 L422.1,80.5 L422.2,80.1 L422.2,79.8 L422.2,79.3 L422.3,78.8 L422.3,78.2 L422.2,77.7 L422.1,77.3 L422.0,76.9 L421.8,76.6 L421.5,76.4 L421.2,76.2 L420.8,76.1 L420.4,76.0 L419.8,75.9 L419.3,75.6 L418.8,75.3 L418.4,74.8 L418.0,74.3 L417.6,73.7 L417.3,73.1 L417.0,72.6 L416.8,72.2 L416.5,72.0 L416.3,72.1 L416.1,72.3 L415.8,72.6 L415.4,73.0 L415.0,73.4 L414.5,73.6 L413.9,73.8 L413.3,73.7 L412.7,73.5 L412.1,73.2 L411.6,72.7 L411.1,72.3 L410.8,72.0 L410.5,71.7 L410.2,71.6 L409.9,71.8 L409.6,72.0 L409.3,72.3 L408.8,72.5 L408.3,72.7 L407.7,72.7 L407.1,72.6 L406.4,72.4 L405.8,72.2 L405.2,71.9 L404.7,71.7 L404.4,71.7 L404.1,71.9 L403.8,72.3 L403.7,73.0 L403.5,73.8 L403.2,74.7 L402.9,75.5 L402.6,76.2 L402.1,76.6 L401.6,76.8 L401.0,76.7 L400.5,76.4 L400.0,75.9 L399.7,75.5 L399.4,75.1 L399.3,74.8 L399.2,74.6 L399.1,74.7 L399.1,74.9 L399.1,75.4 L399.0,75.9 L399.0,76.6 L399.0,77.4 L399.0,78.3 L399.0,79.1 L399.0,79.9 L399.1,80.7 L399.1,81.5 L399.1,82.1 L399.1,82.7 L399.1,83.1 L399.1,83.5 L399.0,83.7 L398.8,83.9 L398.6,84.0 L398.4,84.1 L398.2,84.2 L397.9,84.5 Z" fill="none" stroke="#0a0a0a" stroke-width="0.9" stroke-linejoin="round"/>
<path d="M399.5,88.7 L399.6,88.8 L399.7,88.9 L399.9,88.8 L400.1,88.7 L400.2,88.5 L400.3,88.3 L400.4,88.1 L400.4,88.0 L400.4,88.0 L400.3,88.1 L400.2,88.4 L400.2,88.7 L400.3,89.1 L400.4,89.5 L400.6,89.9 L400.9,90.3 L401.2,90.7 L401.6,91.1 L401.9,91.5 L402.1,92.0 L402.2,92.5 L402.3,92.9 L402.4,93.4 L402.6,93.8 L402.7,94.0 L403.0,94.1 L403.4,94.1 L403.8,93.9 L404.4,93.5 L404.9,93.1 L405.4,92.8 L405.8,92.6 L406.1,92.6 L406.3,92.8 L406.3,93.2 L406.3,93.7 L406.3,94.4 L406.4,95.1 L406.5,95.6 L406.8,96.0 L407.2,96.3 L407.8,96.2 L408.4,96.0 L409.1,95.7 L409.8,95.3 L410.4,94.9 L411.0,94.7 L411.5,94.5 L411.9,94.4 L412.2,94.4 L412.5,94.5 L412.8,94.5 L413.0,94.5 L413.3,94.5 L413.5,94.5 L413.7,94.4 L414.0,94.4 L414.2,94.5 L414.4,94.6 L414.5,94.9 L414.7,95.2 L414.9,95.6 L415.2,96.1 L415.5,96.4 L415.8,96.7 L416.2,96.9 L416.7,96.9 L417.1,96.8 L417.5,96.6 L417.7,96.2 L417.9,95.7 L418.0,95.3 L418.1,95.0 L418.2,94.6 L418.3,94.2 L418.4,93.8 L418.5,93.3 L418.6,92.7 L418.8,92.1 L419.1,91.5 L419.3,90.9 L419.4,90.3 L419.6,89.9 L419.7,89.6 L419.8,89.5 L419.9,89.4 L420.1,89.5 L420.3,89.5 L420.5,89.5 L420.7,89.3 L421.0,88.9 L421.2,88.4 L421.4,87.7 L421.6,86.9 L421.7,86.1 L421.7,85.4 L421.7,84.7 L421.6,84.2 L421.5,83.9 L421.5,83.7 L421.4,83.5 L421.5,83.5 L421.5,83.4 L421.7,83.2 L421.8,83.0 L421.9,82.7 L422.0,82.4 L422.0,82.0 L421.9,81.7 L421.8,81.3 L421.6,81.0 L421.5,80.7 L421.3,80.3 L421.1,80.1 L420.9,79.8 L420.7,79.5 L420.6,79.1 L420.4,78.7 L420.3,78.3 L420.1,78.0 L419.8,77.6 L419.5,77.3 L419.2,77.0 L418.8,76.7 L418.4,76.5 L418.0,76.4 L417.6,76.3 L417.3,76.2 L417.0,76.0 L416.8,75.9 L416.5,75.7 L416.3,75.5 L415.9,75.4 L415.6,75.3 L415.2,75.2 L414.8,75.0 L414.4,74.7 L414.0,74.4 L413.6,74.1 L413.3,73.6 L413.0,73.2 L412.7,72.9 L412.4,72.6 L412.0,72.5 L411.7,72.6 L411.3,72.7 L411.0,73.0 L410.6,73.3 L410.3,73.5 L410.0,73.7 L409.7,73.7 L409.5,73.5 L409.2,73.2 L408.9,72.7 L408.5,72.2 L408.1,71.8 L407.5,71.5 L406.9,71.5 L406.3,71.6 L405.6,72.0 L405.1,72.5 L404.6,73.1 L404.2,73.7 L404.0,74.1 L403.9,74.4 L403.9,74.4 L403.9,74.3 L403.9,74.1 L403.9,73.8 L403.8,73.7 L403.5,73.7 L403.2,73.8 L402.8,74.2 L402.3,74.8 L402.1,75.6 L401.9,76.5 L401.8,77.4 L401.8,78.2 L401.9,78.8 L402.1,79.3 L402.3,79.6 L402.4,79.9 L402.5,80.1 L402.4,80.4 L402.4,80.8 L402.2,81.2 L402.0,81.8 L401.7,82.4 L401.4,83.1 L401.2,83.8 L401.0,84.5 L400.8,85.2 L400.6,85.8 L400.4,86.3 L400.2,86.8 L400.1,87.3 L399.9,87.7 L399.7,88.1 L399.6,88.4 Z" fill="none" stroke="#bbbbbb" stroke-width="0.9" stroke-linejoin="round"/>
<path d="M401.3,87.0 L401.3,87.5 L401.3,88.0 L401.5,88.4 L401.7,88.5 L402.0,88.5 L402.3,88.2 L402.7,87.8 L403.1,87.4 L403.4,86.9 L403.6,86.5 L403.7,86.3 L403.8,86.2 L403.8,86.3 L403.8,86.5 L403.7,86.8 L403.8,87.2 L404.0,87.6 L404.3,88.0 L404.6,88.4 L404.9,88.9 L405.2,89.3 L405.6,89.8 L405.8,90.4 L406.0,90.9 L406.1,91.4 L406.2,91.9 L406.2,92.3 L406.2,92.5 L406.2,92.5 L406.2,92.4 L406.2,92.1 L406.3,91.8 L406.4,91.4 L406.6,91.1 L406.8,90.8 L407.1,90.8 L407.4,90.8 L407.7,91.0 L408.0,91.3 L408.4,91.6 L408.8,91.8 L409.2,91.9 L409.6,92.0 L410.0,91.9 L410.2,91.9 L410.4,91.9 L410.5,92.0 L410.5,92.2 L410.5,92.5 L410.4,92.9 L410.4,93.4 L410.5,93.8 L410.7,94.0 L411.0,94.2 L411.4,94.2 L411.9,94.0 L412.5,93.7 L413.0,93.3 L413.6,92.9 L414.0,92.6 L414.4,92.5 L414.6,92.5 L414.8,92.6 L414.9,92.9 L415.0,93.1 L415.1,93.4 L415.2,93.5 L415.3,93.6 L415.3,93.4 L415.4,93.1 L415.5,92.8 L415.5,92.4 L415.6,92.0 L415.7,91.7 L415.8,91.4 L415.9,91.1 L416.0,90.8 L416.2,90.5 L416.4,90.1 L416.7,89.8 L417.0,89.5 L417.2,89.3 L417.3,89.2 L417.5,89.2 L417.6,89.4 L417.6,89.7 L417.7,90.0 L417.8,90.3 L417.9,90.4 L418.0,90.3 L418.2,90.0 L418.5,89.4 L418.8,88.6 L419.1,87.7 L419.3,86.8 L419.5,86.0 L419.6,85.5 L419.6,85.2 L419.6,85.1 L419.5,85.2 L419.3,85.4 L419.2,85.6 L419.1,85.6 L419.0,85.3 L419.0,84.6 L419.1,83.6 L419.1,82.4 L419.1,81.1 L419.1,79.8 L418.9,78.7 L418.8,77.9 L418.6,77.4 L418.5,77.2 L418.3,77.4 L418.3,77.7 L418.3,78.2 L418.4,78.5 L418.6,78.7 L418.8,78.7 L418.9,78.5 L418.9,78.1 L418.8,77.7 L418.6,77.2 L418.2,76.8 L417.7,76.5 L417.1,76.2 L416.5,76.1 L415.9,75.9 L415.5,75.8 L415.2,75.5 L415.1,75.2 L415.0,74.9 L415.0,74.7 L414.9,74.6 L414.9,74.6 L414.8,74.8 L414.6,75.3 L414.4,75.8 L414.2,76.5 L413.9,77.1 L413.6,77.7 L413.4,78.0 L413.1,78.1 L412.9,77.8 L412.6,77.4 L412.2,76.7 L411.7,75.9 L411.2,75.2 L410.6,74.7 L410.0,74.3 L409.3,74.2 L408.8,74.3 L408.4,74.7 L408.1,75.1 L407.9,75.6 L407.8,76.1 L407.9,76.5 L407.9,76.9 L407.9,77.1 L407.7,77.3 L407.5,77.4 L407.1,77.5 L406.6,77.5 L406.1,77.6 L405.6,77.7 L405.1,77.8 L404.6,77.9 L404.3,77.9 L404.2,78.0 L404.1,78.1 L404.0,78.2 L404.0,78.3 L403.9,78.4 L403.7,78.5 L403.5,78.7 L403.2,79.0 L402.9,79.2 L402.6,79.4 L402.3,79.5 L402.1,79.6 L402.0,79.7 L402.0,79.8 L402.1,79.9 L402.3,80.1 L402.6,80.4 L402.8,80.8 L403.0,81.2 L403.2,81.8 L403.2,82.3 L403.3,82.8 L403.2,83.3 L403.1,83.7 L403.0,84.0 L402.8,84.3 L402.5,84.6 L402.3,84.9 L402.0,85.3 L401.8,85.8 L401.5,86.4 Z" fill="none" stroke="#bbbbbb" stroke-width="0.9" stroke-linejoin="round"/>
<ellipse cx="410.6" cy="84" rx="3.2" ry="3.4" fill="#f2f2f2"/>
<path d="M401,84 q3,-4 6,-1 M414,90 q3,2 5,-2 M403,92 q2,3 5,1" fill="none" stroke="#ddd" stroke-width="1"/>
<path d="M430.0,39.0 L440.0,38.8 L447.0,40.0 L455.0,38.5 L462.0,36.0 L475.0,33.8 L482.0,35.5 L485.0,41.0 L484.5,48.0 L481.0,56.0 L477.0,62.0 L470.0,63.0 L455.0,63.5 L448.0,64.0 L445.0,68.0" fill="none" stroke="#000" stroke-width="0.75"/>
<path d="M443.0,52.0 L448.0,47.0 L452.9,47.5 L456.0,45.5 L459.0,47.5 L462.0,43.0 L470.0,39.0 L478.0,39.5 L481.5,43.0 L482.0,50.0 L479.0,57.0 L475.0,60.0" fill="none" stroke="#000" stroke-width="0.75"/>
<rect x="237.2" y="57.1" width="80.6" height="73.7" fill="none" stroke="#7b9a36" stroke-width="2.2"/>
<rect x="382.7" y="67" width="59" height="64" fill="none" stroke="#2b2c86" stroke-width="2.2"/>
<rect x="447.6" y="30" width="55.2" height="40.9" fill="none" stroke="#b81c25" stroke-width="2.2"/>
<text x="238" y="129" font-size="9" text-anchor="start" >93.4</text>
<rect x="401.4" y="97.2" width="19.6" height="9.2" fill="#fff"/>
<text x="411.2" y="105.7" font-size="8.8" text-anchor="middle" >78.8</text>
<text x="467.3" y="55.6" font-size="8.8" text-anchor="start" >4.59</text>
<path d="M232.6,18 L517.8,18 L517.8,137.4 L232.6,137.4 Z M374.7,18 L374.7,137.4" fill="none" stroke="#000" stroke-width="1.5"/>
<line x1="229.6" y1="33.4" x2="232.6" y2="33.4" stroke="#000" stroke-width="1"/>
<text x="217.5" y="36.5" font-size="8.5">10<tspan font-size="6.0" dy="-4.2">5</tspan></text>
<line x1="229.6" y1="58.6" x2="232.6" y2="58.6" stroke="#000" stroke-width="1"/>
<text x="217.5" y="61.7" font-size="8.5">10<tspan font-size="6.0" dy="-4.2">4</tspan></text>
<line x1="229.6" y1="85.5" x2="232.6" y2="85.5" stroke="#000" stroke-width="1"/>
<text x="217.5" y="88.6" font-size="8.5">10<tspan font-size="6.0" dy="-4.2">3</tspan></text>
<line x1="229.6" y1="115.1" x2="232.6" y2="115.1" stroke="#000" stroke-width="1"/>
<text x="217.5" y="118.19999999999999" font-size="8.5">10<tspan font-size="6.0" dy="-4.2">2</tspan></text>
<line x1="229.6" y1="125.3" x2="232.6" y2="125.3" stroke="#000" stroke-width="1"/>
<text x="227.6" y="128.4" font-size="8.5" text-anchor="end" >0</text>
<line x1="240" y1="137.4" x2="240" y2="140.4" stroke="#000" stroke-width="1"/>
<text x="240.3" y="150.3" font-size="8.5" text-anchor="middle" >0</text>
<line x1="261.3" y1="137.4" x2="261.3" y2="140.4" stroke="#000" stroke-width="1"/>
<text x="255.2" y="150.3" font-size="8.5">10<tspan font-size="6.0" dy="-4.2">2</tspan></text>
<line x1="297.7" y1="137.4" x2="297.7" y2="140.4" stroke="#000" stroke-width="1"/>
<text x="291.6" y="150.3" font-size="8.5">10<tspan font-size="6.0" dy="-4.2">3</tspan></text>
<line x1="333.5" y1="137.4" x2="333.5" y2="140.4" stroke="#000" stroke-width="1"/>
<text x="327.4" y="150.3" font-size="8.5">10<tspan font-size="6.0" dy="-4.2">4</tspan></text>
<line x1="367.4" y1="137.4" x2="367.4" y2="140.4" stroke="#000" stroke-width="1"/>
<text x="361.3" y="150.3" font-size="8.5">10<tspan font-size="6.0" dy="-4.2">5</tspan></text>
<line x1="385.5" y1="137.4" x2="385.5" y2="140.4" stroke="#000" stroke-width="1"/>
<text x="385.8" y="150.3" font-size="8.5" text-anchor="middle" >0</text>
<line x1="406.8" y1="137.4" x2="406.8" y2="140.4" stroke="#000" stroke-width="1"/>
<text x="400.7" y="150.3" font-size="8.5">10<tspan font-size="6.0" dy="-4.2">2</tspan></text>
<line x1="443.2" y1="137.4" x2="443.2" y2="140.4" stroke="#000" stroke-width="1"/>
<text x="437.1" y="150.3" font-size="8.5">10<tspan font-size="6.0" dy="-4.2">3</tspan></text>
<line x1="479.0" y1="137.4" x2="479.0" y2="140.4" stroke="#000" stroke-width="1"/>
<text x="472.9" y="150.3" font-size="8.5">10<tspan font-size="6.0" dy="-4.2">4</tspan></text>
<line x1="512.9" y1="137.4" x2="512.9" y2="140.4" stroke="#000" stroke-width="1"/>
<text x="506.8" y="150.3" font-size="8.5">10<tspan font-size="6.0" dy="-4.2">5</tspan></text>
<text x="1.8" y="230.2" font-size="17.5" text-anchor="start" >C</text>
<text x="369.8" y="226.2" font-size="17.5" text-anchor="start" >D</text>
<text x="135" y="224.9" font-size="10.9" text-anchor="middle" >CD40L alone</text>
<text x="285.7" y="224.5" font-size="10.7" text-anchor="middle" >CD40L + IL-21</text>
<text x="439.5" y="225.8" font-size="10.9" text-anchor="middle" >CD40L +/- IL-21</text>
<path d="M64.8,350.6 L64.8,313.0 L65.5,321.0 L66.3,320.4 L69.1,321.9 L72.0,324.7 L74.8,320.4 L77.6,318.3 L79.8,317.6 L83.3,313.3 L86.2,307.6 L89.0,300.5 L91.1,294.8 L92.6,292.0 L95.4,291.7 L97.5,286.0 L100.4,276.0 L102.5,267.5 L104.7,257.6 L107.0,250.0 L110.3,244.8 L113.0,247.0 L115.9,261.2 L119.9,277.1 L123.9,293.0 L126.5,309.0 L129.2,327.5 L131.8,340.8 L134.5,347.4 L139.8,349.3 L150.0,350.2 L150.0,350.6 Z" fill="#dcdcdc" stroke="none"/>
<path d="M64.8,313.0 L64.9,313.3 L65.0,314.4 L65.1,316.4 L65.2,317.3 L65.2,318.8 L65.3,319.8 L65.4,320.6 L65.5,320.8 L66.3,319.8 L67.2,320.6 L68.2,321.3 L69.1,321.9 L69.8,322.7 L70.5,323.1 L71.3,324.6 L72.0,324.3 L72.6,323.8 L73.1,323.6 L73.7,322.6 L74.2,320.9 L74.8,320.0 L75.7,320.2 L76.7,318.2 L77.6,317.7 L78.7,318.0 L79.8,317.7 L80.5,316.2 L81.2,315.1 L81.9,314.5 L82.6,314.6 L83.3,313.2 L83.8,313.2 L84.3,311.9 L84.8,311.3 L85.2,308.7 L85.7,308.0 L86.2,306.8 L86.6,306.5 L87.0,305.3 L87.4,303.8 L87.8,303.6 L88.2,301.8 L88.6,301.2 L89.0,300.1 L89.3,300.1 L89.7,298.5 L90.0,297.2 L90.4,295.9 L90.8,295.6 L91.1,295.0 L91.6,294.2 L92.1,293.6 L92.6,292.5 L94.0,291.4 L95.4,291.1 L95.8,291.2 L96.1,290.3 L96.5,288.9 L96.8,288.5 L97.2,287.0 L97.5,285.6 L97.8,284.4 L98.1,283.2 L98.4,283.2 L98.7,282.7 L99.0,281.7 L99.2,279.9 L99.5,279.3 L99.8,278.7 L100.1,277.5 L100.4,276.2 L100.7,274.8 L100.9,273.9 L101.2,272.3 L101.5,271.2 L101.7,271.0 L102.0,270.5 L102.2,268.6 L102.5,267.3 L102.7,266.3 L102.9,265.4 L103.2,265.0 L103.4,263.5 L103.6,263.3 L103.8,261.0 L104.0,260.3 L104.3,259.6 L104.5,258.4 L104.7,258.2 L105.0,257.1 L105.4,256.2 L105.7,254.5 L106.0,252.5 L106.3,252.3 L106.7,251.2 L107.0,250.0 L107.5,248.8 L108.1,248.6 L108.7,248.1 L109.2,245.9 L109.8,246.0 L110.3,244.6 L111.2,245.6 L112.1,246.9 L113.0,247.8 L113.2,248.3 L113.4,248.5 L113.6,250.8 L113.8,250.5 L114.0,251.9 L114.2,253.6 L114.5,253.8 L114.7,254.7 L114.9,256.9 L115.1,257.9 L115.3,257.8 L115.5,259.0 L115.7,259.8 L115.9,260.6 L116.2,261.8 L116.4,264.0 L116.7,263.5 L116.9,264.7 L117.2,265.7 L117.4,266.4 L117.7,268.2 L117.9,269.6 L118.2,270.7 L118.4,271.4 L118.7,272.7 L118.9,272.3 L119.2,273.7 L119.4,275.9 L119.7,275.4 L119.9,276.7 L120.2,278.1 L120.4,278.7 L120.7,280.2 L120.9,280.3 L121.2,281.6 L121.4,283.8 L121.7,283.5 L121.9,285.7 L122.2,285.5 L122.4,287.9 L122.7,288.3 L122.9,289.3 L123.2,289.4 L123.4,290.3 L123.7,292.4 L123.9,292.4 L124.1,293.5 L124.2,295.5 L124.4,296.6 L124.6,296.2 L124.7,298.8 L124.9,299.1 L125.0,299.8 L125.2,300.3 L125.4,301.8 L125.5,303.8 L125.7,303.6 L125.8,304.4 L126.0,305.4 L126.2,306.4 L126.3,307.7 L126.5,309.7 L126.7,309.3 L126.8,310.5 L127.0,312.8 L127.1,314.0 L127.2,315.0 L127.4,314.7 L127.5,315.9 L127.7,318.0 L127.8,318.2 L128.0,319.6 L128.2,320.0 L128.3,320.5 L128.4,322.1 L128.6,323.8 L128.8,324.9 L128.9,325.6 L129.0,326.4 L129.2,327.6 L129.4,328.4 L129.6,329.6 L129.8,331.1 L130.0,331.1 L130.2,332.8 L130.4,334.4 L130.6,335.3 L130.8,335.1 L131.0,337.5 L131.2,338.3 L131.4,338.2 L131.6,339.4 L131.8,340.4 L132.2,341.2 L132.6,343.2 L133.0,343.5 L133.3,344.9 L133.7,345.3 L134.1,346.2 L134.5,347.5 L135.6,347.9 L136.6,348.3 L137.7,348.6 L138.7,348.9 L139.8,349.3 L140.8,349.4 L141.8,349.5 L142.9,349.6 L143.9,349.6 L144.9,349.8 L145.9,349.8 L146.9,349.9 L148.0,350.0 L149.0,350.1 L150.0,350.2" fill="none" stroke="#858585" stroke-width="2.0" stroke-linejoin="round"/>
<path d="M65.0,341.8 L65.9,341.1 L66.8,340.6 L67.7,340.1 L68.2,339.5 L68.6,339.2 L69.1,338.2 L69.6,337.2 L70.0,336.2 L70.5,334.3 L71.2,334.7 L71.9,332.6 L72.7,331.5 L73.4,331.3 L74.1,330.8 L75.0,329.4 L75.8,329.2 L76.7,327.9 L77.6,328.3 L78.2,326.6 L78.8,325.8 L79.3,325.0 L79.9,324.8 L80.5,324.1 L81.1,322.3 L81.6,321.2 L82.2,320.5 L82.7,318.6 L83.3,318.2 L83.7,317.9 L84.2,316.8 L84.6,314.6 L85.1,314.9 L85.5,313.1 L85.8,313.1 L86.1,311.0 L86.4,309.8 L86.7,309.3 L87.0,308.9 L87.3,307.1 L87.6,306.8 L87.9,305.6 L88.3,304.1 L88.7,303.0 L89.0,302.4 L89.3,301.3 L89.7,300.3 L90.1,299.8 L90.4,299.2 L90.8,297.8 L91.2,296.1 L91.5,295.3 L91.9,294.6 L92.1,294.0 L92.3,292.1 L92.5,291.0 L92.7,290.3 L92.9,289.2 L93.1,287.7 L93.3,287.6 L93.6,287.3 L93.9,285.6 L94.2,285.0 L94.5,284.2 L94.9,283.3 L95.2,282.5 L95.5,280.7 L95.8,280.2 L96.1,278.3 L96.4,278.5 L96.6,276.6 L96.9,275.7 L97.2,275.3 L97.5,273.2 L97.8,272.0 L98.0,272.0 L98.3,270.6 L98.6,268.7 L98.9,267.6 L99.2,267.1 L99.5,265.5 L99.8,265.9 L100.1,263.8 L100.4,262.9 L100.6,262.0 L100.8,261.2 L100.9,260.0 L101.1,259.2 L101.3,258.2 L101.5,256.7 L101.6,255.1 L101.8,255.5 L102.3,254.0 L102.8,251.9 L103.4,251.5 L103.9,250.9 L104.6,250.4 L105.4,247.8 L106.1,246.8 L106.7,246.7 L107.2,245.8 L107.8,245.8 L108.3,244.8 L108.9,243.1 L109.3,242.2 L109.7,241.4 L110.2,240.8 L110.6,238.6 L111.0,237.8 L111.7,238.1 L112.5,239.9 L113.2,239.7 L113.5,242.2 L113.9,242.4 L114.2,243.5 L114.6,243.6 L115.0,244.8 L115.3,246.1 L115.5,247.8 L115.7,248.3 L115.9,248.9 L116.1,251.1 L116.3,251.5 L116.5,252.3 L116.7,252.8 L117.4,253.9 L118.2,255.9 L118.9,255.6 L119.2,257.2 L119.5,258.4 L119.7,258.9 L120.0,260.6 L120.3,261.8 L120.5,262.7 L120.7,263.5 L121.0,263.6 L121.2,264.3 L121.4,265.9 L121.6,266.7 L121.8,267.5 L122.1,269.7 L122.3,269.5 L122.5,271.5 L122.7,272.8 L122.9,272.5 L123.2,274.9 L123.4,275.0 L123.6,275.8 L123.8,276.8 L124.0,277.6 L124.3,279.4 L124.5,280.3 L124.7,282.1 L125.0,283.1 L125.2,282.7 L125.5,284.3 L125.7,285.3 L126.0,285.9 L126.2,287.0 L126.5,288.0 L126.7,289.7 L127.0,290.1 L127.3,290.8 L127.5,292.1 L127.8,293.5 L128.1,294.8 L128.3,295.3 L128.6,297.2 L128.8,297.4 L129.1,299.3 L129.3,300.2 L129.6,300.4 L129.8,302.4 L130.1,302.7 L130.3,304.0 L130.5,305.0 L130.8,306.1 L131.0,306.7 L131.2,307.0 L131.5,309.3 L131.7,310.4 L132.0,310.7 L132.2,311.8 L132.4,312.3 L132.7,314.3 L132.9,315.0 L133.2,315.1 L133.4,317.1 L133.7,318.4 L134.0,318.3 L134.3,320.3 L134.6,320.4 L134.9,320.9 L135.2,322.8 L135.5,323.1 L135.7,324.7 L136.0,325.4 L136.3,325.6 L136.6,327.3 L136.9,328.8 L137.2,329.1 L137.5,330.2 L137.8,331.7 L138.2,331.9 L138.7,332.9 L139.1,333.9 L139.6,335.3 L140.0,335.1 L140.5,335.8 L140.9,337.8 L141.4,338.4 L141.8,338.9 L142.3,340.6 L142.7,341.5 L143.2,341.9 L143.6,343.3 L144.3,343.8 L145.1,344.5 L145.8,344.8 L146.6,345.4 L147.3,346.5 L148.0,347.2 L148.8,347.8 L149.5,348.6 L150.6,348.8 L151.6,349.0 L152.7,349.3 L153.8,349.5 L154.9,349.7 L155.9,349.9 L157.0,350.1 L158.0,350.1 L159.0,350.1 L160.0,350.1 L161.0,350.1 L162.0,350.1 L163.0,350.1 L164.0,350.1 L165.0,350.1 L166.0,350.1 L167.0,350.1 L168.0,350.1 L169.0,350.1 L170.0,350.1 L171.0,350.1 L172.0,350.2 L173.0,350.2 L174.0,350.2 L175.0,350.2 L176.0,350.2 L177.0,350.2 L178.0,350.2 L179.0,350.2 L180.0,350.2 L181.0,350.2 L182.0,350.2 L183.0,350.2 L184.0,350.2 L185.0,350.2 L186.0,350.2 L187.0,350.2 L188.0,350.2 L189.0,350.2 L190.0,350.2 L191.0,350.2 L192.0,350.2 L193.0,350.2 L194.0,350.2 L195.0,350.2 L196.0,350.2 L197.0,350.2 L198.0,350.2 L199.0,350.2 L200.0,350.2 L201.0,350.3 L202.0,350.3 L203.0,350.3 L204.0,350.3 L205.0,350.3 L206.0,350.3 L207.0,350.3 L208.0,350.3 L209.0,350.3 L210.0,350.3 L211.0,350.3 L212.0,350.3 L213.0,350.3 L214.0,350.3 L215.0,350.3" fill="none" stroke="#7cbb3a" stroke-width="2.2" stroke-linejoin="round"/>
<path d="M216.5,350.6 L216.8,348.5 L217.5,342.3 L219.1,337.7 L221.4,331.5 L224.5,325.4 L227.5,317.7 L230.6,308.5 L232.9,299.2 L236.0,290.0 L236.8,285.2 L239.1,276.0 L240.6,272.2 L242.9,266.0 L245.2,259.1 L247.5,252.9 L249.1,248.3 L251.4,243.7 L252.9,239.1 L253.7,237.5 L255.2,242.2 L257.5,246.8 L259.8,251.4 L261.4,257.5 L262.2,266.8 L262.9,276.0 L264.5,286.8 L265.2,290.0 L266.8,305.4 L269.1,320.8 L271.4,331.5 L273.7,340.8 L276.8,346.9 L282.2,349.2 L288.3,350.3 L295.0,350.6 Z" fill="#dcdcdc" stroke="none"/>
<path d="M216.8,348.5 L216.9,347.5 L217.0,346.3 L217.2,345.5 L217.3,344.1 L217.4,343.2 L217.5,342.0 L217.9,341.0 L218.3,340.1 L218.7,338.2 L219.1,336.9 L219.5,336.6 L219.9,335.1 L220.2,334.6 L220.6,333.0 L221.0,331.9 L221.4,331.6 L221.9,331.2 L222.4,330.1 L222.9,328.5 L223.5,327.3 L224.0,325.7 L224.5,325.0 L224.9,324.1 L225.2,324.2 L225.6,321.9 L226.0,322.3 L226.4,320.5 L226.8,319.5 L227.1,318.3 L227.5,318.5 L227.8,316.1 L228.2,315.8 L228.5,314.7 L228.9,313.1 L229.2,312.1 L229.6,312.4 L229.9,311.0 L230.3,309.9 L230.6,309.2 L230.9,306.8 L231.1,306.8 L231.4,305.8 L231.6,303.9 L231.9,303.3 L232.1,303.1 L232.4,301.0 L232.6,300.7 L232.9,298.6 L233.2,298.5 L233.6,296.8 L233.9,296.1 L234.3,294.9 L234.6,294.7 L235.0,293.5 L235.3,292.1 L235.7,291.3 L236.0,289.9 L236.2,289.3 L236.4,287.2 L236.6,286.5 L236.8,285.3 L237.1,284.0 L237.3,282.4 L237.6,281.6 L237.8,281.3 L238.1,279.6 L238.3,279.5 L238.6,278.1 L238.8,277.8 L239.1,276.6 L239.5,275.4 L239.8,273.9 L240.2,272.4 L240.6,272.3 L241.0,271.6 L241.4,270.8 L241.8,268.6 L242.1,267.5 L242.5,267.9 L242.9,266.4 L243.2,265.0 L243.6,264.4 L243.9,262.4 L244.2,262.1 L244.5,261.4 L244.9,260.3 L245.2,258.5 L245.6,257.4 L246.0,257.2 L246.3,256.7 L246.7,254.4 L247.1,253.1 L247.5,252.2 L247.9,252.2 L248.3,250.4 L248.7,249.4 L249.1,249.1 L249.6,247.6 L250.0,246.1 L250.5,245.9 L250.9,243.8 L251.4,243.3 L251.8,242.9 L252.2,240.8 L252.5,239.5 L252.9,239.1 L253.7,237.2 L254.1,239.5 L254.4,239.2 L254.8,241.5 L255.2,242.0 L255.7,243.6 L256.1,243.9 L256.6,245.2 L257.0,245.6 L257.5,246.3 L258.0,247.6 L258.4,249.2 L258.9,249.3 L259.3,250.0 L259.8,251.3 L260.1,251.7 L260.3,253.1 L260.6,254.6 L260.9,255.5 L261.1,256.6 L261.4,257.1 L261.5,257.7 L261.6,258.8 L261.7,260.3 L261.8,261.1 L261.8,262.8 L261.9,263.3 L262.0,265.2 L262.1,265.9 L262.2,267.1 L262.3,268.2 L262.4,268.9 L262.4,269.7 L262.5,270.6 L262.6,271.2 L262.7,273.4 L262.7,274.0 L262.8,274.3 L262.9,276.7 L263.1,277.2 L263.2,278.4 L263.4,279.1 L263.5,279.7 L263.7,282.2 L263.9,281.9 L264.0,283.3 L264.2,285.5 L264.3,285.1 L264.5,286.8 L264.7,287.8 L265.0,288.5 L265.2,290.7 L265.3,290.9 L265.4,291.2 L265.5,293.0 L265.6,293.3 L265.7,295.5 L265.8,296.8 L265.9,297.9 L266.1,297.4 L266.2,299.5 L266.3,299.9 L266.4,301.2 L266.5,302.0 L266.6,303.0 L266.7,303.7 L266.8,305.6 L267.0,305.7 L267.1,308.2 L267.3,307.7 L267.4,310.3 L267.6,310.0 L267.7,310.9 L267.9,313.0 L268.0,313.7 L268.2,315.1 L268.3,315.7 L268.5,316.9 L268.6,317.0 L268.8,319.0 L268.9,319.8 L269.1,321.6 L269.3,321.0 L269.6,322.2 L269.8,324.3 L270.0,325.8 L270.2,326.0 L270.5,327.6 L270.7,328.4 L270.9,329.2 L271.2,330.4 L271.4,331.7 L271.7,331.7 L271.9,333.2 L272.2,335.0 L272.4,335.2 L272.7,336.6 L272.9,337.3 L273.2,338.5 L273.4,340.0 L273.7,341.1 L274.2,342.3 L274.7,342.8 L275.2,343.6 L275.8,344.7 L276.3,345.6 L276.8,346.8 L277.9,347.4 L279.0,347.9 L280.0,348.2 L281.1,348.7 L282.2,349.2 L283.2,349.4 L284.2,349.6 L285.2,349.7 L286.3,349.9 L287.3,350.1 L288.3,350.3" fill="none" stroke="#858585" stroke-width="2.0" stroke-linejoin="round"/>
<path d="M225.2,350.0 L226.1,349.5 L227.0,349.1 L228.0,348.6 L228.9,348.0 L229.8,347.8 L230.7,347.2 L231.7,346.4 L232.6,346.0 L233.6,345.1 L234.5,344.4 L235.4,343.6 L236.3,342.8 L237.3,342.4 L238.2,341.7 L239.1,341.1 L239.9,339.5 L240.6,339.7 L241.4,338.5 L242.2,337.5 L242.9,337.0 L243.7,336.1 L244.2,334.7 L244.6,334.1 L245.1,333.6 L245.6,332.7 L246.1,332.1 L246.6,329.9 L247.0,330.1 L247.5,329.0 L247.9,327.9 L248.3,327.4 L248.7,325.0 L249.1,325.1 L249.4,324.4 L249.8,322.1 L250.2,321.9 L250.6,321.6 L250.9,319.4 L251.3,319.3 L251.6,318.4 L252.0,316.6 L252.3,315.0 L252.7,314.1 L253.0,314.1 L253.4,312.4 L253.7,311.2 L254.0,310.4 L254.4,310.2 L254.7,308.0 L255.1,306.6 L255.4,307.2 L255.8,305.1 L256.1,304.1 L256.5,304.1 L256.8,301.9 L257.1,300.6 L257.4,301.0 L257.7,299.0 L258.0,298.0 L258.2,298.2 L258.5,296.1 L258.8,296.2 L259.1,294.3 L259.4,293.2 L259.6,291.9 L259.9,291.4 L260.1,290.3 L260.4,288.9 L260.6,288.0 L260.9,286.7 L261.1,286.6 L261.4,285.7 L261.6,284.4 L261.9,283.5 L262.1,281.3 L262.4,280.6 L262.7,279.5 L262.9,278.4 L263.2,278.8 L263.4,277.7 L263.7,276.7 L264.5,275.3 L265.2,273.8 L266.0,273.6 L266.8,272.1 L267.6,272.6 L268.3,270.4 L269.1,269.4 L269.2,269.5 L269.4,267.2 L269.6,267.3 L269.7,265.2 L269.9,264.7 L270.0,262.7 L270.2,263.0 L270.3,261.1 L270.5,259.9 L270.6,259.4 L271.0,258.1 L271.4,256.4 L271.8,255.0 L272.2,254.6 L272.3,254.7 L272.4,257.2 L272.4,257.3 L272.5,258.0 L272.6,259.3 L272.7,260.0 L272.7,261.3 L272.8,262.8 L272.9,263.5 L273.2,262.4 L273.4,261.3 L273.7,260.6 L273.9,260.1 L274.2,258.5 L274.4,258.0 L274.7,256.5 L274.9,254.9 L275.2,253.9 L275.4,254.1 L275.6,252.4 L275.7,251.2 L275.9,250.4 L276.1,249.9 L276.3,248.1 L276.4,247.0 L276.6,246.0 L276.8,244.4 L277.2,244.1 L277.6,242.9 L277.9,241.7 L278.3,240.5 L278.8,241.6 L279.3,243.0 L279.8,243.2 L279.9,245.6 L280.0,245.2 L280.2,247.5 L280.3,247.4 L280.4,249.5 L280.5,249.7 L280.7,250.4 L280.8,252.3 L280.9,253.8 L281.0,254.9 L281.2,256.0 L281.3,257.3 L281.4,256.7 L281.6,256.2 L281.8,254.6 L282.0,254.6 L282.3,253.0 L282.5,252.4 L282.7,251.4 L282.9,250.6 L283.1,251.1 L283.3,252.5 L283.4,253.0 L283.6,253.2 L283.8,255.6 L284.0,255.3 L284.1,256.3 L284.3,258.6 L284.5,258.7 L284.6,258.3 L284.7,256.2 L284.8,255.4 L285.0,255.2 L285.1,253.0 L285.2,252.7 L285.3,252.4 L285.4,250.1 L285.5,249.8 L285.7,248.8 L285.8,247.5 L285.9,246.7 L286.0,245.5 L286.1,245.5 L286.3,246.8 L286.4,248.5 L286.6,250.3 L286.8,250.1 L286.9,251.8 L287.1,252.1 L287.2,254.4 L287.4,254.8 L287.5,256.0 L287.6,255.3 L287.8,253.3 L287.9,253.3 L288.0,252.4 L288.2,251.5 L288.3,249.5 L288.4,248.4 L288.6,247.2 L288.7,247.5 L288.8,245.6 L289.0,244.5 L289.1,243.7 L289.3,245.1 L289.5,245.5 L289.6,246.6 L289.8,248.4 L290.0,249.5 L290.2,249.7 L290.3,250.4 L290.5,252.9 L290.7,253.6 L290.9,254.5 L291.0,255.2 L291.2,257.2 L291.4,257.4 L291.8,255.9 L292.1,254.5 L292.3,254.0 L292.6,253.4 L292.8,252.0 L293.0,252.0 L293.2,250.5 L293.5,249.2 L293.7,248.6 L294.9,249.9 L295.0,250.9 L295.1,251.7 L295.2,252.8 L295.3,253.8 L295.4,255.4 L295.4,255.3 L295.5,257.4 L295.6,257.6 L295.7,259.5 L295.8,259.2 L295.9,260.9 L296.0,261.9 L296.8,261.7 L297.6,260.2 L297.8,261.3 L298.0,262.1 L298.1,263.9 L298.3,265.0 L298.5,265.0 L298.6,266.3 L298.8,267.4 L299.0,269.7 L299.2,269.9 L299.4,271.1 L299.5,271.7 L299.7,273.3 L299.9,274.6 L300.0,275.4 L300.2,275.3 L300.4,277.1 L300.6,278.2 L300.9,278.4 L301.1,280.7 L301.4,280.9 L301.6,281.8 L301.9,283.4 L302.1,284.3 L302.4,285.2 L302.6,286.8 L302.9,287.2 L303.1,287.9 L303.4,288.5 L303.6,290.3 L303.9,291.0 L304.1,292.3 L304.4,292.9 L304.6,293.4 L304.9,294.4 L305.1,295.6 L305.4,296.5 L305.6,298.8 L305.9,299.3 L306.2,299.7 L306.5,301.5 L306.8,302.4 L307.1,302.4 L307.4,304.6 L307.7,304.7 L307.9,306.9 L308.2,306.5 L308.5,307.7 L308.8,308.6 L309.1,310.7 L309.4,311.6 L309.7,312.1 L310.0,312.4 L310.5,313.8 L310.9,315.2 L311.4,315.0 L311.8,317.4 L312.3,318.1 L312.7,319.2 L313.2,319.7 L313.6,320.5 L314.1,322.0 L314.6,321.7 L315.0,322.7 L315.5,323.3 L316.0,324.3 L316.4,326.3 L316.9,326.0 L317.2,328.2 L317.6,328.6 L317.9,330.5 L318.2,331.3 L318.6,332.2 L318.9,333.5 L319.3,333.2 L319.6,334.6 L320.0,335.7 L320.4,336.8 L320.8,338.2 L321.2,339.4 L321.6,340.1 L322.1,341.3 L322.5,341.9 L322.9,342.5 L323.3,343.6 L323.7,344.8 L324.6,345.4 L325.5,345.7 L326.4,346.3 L327.4,347.0 L328.3,347.5 L329.2,348.3 L330.3,348.4 L331.4,348.7 L332.5,349.0 L333.6,349.2 L334.7,349.5 L335.7,349.5 L336.7,349.6 L337.7,349.6 L338.7,349.5 L339.7,349.6 L340.8,349.6 L341.8,349.5 L342.8,349.6 L343.8,349.6 L344.8,349.6 L345.8,349.6 L346.8,349.6 L347.8,349.6 L348.8,349.6 L349.8,349.6 L350.9,349.7 L351.9,349.7 L352.9,349.7 L353.9,349.7 L354.9,349.7 L355.9,349.7 L356.9,349.7 L357.9,349.7 L358.9,349.7 L359.9,349.7 L361.0,349.8 L362.0,349.8 L363.0,349.8 L364.0,349.8 L365.0,349.8 L366.0,349.8" fill="none" stroke="#b9141e" stroke-width="2.1" stroke-linejoin="round"/>
<path d="M216.3,349.2 L217.4,348.9 L218.4,348.4 L219.5,348.0 L220.6,347.8 L221.5,347.4 L222.4,346.8 L223.4,346.2 L224.3,346.0 L225.2,345.4 L226.0,344.7 L226.7,344.2 L227.5,343.4 L228.3,343.0 L229.0,342.4 L229.8,342.1 L230.6,340.4 L231.4,340.3 L232.2,340.3 L232.9,339.2 L233.7,338.5 L234.5,338.3 L235.3,336.1 L236.0,336.7 L236.8,335.6 L237.6,334.8 L238.3,333.5 L239.1,333.3 L239.6,331.6 L240.2,331.4 L240.7,330.0 L241.3,330.3 L241.8,329.2 L242.4,327.7 L242.9,327.3 L243.6,325.9 L244.2,325.4 L244.9,324.0 L245.5,324.4 L246.2,323.5 L246.8,322.7 L247.3,320.6 L247.9,320.9 L248.4,318.5 L249.0,318.5 L249.5,317.4 L250.1,315.6 L250.6,315.3 L251.1,315.2 L251.6,313.8 L252.1,312.4 L252.7,312.3 L253.2,310.7 L253.7,310.7 L254.2,308.8 L254.7,307.2 L255.2,307.7 L255.8,305.1 L256.3,304.4 L256.8,304.3 L257.3,302.2 L257.8,302.0 L258.2,301.6 L258.7,300.2 L259.2,298.8 L259.7,298.5 L260.1,297.7 L260.6,296.3 L261.2,295.5 L261.8,294.0 L262.5,293.2 L263.1,293.3 L263.7,292.3 L263.9,289.6 L264.2,288.9 L264.4,287.9 L264.7,287.8 L264.9,285.7 L265.2,284.6 L265.5,284.6 L265.9,282.6 L266.2,282.9 L266.6,281.0 L266.9,280.8 L267.3,279.6 L267.6,277.5 L268.0,277.5 L268.3,275.9 L268.7,274.6 L269.1,273.3 L269.5,273.5 L269.9,272.3 L270.2,270.9 L270.6,270.8 L271.0,268.7 L271.4,268.2 L271.9,266.6 L272.4,266.0 L272.9,265.9 L273.5,264.2 L274.0,262.6 L274.5,261.8 L274.9,261.5 L275.2,259.9 L275.6,260.0 L276.0,257.6 L276.4,258.0 L276.8,256.6 L277.1,256.0 L277.5,254.3 L278.0,252.7 L278.5,251.9 L279.1,251.6 L279.6,249.6 L280.1,248.7 L280.6,248.8 L281.1,247.9 L281.6,246.9 L282.1,245.8 L282.7,244.3 L283.2,243.9 L283.7,242.5 L284.7,241.5 L285.8,240.5 L286.8,239.0 L287.8,238.9 L288.8,238.9 L289.8,239.0 L290.8,239.0 L291.9,240.9 L292.9,240.7 L293.9,242.0 L295.0,243.2 L295.5,242.9 L296.0,245.0 L296.6,246.0 L297.1,245.7 L297.6,246.4 L298.0,248.5 L298.3,249.7 L298.7,250.5 L299.1,250.8 L299.5,252.2 L299.8,252.3 L300.2,253.5 L300.6,254.9 L301.0,256.4 L301.3,256.3 L301.7,258.7 L302.0,258.2 L302.3,260.8 L302.6,260.5 L302.9,262.5 L303.2,263.4 L303.5,264.6 L303.8,264.8 L304.1,266.2 L304.4,266.5 L304.7,268.4 L305.0,268.1 L305.3,270.4 L305.6,270.9 L305.9,271.0 L306.1,273.4 L306.4,273.3 L306.6,273.9 L306.9,275.2 L307.1,275.7 L307.3,277.2 L307.6,278.9 L307.8,280.3 L308.1,280.7 L308.3,282.0 L308.6,282.9 L308.8,283.7 L309.0,284.1 L309.3,284.9 L309.5,285.7 L309.8,287.3 L310.0,287.7 L310.2,289.6 L310.5,289.8 L310.7,291.2 L311.0,292.2 L311.2,293.3 L311.4,293.4 L311.7,294.6 L311.9,296.3 L312.2,296.4 L312.4,298.2 L312.7,299.7 L312.9,299.7 L313.1,301.6 L313.4,302.0 L313.6,303.5 L313.9,303.8 L314.1,305.1 L314.3,306.0 L314.6,306.1 L314.8,307.6 L315.1,308.7 L315.3,309.5 L315.5,310.8 L315.8,312.2 L316.0,313.0 L316.3,314.0 L316.5,313.8 L316.8,315.7 L317.0,316.6 L317.2,318.1 L317.5,317.4 L317.7,318.7 L318.0,321.0 L318.2,321.0 L318.5,322.5 L318.8,323.3 L319.1,324.0 L319.4,325.0 L319.7,326.2 L320.0,327.9 L320.3,328.2 L320.6,329.6 L320.9,329.7 L321.2,331.4 L321.5,332.2 L321.8,333.4 L322.1,334.7 L322.4,334.3 L322.8,336.8 L323.2,337.1 L323.6,337.5 L324.0,338.8 L324.4,339.2 L324.9,340.4 L325.3,342.1 L325.7,342.9 L326.1,344.0 L326.5,344.3 L327.4,345.0 L328.3,345.9 L329.2,346.6 L330.2,347.4 L331.1,348.0 L332.0,348.7 L333.1,348.9 L334.2,349.0 L335.3,349.2 L336.4,349.3 L337.5,349.5 L338.5,349.5 L339.5,349.5 L340.6,349.5 L341.6,349.5 L342.6,349.6 L343.6,349.6 L344.6,349.6 L345.6,349.6 L346.7,349.6 L347.7,349.6 L348.7,349.6 L349.7,349.6 L350.7,349.6 L351.8,349.6 L352.8,349.7 L353.8,349.7 L354.8,349.7 L355.8,349.7 L356.8,349.7 L357.9,349.7 L358.9,349.7 L359.9,349.7 L360.9,349.8 L361.9,349.8 L362.9,349.8 L364.0,349.8 L365.0,349.8 L366.0,349.8" fill="none" stroke="#322f82" stroke-width="2.1" stroke-linejoin="round"/>
<path d="M368.3,350.6 L368.5,309.2 L373.2,304.6 L377.8,301.5 L382.4,297.7 L387.0,292.3 L390.1,285.2 L393.9,277.5 L397.0,268.3 L400.1,262.2 L403.2,252.9 L406.2,245.2 L408.2,242.2 L411.6,242.5 L413.2,245.2 L415.5,252.9 L417.8,262.2 L420.1,276.0 L421.6,288.3 L423.2,305.4 L424.7,320.8 L427.0,336.2 L429.3,345.4 L432.4,350.0 L440.0,350.3 L440.0,350.6 Z" fill="#dcdcdc" stroke="none"/>
<path d="M368.5,309.2 L369.3,308.6 L370.1,307.7 L370.9,307.3 L371.6,305.6 L372.4,305.7 L373.2,305.4 L374.1,303.2 L375.0,302.9 L376.0,303.6 L376.9,301.4 L377.8,302.0 L378.7,300.9 L379.6,299.2 L380.6,299.4 L381.5,297.6 L382.4,298.3 L383.1,296.6 L383.7,296.9 L384.4,296.1 L385.0,294.0 L385.7,293.7 L386.3,292.5 L387.0,292.7 L387.4,290.6 L387.9,289.5 L388.3,288.6 L388.8,288.9 L389.2,286.8 L389.7,285.9 L390.1,285.1 L390.6,284.3 L391.1,283.1 L391.5,283.1 L392.0,281.1 L392.5,280.3 L392.9,280.0 L393.4,278.0 L393.9,276.9 L394.2,277.0 L394.6,275.1 L394.9,275.1 L395.3,274.0 L395.6,272.2 L396.0,271.1 L396.3,269.7 L396.7,270.0 L397.0,268.2 L397.5,267.0 L398.0,265.7 L398.6,264.8 L399.1,264.9 L399.6,262.6 L400.1,262.3 L400.4,261.4 L400.8,260.2 L401.1,259.1 L401.5,257.9 L401.8,256.5 L402.2,256.5 L402.5,255.6 L402.9,254.0 L403.2,252.5 L403.6,252.6 L403.9,250.5 L404.3,249.5 L404.7,249.3 L405.1,248.7 L405.4,247.2 L405.8,245.5 L406.2,246.0 L406.9,243.6 L407.5,242.9 L408.2,243.0 L409.3,242.8 L410.5,242.8 L411.6,241.8 L412.1,244.0 L412.7,244.1 L413.2,244.4 L413.5,246.7 L413.8,247.9 L414.1,247.3 L414.4,249.0 L414.6,250.7 L414.9,250.7 L415.2,251.6 L415.5,253.4 L415.8,253.8 L416.0,255.8 L416.3,256.6 L416.5,257.6 L416.8,258.4 L417.0,258.6 L417.3,260.5 L417.5,261.3 L417.8,262.2 L418.0,263.4 L418.2,264.0 L418.3,264.9 L418.5,267.1 L418.7,267.3 L418.9,267.9 L419.0,270.4 L419.2,270.7 L419.4,272.1 L419.6,272.5 L419.7,273.3 L419.9,274.7 L420.1,276.6 L420.2,276.6 L420.4,278.8 L420.5,278.7 L420.6,280.8 L420.7,280.6 L420.9,282.1 L421.0,282.5 L421.1,283.6 L421.2,285.3 L421.4,286.0 L421.5,287.3 L421.6,287.8 L421.7,289.0 L421.8,290.0 L421.9,292.0 L422.0,291.6 L422.1,293.2 L422.2,294.9 L422.3,295.5 L422.4,295.9 L422.4,298.2 L422.5,297.7 L422.6,298.7 L422.7,299.5 L422.8,301.3 L422.9,303.0 L423.0,303.0 L423.1,304.0 L423.2,305.9 L423.3,305.7 L423.4,306.6 L423.5,308.8 L423.6,308.8 L423.7,310.6 L423.8,311.0 L423.9,312.8 L424.0,314.2 L424.1,314.6 L424.2,315.3 L424.3,316.9 L424.4,318.1 L424.5,318.0 L424.6,319.3 L424.7,320.6 L424.9,321.8 L425.0,322.5 L425.2,324.1 L425.3,324.5 L425.5,326.6 L425.6,326.7 L425.8,327.5 L425.9,328.3 L426.1,329.4 L426.2,330.6 L426.4,332.7 L426.5,333.0 L426.7,334.0 L426.8,336.0 L427.0,337.0 L427.3,337.7 L427.5,337.8 L427.8,339.0 L428.0,340.3 L428.3,341.0 L428.5,342.2 L428.8,343.1 L429.0,344.2 L429.3,345.6 L429.9,346.4 L430.5,347.2 L431.2,348.2 L431.8,349.1 L432.4,350.0 L433.5,350.0 L434.6,350.1 L435.7,350.1 L436.7,350.2 L437.8,350.2 L438.9,350.3 L440.0,350.3" fill="none" stroke="#858585" stroke-width="1.9" stroke-linejoin="round"/>
<path d="M368.6,331.0 L368.7,332.3 L368.8,332.2 L368.9,334.7 L369.0,335.0 L369.0,335.9 L369.1,337.9 L369.2,338.6 L369.3,339.0 L370.6,338.8 L371.9,339.6 L373.2,339.9 L374.2,340.0 L375.2,339.7 L376.2,340.5 L377.3,340.2 L378.3,341.0 L379.3,340.8 L380.3,340.4 L381.4,341.0 L382.4,340.3 L383.4,339.7 L384.5,339.8 L385.5,339.4 L386.5,339.7 L387.5,340.2 L388.6,340.1 L389.6,339.5 L390.6,338.5 L391.6,338.5 L392.6,338.1 L393.7,338.0 L394.7,338.1 L395.7,336.8 L396.8,337.2 L397.8,336.8 L398.7,336.6 L399.5,336.4 L400.4,335.1 L401.3,334.9 L402.2,333.8 L403.0,333.6 L403.9,333.3 L404.7,331.6 L405.4,331.6 L406.2,330.8 L407.0,329.5 L407.7,328.8 L408.5,329.1 L409.1,327.4 L409.6,326.2 L410.2,325.5 L410.7,325.0 L411.3,323.9 L411.8,322.9 L412.4,322.0 L412.9,320.8 L413.4,320.3 L413.9,319.4 L414.5,317.5 L415.0,317.4 L415.5,315.9 L415.8,316.1 L416.1,315.0 L416.4,312.7 L416.6,312.7 L416.9,311.1 L417.2,309.8 L417.5,310.1 L417.8,309.2 L418.1,308.0 L418.3,306.7 L418.6,306.2 L418.8,304.5 L419.1,303.6 L419.3,302.6 L419.6,301.9 L419.8,300.8 L420.1,298.9 L420.4,297.7 L420.6,297.2 L420.9,296.3 L421.1,294.9 L421.4,294.7 L421.6,293.7 L422.0,292.4 L422.4,291.1 L422.8,290.3 L423.1,288.4 L423.5,288.4 L423.9,286.2 L424.1,286.5 L424.3,285.0 L424.5,283.5 L424.7,282.3 L424.9,282.1 L425.2,280.8 L425.4,280.3 L425.6,278.3 L425.8,278.6 L426.0,276.9 L426.2,275.9 L426.5,275.4 L426.7,274.1 L427.0,272.8 L427.2,271.6 L427.5,270.8 L427.7,269.1 L428.0,268.4 L428.2,268.4 L428.5,266.2 L428.7,265.1 L428.9,265.3 L429.0,263.5 L429.2,262.7 L429.4,261.8 L429.6,261.0 L429.7,259.3 L429.9,259.0 L430.1,256.7 L430.3,257.1 L430.4,255.1 L430.6,254.6 L430.8,253.1 L430.9,252.8 L431.1,251.2 L431.3,250.5 L431.4,249.0 L431.6,248.9 L432.1,247.9 L432.5,246.0 L433.0,246.0 L433.4,245.4 L433.9,243.3 L434.7,242.4 L435.5,242.9 L436.6,243.7 L437.8,243.1 L438.3,245.1 L438.7,246.3 L439.2,246.1 L439.6,247.9 L440.1,248.0 L440.4,249.8 L440.7,250.2 L441.0,251.1 L441.2,251.5 L441.5,253.4 L441.8,254.4 L442.1,254.7 L442.4,255.2 L442.6,256.3 L442.8,257.6 L443.0,259.8 L443.1,260.4 L443.3,261.7 L443.5,262.4 L443.7,262.4 L443.9,263.8 L444.0,265.8 L444.1,266.7 L444.2,268.0 L444.4,268.7 L444.5,269.6 L444.6,270.7 L444.7,272.0 L444.8,272.2 L444.9,272.6 L445.1,274.1 L445.2,274.6 L445.3,276.1 L445.4,277.7 L445.5,278.1 L445.6,279.1 L445.8,279.9 L445.9,281.4 L446.0,282.7 L446.1,283.8 L446.3,285.4 L446.4,285.0 L446.5,286.3 L446.6,287.0 L446.8,289.5 L446.9,290.0 L447.0,291.1 L447.2,292.4 L447.3,292.1 L447.4,294.7 L447.6,294.7 L447.7,296.3 L447.8,296.9 L448.0,298.6 L448.1,298.8 L448.2,299.8 L448.4,300.8 L448.5,302.7 L448.6,303.3 L448.8,303.9 L448.9,305.3 L449.1,306.7 L449.2,307.5 L449.4,308.9 L449.6,310.4 L449.7,311.2 L449.9,312.5 L450.0,312.8 L450.1,314.8 L450.3,316.0 L450.4,316.4 L450.6,316.6 L450.8,317.7 L450.9,320.0 L451.1,321.2 L451.2,322.0 L451.4,322.7 L451.5,323.9 L451.7,324.1 L451.9,325.9 L452.1,327.6 L452.3,327.2 L452.5,328.9 L452.8,330.3 L453.0,330.9 L453.2,331.4 L453.4,332.2 L453.6,334.0 L453.8,335.3 L454.2,336.2 L454.6,336.4 L455.0,337.9 L455.4,339.0 L455.7,339.2 L456.1,340.7 L456.5,341.2 L456.9,342.0 L457.7,342.8 L458.4,344.4 L459.2,345.4 L460.0,346.0 L460.9,346.4 L461.8,346.9 L462.8,347.3 L463.7,347.9 L464.6,348.1 L465.6,348.5 L466.7,348.7 L467.7,348.9 L468.7,349.2 L469.8,349.4 L470.8,349.7 L471.8,349.7 L472.8,349.7 L473.8,349.7 L474.8,349.8 L475.8,349.8 L476.8,349.8 L477.8,349.8 L478.8,349.8 L479.8,349.8 L480.8,349.8 L481.8,349.8 L482.9,349.8 L483.9,349.8 L484.9,349.9 L485.9,349.9 L486.9,349.9 L487.9,349.9 L488.9,349.9 L489.9,349.9 L490.9,349.9 L491.9,349.9 L492.9,349.9 L493.9,350.0 L494.9,350.0 L495.9,350.0 L496.9,350.0 L497.9,350.0 L498.9,350.0 L499.9,350.0 L500.9,350.0 L501.9,350.0 L502.9,350.0 L503.9,350.1 L504.9,350.1 L506.0,350.1 L507.0,350.1 L508.0,350.1 L509.0,350.1 L510.0,350.1 L511.0,350.1 L512.0,350.1 L513.0,350.2 L514.0,350.2 L515.0,350.2 L516.0,350.2 L517.0,350.2" fill="none" stroke="#7cbb3a" stroke-width="2.0" stroke-linejoin="round"/>
<path d="M368.6,333.8 L369.8,333.6 L370.9,334.8 L372.1,335.2 L373.2,334.7 L374.4,333.8 L375.5,334.1 L376.6,334.9 L377.8,334.5 L378.9,335.5 L380.1,335.2 L381.2,335.5 L382.4,334.8 L383.4,335.2 L384.5,335.2 L385.5,335.3 L386.3,334.4 L387.0,332.4 L387.8,331.8 L388.5,331.7 L389.3,329.3 L390.3,329.0 L391.4,328.9 L392.4,329.6 L393.2,328.2 L393.9,328.1 L394.7,327.5 L395.5,326.7 L396.1,324.5 L396.7,324.6 L397.3,323.9 L397.9,322.8 L398.5,322.1 L399.0,321.2 L399.5,319.9 L400.1,319.5 L400.6,318.0 L401.1,316.4 L401.6,315.8 L402.1,316.0 L402.5,314.0 L403.0,313.3 L403.4,313.1 L403.9,311.8 L404.4,311.1 L404.8,309.6 L405.3,308.8 L405.7,307.1 L406.2,306.4 L406.6,305.2 L407.0,304.7 L407.4,303.5 L407.8,301.6 L408.2,301.4 L408.6,299.3 L408.9,298.7 L409.3,296.9 L409.6,296.6 L409.9,294.9 L410.2,295.2 L410.5,293.1 L410.8,292.9 L411.1,291.2 L411.5,290.0 L411.8,289.8 L412.2,287.9 L412.5,287.3 L412.9,286.5 L413.2,286.0 L413.4,284.5 L413.7,282.3 L413.9,281.9 L414.1,281.7 L414.4,280.5 L414.6,278.6 L414.8,277.1 L415.0,276.2 L415.3,276.0 L415.5,274.0 L415.7,274.2 L415.9,272.1 L416.1,271.9 L416.3,270.9 L416.5,269.2 L416.8,268.6 L417.0,267.8 L417.2,266.3 L417.4,265.7 L417.6,264.9 L417.8,264.5 L418.1,262.4 L418.4,261.2 L418.7,260.8 L419.0,260.0 L419.2,258.9 L419.5,258.6 L419.8,256.5 L420.1,256.0 L420.5,254.8 L420.9,253.2 L421.2,252.5 L421.6,251.3 L422.6,251.2 L423.7,251.9 L424.7,252.2 L424.9,251.2 L425.0,248.9 L425.2,248.1 L425.4,248.1 L425.5,245.6 L425.7,244.6 L425.9,243.5 L426.0,244.0 L426.2,242.2 L426.6,243.2 L427.0,243.8 L427.4,246.3 L427.8,247.6 L428.3,248.1 L428.8,249.5 L429.3,249.9 L429.6,250.4 L429.9,251.2 L430.2,252.4 L430.5,253.1 L430.7,254.4 L431.0,254.8 L431.3,255.8 L431.6,258.2 L431.8,259.1 L432.0,260.1 L432.1,260.3 L432.3,261.5 L432.5,262.7 L432.7,264.2 L432.8,264.4 L433.0,265.8 L433.2,266.9 L433.5,268.3 L433.8,268.5 L434.1,268.8 L434.4,270.5 L434.6,272.3 L434.9,272.0 L435.2,273.8 L435.5,273.9 L435.9,275.1 L436.3,276.7 L436.6,276.9 L437.0,278.5 L437.4,279.7 L437.8,280.4 L438.2,282.1 L438.7,283.3 L439.1,283.4 L439.5,285.3 L439.9,286.3 L440.4,287.1 L440.8,288.2 L440.9,289.1 L441.1,290.4 L441.2,291.4 L441.3,291.7 L441.5,293.3 L441.6,294.5 L441.8,295.1 L441.9,296.8 L442.0,296.8 L442.2,298.3 L442.3,299.3 L442.7,300.4 L443.1,300.7 L443.5,302.6 L443.8,302.7 L444.2,304.4 L444.6,305.3 L445.4,306.8 L446.1,308.1 L446.9,309.3 L447.9,308.5 L449.0,310.2 L450.0,310.0 L450.5,310.9 L450.9,311.1 L451.4,313.4 L451.8,313.2 L452.3,314.2 L452.9,315.2 L453.5,316.0 L454.2,317.0 L454.8,317.9 L455.4,319.3 L456.2,319.7 L456.9,321.2 L457.7,322.3 L458.5,323.0 L459.1,323.0 L459.7,324.5 L460.3,325.5 L460.9,326.4 L461.5,326.7 L462.3,327.4 L463.1,329.3 L463.8,330.1 L464.6,330.5 L465.4,331.8 L466.2,331.6 L466.9,333.6 L467.7,334.5 L468.5,335.4 L469.3,334.7 L470.0,336.5 L470.8,337.4 L471.5,337.1 L472.3,338.7 L473.2,338.8 L474.1,339.6 L475.1,340.2 L476.0,341.3 L476.9,342.7 L477.8,343.0 L478.7,343.8 L479.7,344.5 L480.6,344.5 L481.5,345.6 L482.4,346.2 L483.4,346.6 L484.3,347.0 L485.3,347.5 L486.2,348.2 L487.4,348.6 L488.5,349.1 L489.6,349.6 L490.8,350.0 L491.8,350.0 L492.8,350.0 L493.8,350.0 L494.8,350.0 L495.8,350.0 L496.8,350.0 L497.9,350.1 L498.9,350.1 L499.9,350.1 L500.9,350.1 L501.9,350.1 L502.9,350.1 L503.9,350.1 L504.9,350.1 L505.9,350.1 L506.9,350.1 L507.9,350.1 L508.9,350.1 L509.9,350.1 L511.0,350.2 L512.0,350.2 L513.0,350.2 L514.0,350.2 L515.0,350.2 L516.0,350.2 L517.0,350.2" fill="none" stroke="#322f82" stroke-width="2.0" stroke-linejoin="round"/>
<path d="M368.6,343.0 L368.8,344.2 L369.1,345.0 L369.3,346.0 L370.6,346.4 L371.9,346.8 L373.2,347.0 L374.4,347.0 L375.5,347.2 L376.6,347.2 L377.8,347.2 L378.9,347.2 L380.1,347.1 L381.2,346.9 L382.4,346.8 L383.4,347.3 L384.5,347.8 L385.5,348.3 L386.4,347.5 L387.4,347.0 L388.4,346.1 L389.3,345.8 L390.3,346.0 L391.2,346.6 L392.2,347.0 L393.2,347.0 L394.4,347.2 L395.5,346.5 L396.6,346.7 L397.8,346.5 L398.7,345.4 L399.6,344.8 L400.6,344.1 L401.5,344.1 L402.4,343.4 L402.9,342.7 L403.5,341.7 L404.0,340.3 L404.6,340.0 L405.1,338.4 L405.7,337.5 L406.2,336.8 L407.2,337.9 L408.3,337.9 L409.3,339.0 L410.3,339.0 L411.4,339.4 L412.4,338.9 L412.8,337.8 L413.2,337.1 L413.5,335.9 L413.9,335.4 L414.3,333.4 L414.7,332.6 L414.9,331.2 L415.1,330.8 L415.3,330.4 L415.6,328.9 L415.8,327.8 L416.0,327.2 L416.2,325.9 L416.4,324.0 L416.6,322.8 L416.8,322.3 L417.0,320.7 L417.2,320.3 L417.4,318.3 L417.6,317.8 L417.8,317.3 L418.6,315.3 L419.3,314.0 L419.6,316.0 L419.9,316.0 L420.2,318.2 L420.5,318.6 L420.7,320.1 L421.0,320.4 L421.3,321.3 L421.6,321.9 L422.0,320.4 L422.4,320.8 L422.8,318.4 L423.2,317.0 L423.4,317.3 L423.6,315.6 L423.8,314.5 L424.1,314.0 L424.3,312.6 L424.5,310.7 L424.7,309.6 L425.0,309.3 L425.3,308.4 L425.6,306.6 L425.9,305.7 L426.1,305.2 L426.4,303.5 L426.7,303.8 L427.0,302.6 L427.5,300.8 L427.9,300.6 L428.4,299.7 L428.8,297.9 L429.3,297.6 L430.1,297.2 L430.8,295.6 L431.6,295.0 L432.0,293.0 L432.4,293.1 L432.8,291.4 L433.2,290.1 L433.4,288.1 L433.7,287.7 L433.9,286.0 L434.2,285.7 L434.4,284.2 L434.7,283.3 L435.9,282.6 L437.0,281.6 L438.1,281.0 L439.3,280.6 L439.8,279.1 L440.2,278.9 L440.7,278.6 L441.1,277.3 L441.6,276.8 L441.8,274.2 L442.0,274.0 L442.1,272.1 L442.3,272.1 L442.6,270.4 L442.8,269.7 L443.1,268.8 L443.3,266.6 L443.6,265.6 L443.8,265.7 L444.3,266.8 L444.9,267.2 L445.4,267.5 L445.5,266.4 L445.7,266.7 L445.8,265.5 L445.9,263.9 L446.1,263.4 L446.2,262.5 L446.4,260.1 L446.6,260.3 L446.8,259.6 L447.1,258.3 L447.3,257.3 L447.5,255.5 L447.7,254.7 L447.9,252.7 L448.1,252.8 L448.3,251.5 L448.6,249.9 L448.8,248.2 L449.0,247.4 L449.2,246.6 L449.6,246.4 L450.0,244.5 L450.4,244.0 L450.8,241.7 L451.3,242.8 L451.8,243.8 L452.3,244.8 L452.7,246.9 L453.1,247.3 L453.4,248.3 L453.8,250.1 L453.9,250.7 L454.1,252.5 L454.2,253.2 L454.3,254.5 L454.5,254.8 L454.6,255.8 L455.0,257.1 L455.4,259.1 L455.8,260.2 L456.2,260.7 L456.7,259.6 L457.2,257.8 L457.7,258.1 L458.2,258.7 L458.7,259.4 L459.2,260.0 L459.5,259.5 L459.8,258.8 L460.2,257.0 L460.5,255.9 L460.8,255.2 L461.0,256.2 L461.2,256.4 L461.4,257.5 L461.7,259.0 L461.9,260.6 L462.1,261.0 L462.3,261.4 L462.4,262.8 L462.5,263.9 L462.6,265.9 L462.8,266.1 L462.9,268.4 L463.0,268.4 L463.1,269.3 L463.6,270.0 L464.1,271.9 L464.6,272.9 L465.4,271.9 L465.6,272.8 L465.8,273.7 L466.0,273.9 L466.3,276.5 L466.5,276.5 L466.7,277.5 L466.9,278.5 L467.0,280.3 L467.1,281.6 L467.2,282.1 L467.4,283.1 L467.5,283.8 L467.6,285.9 L467.7,287.2 L468.1,285.0 L468.4,284.1 L468.8,283.8 L469.2,282.6 L469.3,282.7 L469.4,285.3 L469.5,285.9 L469.7,287.0 L469.8,287.5 L469.9,289.7 L470.0,289.9 L470.2,291.3 L470.4,293.0 L470.6,293.9 L470.9,293.8 L471.1,294.9 L471.3,296.1 L471.5,297.1 L471.9,299.5 L472.3,300.1 L472.7,301.1 L473.1,302.1 L473.3,303.3 L473.4,304.2 L473.6,305.7 L473.8,306.2 L473.9,308.0 L474.1,309.0 L474.3,310.1 L474.4,310.9 L474.6,310.9 L474.9,312.4 L475.1,314.1 L475.4,314.4 L475.7,315.8 L475.9,316.2 L476.2,318.3 L476.5,318.4 L476.9,319.5 L477.2,321.3 L477.5,321.1 L477.9,321.9 L478.2,323.7 L478.5,324.7 L478.8,325.2 L479.1,326.7 L479.4,328.4 L479.7,329.6 L480.0,330.7 L480.4,331.5 L480.8,331.3 L481.1,332.9 L481.5,334.0 L481.9,334.4 L482.3,336.7 L482.8,336.7 L483.2,338.5 L483.7,339.2 L484.1,339.5 L484.6,340.6 L485.2,341.7 L485.8,342.4 L486.3,343.2 L486.9,344.5 L487.7,345.5 L488.4,346.6 L489.2,347.8 L490.2,348.0 L491.3,348.2 L492.3,348.4 L493.3,348.8 L494.4,348.9 L495.4,349.2 L496.4,349.5 L497.5,349.7 L498.5,350.0 L499.5,350.0 L500.6,350.0 L501.6,350.0 L502.6,350.0 L503.6,350.1 L504.7,350.1 L505.7,350.1 L506.7,350.1 L507.8,350.1 L508.8,350.1 L509.8,350.1 L510.8,350.1 L511.9,350.1 L512.9,350.2 L513.9,350.2 L514.9,350.2 L516.0,350.2 L517.0,350.2" fill="none" stroke="#b9141e" stroke-width="2.1" stroke-linejoin="round"/>
<path d="M64.6,235.8 L518.5,235.8 L518.5,351.2 L64.6,351.2 Z M216,235.8 L216,351.2 M367.6,235.8 L367.6,351.2" fill="none" stroke="#000" stroke-width="1.5"/>
<line x1="59.4" y1="241.7" x2="64.6" y2="241.7" stroke="#000" stroke-width="1"/>
<text x="57.7" y="244.79999999999998" font-size="8.7" text-anchor="end" >100</text>
<line x1="59.4" y1="263.9" x2="64.6" y2="263.9" stroke="#000" stroke-width="1"/>
<text x="57.7" y="267.0" font-size="8.7" text-anchor="end" >80</text>
<line x1="59.4" y1="286.4" x2="64.6" y2="286.4" stroke="#000" stroke-width="1"/>
<text x="57.7" y="289.5" font-size="8.7" text-anchor="end" >60</text>
<line x1="59.4" y1="309.2" x2="64.6" y2="309.2" stroke="#000" stroke-width="1"/>
<text x="57.7" y="312.3" font-size="8.7" text-anchor="end" >40</text>
<line x1="59.4" y1="331" x2="64.6" y2="331" stroke="#000" stroke-width="1"/>
<text x="57.7" y="334.1" font-size="8.7" text-anchor="end" >20</text>
<line x1="59.4" y1="352" x2="64.6" y2="352" stroke="#000" stroke-width="1"/>
<text x="57.7" y="355.1" font-size="8.7" text-anchor="end" >0</text>
<line x1="62.3" y1="247.2" x2="64.6" y2="247.2" stroke="#000" stroke-width="0.8"/>
<line x1="62.3" y1="252.8" x2="64.6" y2="252.8" stroke="#000" stroke-width="0.8"/>
<line x1="62.3" y1="258.3" x2="64.6" y2="258.3" stroke="#000" stroke-width="0.8"/>
<line x1="62.3" y1="269.5" x2="64.6" y2="269.5" stroke="#000" stroke-width="0.8"/>
<line x1="62.3" y1="275.1" x2="64.6" y2="275.1" stroke="#000" stroke-width="0.8"/>
<line x1="62.3" y1="280.8" x2="64.6" y2="280.8" stroke="#000" stroke-width="0.8"/>
<line x1="62.3" y1="292.1" x2="64.6" y2="292.1" stroke="#000" stroke-width="0.8"/>
<line x1="62.3" y1="297.8" x2="64.6" y2="297.8" stroke="#000" stroke-width="0.8"/>
<line x1="62.3" y1="303.5" x2="64.6" y2="303.5" stroke="#000" stroke-width="0.8"/>
<line x1="62.3" y1="314.6" x2="64.6" y2="314.6" stroke="#000" stroke-width="0.8"/>
<line x1="62.3" y1="320.1" x2="64.6" y2="320.1" stroke="#000" stroke-width="0.8"/>
<line x1="62.3" y1="325.6" x2="64.6" y2="325.6" stroke="#000" stroke-width="0.8"/>
<line x1="62.3" y1="336.2" x2="64.6" y2="336.2" stroke="#000" stroke-width="0.8"/>
<line x1="62.3" y1="341.5" x2="64.6" y2="341.5" stroke="#000" stroke-width="0.8"/>
<line x1="62.3" y1="346.8" x2="64.6" y2="346.8" stroke="#000" stroke-width="0.8"/>
<text transform="translate(37.8,323) rotate(-90)" font-size="10.8">% of Max</text>
<text transform="translate(8.9,108.6) rotate(-90)" font-size="10.8">% of Max</text>
<line x1="77.4" y1="351.2" x2="77.4" y2="354.0" stroke="#000" stroke-width="1"/>
<text x="77.0" y="364" font-size="8.6" text-anchor="middle" >0</text>
<line x1="91.5" y1="351.2" x2="91.5" y2="354.0" stroke="#000" stroke-width="1"/>
<text x="86.6" y="364" font-size="8.5">10<tspan font-size="6.0" dy="-4.2">2</tspan></text>
<line x1="129.5" y1="351.2" x2="129.5" y2="354.0" stroke="#000" stroke-width="1"/>
<text x="124.6" y="364" font-size="8.5">10<tspan font-size="6.0" dy="-4.2">3</tspan></text>
<line x1="165.5" y1="351.2" x2="165.5" y2="354.0" stroke="#000" stroke-width="1"/>
<text x="160.6" y="364" font-size="8.5">10<tspan font-size="6.0" dy="-4.2">4</tspan></text>
<line x1="200.5" y1="351.2" x2="200.5" y2="354.0" stroke="#000" stroke-width="1"/>
<text x="195.6" y="364" font-size="8.5">10<tspan font-size="6.0" dy="-4.2">5</tspan></text>
<line x1="229.6" y1="351.2" x2="229.6" y2="354.0" stroke="#000" stroke-width="1"/>
<text x="229.2" y="364" font-size="8.6" text-anchor="middle" >0</text>
<line x1="243" y1="351.2" x2="243" y2="354.0" stroke="#000" stroke-width="1"/>
<text x="238.1" y="364" font-size="8.5">10<tspan font-size="6.0" dy="-4.2">2</tspan></text>
<line x1="281" y1="351.2" x2="281" y2="354.0" stroke="#000" stroke-width="1"/>
<text x="276.1" y="364" font-size="8.5">10<tspan font-size="6.0" dy="-4.2">3</tspan></text>
<line x1="317.5" y1="351.2" x2="317.5" y2="354.0" stroke="#000" stroke-width="1"/>
<text x="312.6" y="364" font-size="8.5">10<tspan font-size="6.0" dy="-4.2">4</tspan></text>
<line x1="352" y1="351.2" x2="352" y2="354.0" stroke="#000" stroke-width="1"/>
<text x="347.1" y="364" font-size="8.5">10<tspan font-size="6.0" dy="-4.2">5</tspan></text>
<line x1="383.2" y1="351.2" x2="383.2" y2="354.0" stroke="#000" stroke-width="1"/>
<text x="382.8" y="364" font-size="8.6" text-anchor="middle" >0</text>
<line x1="398.5" y1="351.2" x2="398.5" y2="354.0" stroke="#000" stroke-width="1"/>
<text x="393.6" y="364" font-size="8.5">10<tspan font-size="6.0" dy="-4.2">2</tspan></text>
<line x1="435" y1="351.2" x2="435" y2="354.0" stroke="#000" stroke-width="1"/>
<text x="430.1" y="364" font-size="8.5">10<tspan font-size="6.0" dy="-4.2">3</tspan></text>
<line x1="470.5" y1="351.2" x2="470.5" y2="354.0" stroke="#000" stroke-width="1"/>
<text x="465.6" y="364" font-size="8.5">10<tspan font-size="6.0" dy="-4.2">4</tspan></text>
<line x1="506" y1="351.2" x2="506" y2="354.0" stroke="#000" stroke-width="1"/>
<text x="501.1" y="364" font-size="8.5">10<tspan font-size="6.0" dy="-4.2">5</tspan></text>
<text x="63" y="385.3" font-size="10.8" text-anchor="start" >CD25</text>
<line x1="95.3" y1="381.5" x2="358" y2="381.5" stroke="#000" stroke-width="1.4"/>
<path d="M366,381.5 L355.6,376.9 L355.6,386.1 Z" fill="#000"/>
<text x="371.2" y="385.4" font-size="10.7" text-anchor="start" >DNAM-1</text>
<line x1="415.5" y1="381.5" x2="511" y2="381.5" stroke="#000" stroke-width="1.4"/>
<path d="M518.3,381.5 L508.5,376.9 L508.5,386.1 Z" fill="#000"/>
<line x1="81.2" y1="407.8" x2="114" y2="407.8" stroke="#5e9e3a" stroke-width="3.4"/>
<line x1="216.3" y1="407.2" x2="248.4" y2="407.2" stroke="#2e3590" stroke-width="3.4"/>
<line x1="367" y1="407.2" x2="398.4" y2="407.2" stroke="#b8161f" stroke-width="3.4"/>
<text x="150.5" y="409.2" font-size="9.7" text-anchor="middle" >CD40L alone:</text>
<text x="147.8" y="420" font-size="9.7" text-anchor="middle" >all cells</text>
<text x="293.6" y="409.2" font-size="9.7" text-anchor="middle" >CD40L + IL-21:</text>
<text x="295.6" y="420" font-size="9.7" text-anchor="middle" >non-plasmablasts</text>
<text x="442" y="409.2" font-size="9.7" text-anchor="middle" >CD40L + IL-21:</text>
<text x="442.5" y="420" font-size="9.7" text-anchor="middle" >plasmablasts</text>
</svg>
</body></html>
